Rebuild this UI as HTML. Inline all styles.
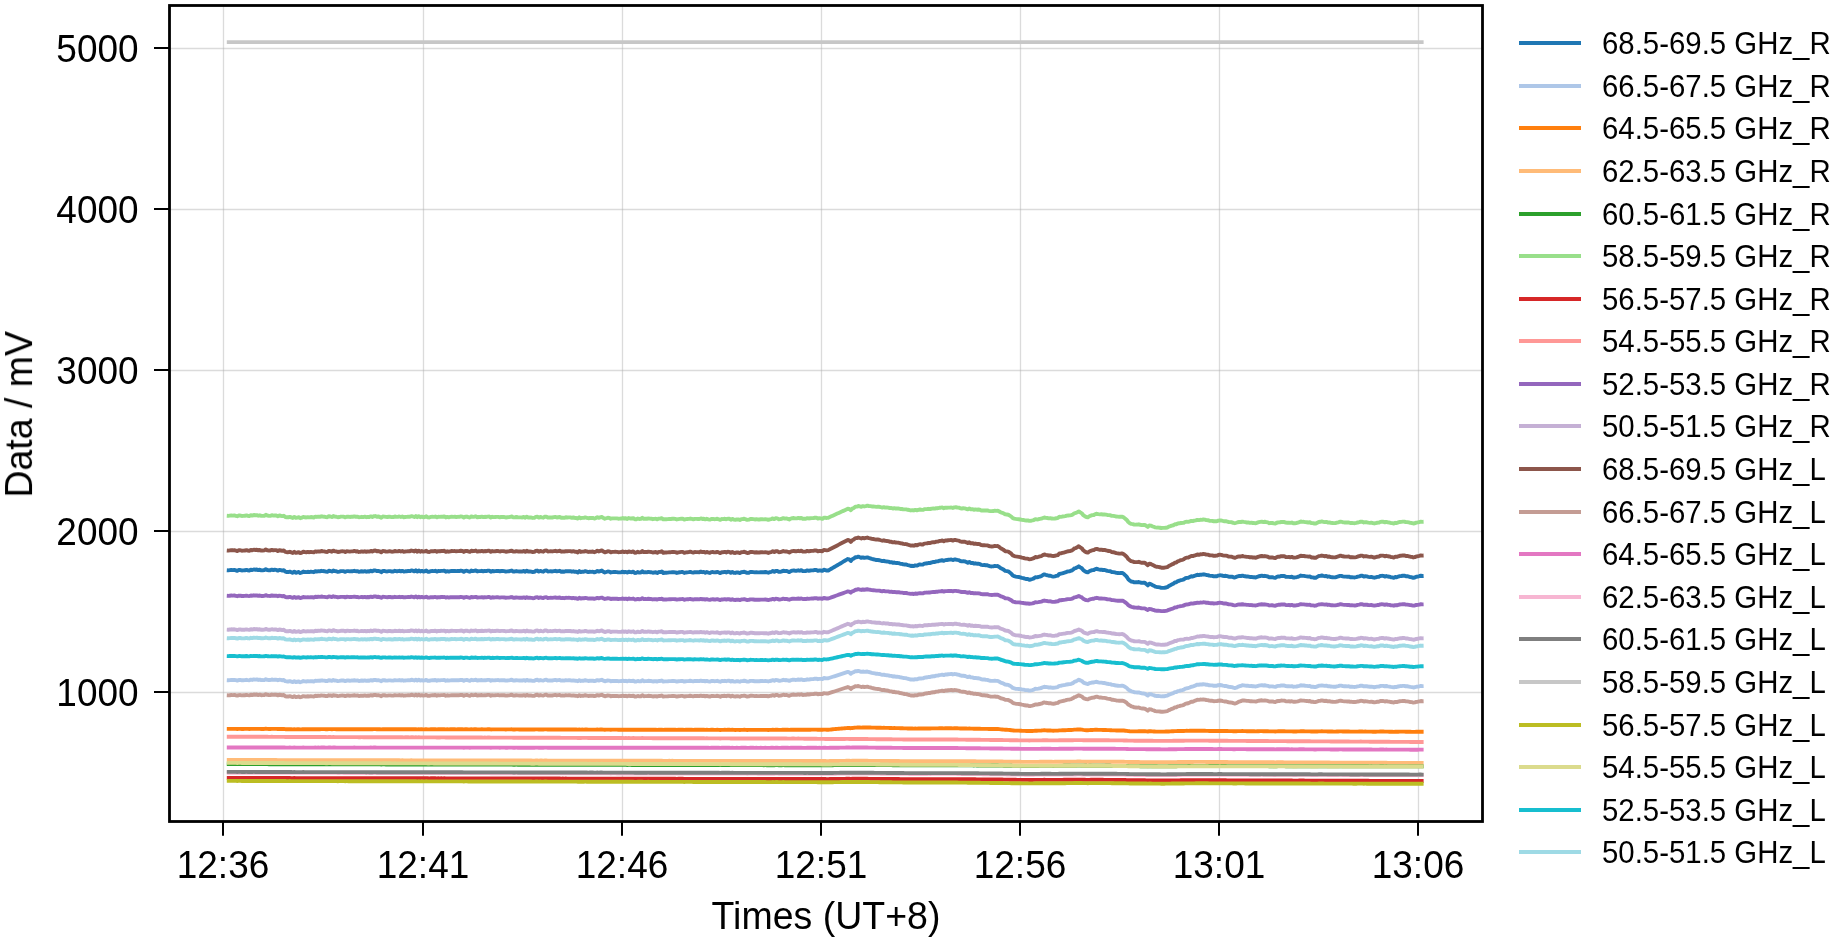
<!DOCTYPE html>
<html><head><meta charset="utf-8"><title>Data / mV</title>
<style>
html,body{margin:0;padding:0;background:#fff;width:1847px;height:941px;overflow:hidden}
svg{display:block}
text{font-family:"Liberation Sans", Arial, Helvetica, sans-serif;fill:#000;will-change:transform}
</style></head><body>
<svg width="1847" height="941" viewBox="0 0 1847 941">
<rect x="0" y="0" width="1847" height="941" fill="#fff"/>
<g stroke="#b0b0b0" stroke-opacity="0.46" stroke-width="1.3"><line x1="223.5" y1="5.5" x2="223.5" y2="821.5"/><line x1="423.5" y1="5.5" x2="423.5" y2="821.5"/><line x1="622.5" y1="5.5" x2="622.5" y2="821.5"/><line x1="821.5" y1="5.5" x2="821.5" y2="821.5"/><line x1="1020.5" y1="5.5" x2="1020.5" y2="821.5"/><line x1="1219.5" y1="5.5" x2="1219.5" y2="821.5"/><line x1="1418.5" y1="5.5" x2="1418.5" y2="821.5"/><line x1="169.5" y1="692.5" x2="1482.5" y2="692.5"/><line x1="169.5" y1="531.5" x2="1482.5" y2="531.5"/><line x1="169.5" y1="370.5" x2="1482.5" y2="370.5"/><line x1="169.5" y1="209.5" x2="1482.5" y2="209.5"/><line x1="169.5" y1="48.5" x2="1482.5" y2="48.5"/></g>
<g fill="none" stroke-width="3.9" stroke-linejoin="round" stroke-linecap="butt">
<path stroke="#1f77b4" d="M226.8 570.30L228.3 570.42L229.8 570.18L231.3 569.92L232.8 570.10L234.3 569.87L235.8 570.31L237.3 570.84L238.8 570.07L240.3 570.02L241.8 570.48L243.3 570.42L244.8 570.31L246.3 569.87L247.8 570.25L249.3 570.55L250.8 569.69L252.3 570.06L253.8 569.45L255.3 569.71L256.8 569.47L258.3 570.15L259.8 569.71L261.3 570.35L262.8 570.30L264.3 570.16L265.8 569.17L267.3 570.00L268.8 570.21L270.3 570.27L271.8 569.58L273.3 570.02L274.8 569.80L276.3 569.87L277.8 570.66L279.3 569.87L280.8 570.19L282.3 570.57L283.8 570.21L285.3 571.68L286.8 572.01L288.3 572.06L289.8 571.59L291.3 572.21L292.8 572.82L294.3 571.67L295.8 572.75L297.3 572.39L298.8 572.00L300.3 573.04L301.8 572.45L303.3 571.56L304.8 572.03L306.3 572.17L307.8 571.78L309.3 572.08L310.8 571.69L312.3 571.93L313.8 572.19L315.3 571.23L316.8 571.53L318.3 571.18L319.8 571.36L321.3 570.80L322.8 571.05L324.3 571.21L325.8 571.67L327.3 571.77L328.8 570.74L330.3 570.96L331.8 571.56L333.3 570.45L334.8 571.09L336.3 571.24L337.8 571.81L339.3 571.57L340.8 571.14L342.3 571.12L343.8 571.17L345.3 571.91L346.8 571.09L348.3 571.14L349.8 571.42L351.3 571.22L352.8 571.18L354.3 570.80L355.8 571.26L357.3 571.08L358.8 571.75L360.3 571.53L361.8 571.25L363.3 571.54L364.8 571.11L366.3 571.70L367.8 571.25L369.3 571.50L370.8 570.71L372.3 571.39L373.8 570.54L375.3 570.39L376.8 571.12L378.3 570.86L379.8 571.31L381.3 572.18L382.8 570.89L384.3 570.97L385.8 571.32L387.3 571.44L388.8 571.16L390.3 571.14L391.8 571.52L393.3 571.45L394.8 570.79L396.3 571.19L397.8 571.24L399.3 570.78L400.8 571.33L402.3 570.86L403.8 571.62L405.3 571.30L406.8 571.25L408.3 570.96L409.8 571.16L411.3 570.37L412.8 570.73L414.3 571.36L415.8 570.31L417.3 571.56L418.8 570.47L420.3 571.52L421.8 570.84L423.3 571.52L424.8 571.25L426.3 570.55L427.8 571.72L429.3 571.80L430.8 571.16L432.3 571.07L433.8 571.12L435.3 570.78L436.8 571.64L438.3 570.95L439.8 571.16L441.3 570.85L442.8 570.91L444.3 570.64L445.8 571.70L447.3 571.11L448.8 571.58L450.3 571.18L451.8 570.88L453.3 571.03L454.8 570.93L456.3 571.17L457.8 571.00L459.3 571.03L460.8 570.58L462.3 570.82L463.8 571.85L465.3 570.87L466.8 570.71L468.3 571.29L469.8 571.74L471.3 570.54L472.8 571.06L474.3 570.88L475.8 570.40L477.3 571.45L478.8 571.13L480.3 571.17L481.8 570.82L483.3 571.33L484.8 570.91L486.3 571.07L487.8 570.67L489.3 570.62L490.8 571.69L492.3 570.91L493.8 571.25L495.3 571.11L496.8 570.94L498.3 570.91L499.8 571.38L501.3 570.99L502.8 571.05L504.3 571.13L505.8 571.61L507.3 571.40L508.8 571.27L510.3 570.87L511.8 570.53L513.3 571.51L514.8 571.51L516.3 571.04L517.8 571.33L519.3 571.43L520.8 571.46L522.3 571.51L523.8 570.95L525.3 571.79L526.8 570.64L528.3 571.54L529.8 571.41L531.3 571.58L532.8 572.02L534.3 571.87L535.8 570.78L537.3 570.56L538.8 571.63L540.3 570.88L541.8 571.31L543.3 571.69L544.8 570.66L546.3 570.48L547.8 571.49L549.3 571.41L550.8 571.30L552.3 571.44L553.8 571.08L555.3 570.82L556.8 571.40L558.3 571.07L559.8 570.81L561.3 571.73L562.8 571.50L564.3 571.71L565.8 571.14L567.3 571.30L568.8 571.17L570.3 571.23L571.8 571.70L573.3 571.30L574.8 571.80L576.3 571.81L577.8 572.53L579.3 571.11L580.8 572.08L582.3 571.69L583.8 571.73L585.3 571.14L586.8 571.57L588.3 572.10L589.8 571.76L591.3 571.85L592.8 571.71L594.3 572.33L595.8 571.85L597.3 570.95L598.8 571.60L600.3 571.08L601.8 570.55L603.3 571.71L604.8 572.51L606.3 571.98L607.8 571.49L609.3 571.60L610.8 572.48L612.3 572.09L613.8 572.06L615.3 572.03L616.8 572.08L618.3 572.42L619.8 572.33L621.3 572.20L622.8 571.69L624.3 572.36L625.8 571.87L627.3 572.63L628.8 571.65L630.3 572.15L631.8 572.21L633.3 571.68L634.8 572.97L636.3 572.88L637.8 572.08L639.3 572.62L640.8 572.46L642.3 571.20L643.8 572.41L645.3 572.27L646.8 572.33L648.3 571.85L649.8 572.19L651.3 572.23L652.8 572.80L654.3 572.44L655.8 572.30L657.3 572.94L658.8 572.07L660.3 572.14L661.8 571.54L663.3 572.96L664.8 572.71L666.3 572.69L667.8 572.58L669.3 572.35L670.8 572.39L672.3 572.19L673.8 572.21L675.3 572.32L676.8 572.93L678.3 572.53L679.8 572.28L681.3 572.06L682.8 572.03L684.3 572.97L685.8 572.51L687.3 572.33L688.8 572.15L690.3 571.83L691.8 572.27L693.3 572.67L694.8 572.14L696.3 572.20L697.8 572.21L699.3 572.35L700.8 571.63L702.3 572.20L703.8 571.94L705.3 572.67L706.8 571.98L708.3 572.54L709.8 572.94L711.3 572.17L712.8 572.05L714.3 572.38L715.8 572.30L717.3 571.88L718.8 572.49L720.3 573.15L721.8 572.19L723.3 572.21L724.8 571.86L726.3 572.43L727.8 571.78L729.3 571.84L730.8 572.84L732.3 571.92L733.8 572.75L735.3 572.94L736.8 572.41L738.3 572.53L739.8 573.12L741.3 572.22L742.8 572.05L744.3 571.73L745.8 572.32L747.3 572.92L748.8 572.70L750.3 571.90L751.8 571.94L753.3 572.09L754.8 572.42L756.3 572.21L757.8 572.39L759.3 572.42L760.8 572.14L762.3 572.19L763.8 572.23L765.3 572.05L766.8 572.24L768.3 572.75L769.8 572.16L771.3 571.87L772.8 571.08L774.3 571.89L775.8 570.85L777.3 571.02L778.8 571.91L780.3 571.78L781.8 571.37L783.3 570.65L784.8 571.15L786.3 570.96L787.8 571.46L789.3 572.08L790.8 571.16L792.3 570.68L793.8 570.46L795.3 570.86L796.8 570.75L798.3 570.28L799.8 570.76L801.3 570.20L802.8 571.13L804.3 571.09L805.8 571.08L807.3 570.40L808.8 570.79L810.3 570.50L811.8 570.37L813.3 570.37L814.8 569.95L816.3 569.87L817.8 570.79L819.3 570.35L820.8 570.50L822.3 570.83L823.8 569.70L825.3 570.13L826.8 570.55L828.3 570.50L829.8 569.62L831.3 568.74L832.8 567.86L834.3 566.97L835.8 566.09L837.3 565.21L838.8 564.33L840.3 563.45L841.8 562.57L843.3 561.69L844.8 560.80L846.3 559.92L847.8 559.07L849.3 559.47L850.8 561.00L852.3 559.29L853.8 558.59L855.3 557.25L856.8 557.23L858.3 556.62L859.8 557.24L861.3 557.89L862.8 557.34L864.3 557.87L865.8 557.63L867.3 557.36L868.8 557.94L870.3 558.39L871.8 558.94L873.3 559.26L874.8 559.63L876.3 560.01L877.8 560.04L879.3 560.19L880.8 560.72L882.3 561.17L883.8 560.78L885.3 561.38L886.8 561.44L888.3 561.57L889.8 562.25L891.3 562.12L892.8 562.84L894.3 562.48L895.8 562.99L897.3 563.05L898.8 563.14L900.3 563.71L901.8 563.83L903.3 564.33L904.8 564.48L906.3 564.52L907.8 565.08L909.3 565.43L910.8 565.97L912.3 565.81L913.8 566.06L915.3 565.34L916.8 565.65L918.3 564.93L919.8 564.46L921.3 564.61L922.8 564.62L924.3 563.67L925.8 563.48L927.3 563.26L928.8 562.86L930.3 562.93L931.8 562.32L933.3 562.03L934.8 562.05L936.3 561.40L937.8 561.39L939.3 560.77L940.8 560.51L942.3 560.15L943.8 560.88L945.3 560.12L946.8 560.06L948.3 559.79L949.8 559.63L951.3 559.42L952.8 560.06L954.3 559.48L955.8 559.52L957.3 559.90L958.8 560.14L960.3 560.98L961.8 561.32L963.3 561.20L964.8 561.41L966.3 562.00L967.8 562.73L969.3 561.91L970.8 562.99L972.3 562.83L973.8 563.60L975.3 563.31L976.8 563.75L978.3 563.68L979.8 564.06L981.3 564.93L982.8 565.08L984.3 565.06L985.8 565.24L987.3 565.28L988.8 565.95L990.3 566.34L991.8 566.43L993.3 566.32L994.8 565.96L996.3 566.12L997.8 566.02L999.3 567.04L1000.8 568.25L1002.3 568.81L1003.8 569.71L1005.3 570.91L1006.8 571.09L1008.3 571.38L1009.8 572.53L1011.3 573.68L1012.8 575.50L1014.3 576.16L1015.8 576.59L1017.3 576.83L1018.8 577.03L1020.3 577.33L1021.8 577.86L1023.3 578.14L1024.8 578.70L1026.3 579.00L1027.8 579.01L1029.3 579.73L1030.8 579.52L1032.3 579.02L1033.8 578.41L1035.3 577.27L1036.8 577.38L1038.3 577.00L1039.8 576.53L1041.3 576.03L1042.8 575.06L1044.3 574.38L1045.8 574.92L1047.3 575.22L1048.8 575.74L1050.3 575.68L1051.8 576.32L1053.3 576.56L1054.8 576.32L1056.3 575.91L1057.8 575.57L1059.3 573.92L1060.8 573.76L1062.3 573.27L1063.8 572.85L1065.3 572.44L1066.8 571.75L1068.3 571.41L1069.8 571.21L1071.3 570.72L1072.8 569.86L1074.3 568.49L1075.8 568.07L1077.3 567.29L1078.8 566.32L1080.3 567.31L1081.8 568.20L1083.3 570.17L1084.8 571.24L1086.3 571.98L1087.8 572.33L1089.3 571.20L1090.8 570.59L1092.3 570.10L1093.8 570.02L1095.3 569.11L1096.8 568.77L1098.3 569.36L1099.8 569.71L1101.3 569.68L1102.8 570.00L1104.3 569.98L1105.8 570.36L1107.3 570.87L1108.8 571.10L1110.3 571.27L1111.8 572.07L1113.3 572.09L1114.8 572.46L1116.3 572.84L1117.8 572.96L1119.3 573.14L1120.8 573.03L1122.3 572.92L1123.8 573.86L1125.3 575.29L1126.8 576.90L1128.3 579.23L1129.8 580.64L1131.3 581.48L1132.8 581.72L1134.3 582.33L1135.8 582.32L1137.3 582.29L1138.8 581.98L1140.3 582.50L1141.8 582.85L1143.3 582.76L1144.8 582.71L1146.3 584.07L1147.8 585.34L1149.3 583.70L1150.8 584.10L1152.3 584.95L1153.8 585.67L1155.3 586.61L1156.8 586.96L1158.3 587.09L1159.8 587.43L1161.3 587.88L1162.8 587.89L1164.3 587.90L1165.8 587.50L1167.3 587.14L1168.8 585.97L1170.3 585.18L1171.8 584.33L1173.3 583.71L1174.8 582.45L1176.3 582.25L1177.8 581.09L1179.3 580.73L1180.8 580.18L1182.3 579.87L1183.8 579.38L1185.3 578.23L1186.8 577.90L1188.3 577.73L1189.8 577.00L1191.3 576.30L1192.8 576.45L1194.3 575.83L1195.8 575.38L1197.3 574.75L1198.8 575.05L1200.3 574.59L1201.8 574.68L1203.3 574.32L1204.8 574.51L1206.3 575.02L1207.8 575.09L1209.3 575.68L1210.8 575.86L1212.3 575.87L1213.8 576.37L1215.3 576.27L1216.8 576.25L1218.3 575.58L1219.8 575.30L1221.3 575.37L1222.8 575.76L1224.3 575.98L1225.8 575.81L1227.3 576.13L1228.8 576.71L1230.3 576.60L1231.8 576.68L1233.3 577.21L1234.8 577.48L1236.3 576.87L1237.8 576.30L1239.3 575.96L1240.8 576.06L1242.3 575.62L1243.8 575.98L1245.3 576.27L1246.8 576.57L1248.3 576.56L1249.8 576.96L1251.3 576.85L1252.8 577.18L1254.3 577.23L1255.8 577.46L1257.3 576.81L1258.8 576.26L1260.3 575.97L1261.8 575.69L1263.3 576.11L1264.8 575.79L1266.3 576.13L1267.8 576.49L1269.3 577.37L1270.8 577.21L1272.3 577.18L1273.8 577.57L1275.3 577.82L1276.8 576.90L1278.3 576.49L1279.8 576.47L1281.3 575.92L1282.8 576.05L1284.3 575.98L1285.8 576.75L1287.3 576.91L1288.8 576.86L1290.3 577.09L1291.8 576.67L1293.3 577.50L1294.8 577.43L1296.3 577.20L1297.8 576.87L1299.3 576.25L1300.8 575.55L1302.3 575.92L1303.8 575.87L1305.3 576.17L1306.8 576.32L1308.3 576.59L1309.8 576.34L1311.3 577.36L1312.8 577.35L1314.3 577.76L1315.8 577.69L1317.3 576.85L1318.8 576.05L1320.3 575.87L1321.8 575.49L1323.3 575.87L1324.8 576.21L1326.3 575.94L1327.8 576.69L1329.3 576.47L1330.8 577.09L1332.3 577.21L1333.8 577.37L1335.3 577.36L1336.8 576.86L1338.3 576.46L1339.8 575.83L1341.3 575.83L1342.8 576.35L1344.3 576.59L1345.8 576.65L1347.3 576.71L1348.8 576.60L1350.3 577.30L1351.8 577.16L1353.3 577.37L1354.8 577.44L1356.3 577.15L1357.8 576.64L1359.3 576.34L1360.8 575.72L1362.3 575.78L1363.8 576.60L1365.3 576.27L1366.8 576.43L1368.3 576.82L1369.8 577.07L1371.3 576.86L1372.8 577.28L1374.3 577.74L1375.8 577.33L1377.3 576.91L1378.8 576.86L1380.3 575.95L1381.8 575.82L1383.3 575.89L1384.8 576.57L1386.3 575.98L1387.8 576.48L1389.3 576.73L1390.8 577.21L1392.3 577.40L1393.8 577.80L1395.3 577.04L1396.8 577.19L1398.3 576.57L1399.8 576.10L1401.3 575.99L1402.8 575.74L1404.3 575.68L1405.8 576.29L1407.3 576.23L1408.8 576.64L1410.3 577.08L1411.8 577.28L1413.3 577.78L1414.8 577.50L1416.3 576.80L1417.8 576.60L1419.3 576.18L1420.8 575.72L1422.3 576.00L1423.6 575.93"/>
<path stroke="#aec7e8" d="M226.8 680.20L228.3 680.29L229.8 680.10L231.3 679.90L232.8 680.03L234.3 679.85L235.8 680.18L237.3 680.57L238.8 679.99L240.3 679.94L241.8 680.28L243.3 680.23L244.8 680.15L246.3 679.81L247.8 680.09L249.3 680.31L250.8 679.66L252.3 679.93L253.8 679.47L255.3 679.66L256.8 679.47L258.3 679.97L259.8 679.64L261.3 680.12L262.8 680.07L264.3 679.96L265.8 679.22L267.3 679.83L268.8 679.98L270.3 680.02L271.8 679.50L273.3 679.82L274.8 679.66L276.3 679.70L277.8 680.29L279.3 679.69L280.8 679.93L282.3 680.21L283.8 679.96L285.3 681.18L286.8 681.45L288.3 681.49L289.8 681.14L291.3 681.60L292.8 682.06L294.3 681.20L295.8 682.02L297.3 681.74L298.8 681.43L300.3 682.20L301.8 681.75L303.3 681.07L304.8 681.40L306.3 681.50L307.8 681.19L309.3 681.40L310.8 681.11L312.3 681.27L313.8 681.45L315.3 680.72L316.8 680.94L318.3 680.66L319.8 680.79L321.3 680.36L322.8 680.54L324.3 680.66L325.8 681.00L327.3 681.07L328.8 680.28L330.3 680.44L331.8 680.89L333.3 680.05L334.8 680.53L336.3 680.64L337.8 681.06L339.3 680.87L340.8 680.55L342.3 680.53L343.8 680.56L345.3 681.11L346.8 680.49L348.3 680.52L349.8 680.72L351.3 680.57L352.8 680.54L354.3 680.24L355.8 680.58L357.3 680.44L358.8 680.94L360.3 680.77L361.8 680.55L363.3 680.77L364.8 680.44L366.3 680.87L367.8 680.53L369.3 680.71L370.8 680.12L372.3 680.63L373.8 679.98L375.3 679.86L376.8 680.40L378.3 680.21L379.8 680.54L381.3 681.19L382.8 680.21L384.3 680.27L385.8 680.52L387.3 680.61L388.8 680.39L390.3 680.38L391.8 680.66L393.3 680.59L394.8 680.10L396.3 680.39L397.8 680.42L399.3 680.07L400.8 680.48L402.3 680.13L403.8 680.70L405.3 680.45L406.8 680.42L408.3 680.20L409.8 680.35L411.3 679.75L412.8 680.02L414.3 680.49L415.8 679.70L417.3 680.64L418.8 679.82L420.3 680.60L421.8 680.10L423.3 680.61L424.8 680.40L426.3 679.87L427.8 680.75L429.3 680.80L430.8 680.33L432.3 680.26L433.8 680.29L435.3 680.03L436.8 680.68L438.3 680.16L439.8 680.32L441.3 680.08L442.8 680.13L444.3 679.92L445.8 680.72L447.3 680.27L448.8 680.62L450.3 680.32L451.8 680.09L453.3 680.21L454.8 680.13L456.3 680.31L457.8 680.18L459.3 680.21L460.8 679.86L462.3 680.04L463.8 680.81L465.3 680.08L466.8 679.96L468.3 680.39L469.8 680.73L471.3 679.82L472.8 680.21L474.3 680.08L475.8 679.72L477.3 680.50L478.8 680.26L480.3 680.29L481.8 680.02L483.3 680.40L484.8 680.09L486.3 680.21L487.8 679.90L489.3 679.87L490.8 680.67L492.3 680.08L493.8 680.33L495.3 680.23L496.8 680.10L498.3 680.07L499.8 680.43L501.3 680.13L502.8 680.18L504.3 680.23L505.8 680.59L507.3 680.43L508.8 680.34L510.3 680.04L511.8 679.78L513.3 680.51L514.8 680.51L516.3 680.16L517.8 680.37L519.3 680.44L520.8 680.47L522.3 680.51L523.8 680.08L525.3 680.72L526.8 679.86L528.3 680.53L529.8 680.43L531.3 680.56L532.8 680.89L534.3 680.77L535.8 679.96L537.3 679.80L538.8 680.60L540.3 680.03L541.8 680.36L543.3 680.64L544.8 679.87L546.3 679.73L547.8 680.49L549.3 680.44L550.8 680.36L552.3 680.46L553.8 680.19L555.3 679.99L556.8 680.43L558.3 680.18L559.8 679.98L561.3 680.67L562.8 680.51L564.3 680.66L565.8 680.24L567.3 680.35L568.8 680.26L570.3 680.30L571.8 680.66L573.3 680.36L574.8 680.73L576.3 680.74L577.8 681.28L579.3 680.21L580.8 680.94L582.3 680.65L583.8 680.68L585.3 680.24L586.8 680.56L588.3 680.95L589.8 680.71L591.3 680.77L592.8 680.66L594.3 681.13L595.8 680.77L597.3 680.10L598.8 680.58L600.3 680.19L601.8 679.80L603.3 680.67L604.8 681.27L606.3 680.87L607.8 680.50L609.3 680.59L610.8 681.25L612.3 680.95L613.8 680.93L615.3 680.91L616.8 680.95L618.3 681.20L619.8 681.14L621.3 681.04L622.8 680.66L624.3 681.16L625.8 680.79L627.3 681.36L628.8 680.63L630.3 681.00L631.8 681.05L633.3 680.65L634.8 681.62L636.3 681.55L637.8 680.95L639.3 681.35L640.8 681.24L642.3 680.29L643.8 681.19L645.3 681.09L646.8 681.14L648.3 680.77L649.8 681.02L651.3 681.05L652.8 681.48L654.3 681.21L655.8 681.10L657.3 681.58L658.8 680.93L660.3 680.98L661.8 680.53L663.3 681.60L664.8 681.41L666.3 681.39L667.8 681.31L669.3 681.14L670.8 681.17L672.3 681.03L673.8 681.04L675.3 681.12L676.8 681.58L678.3 681.28L679.8 681.09L681.3 680.93L682.8 680.91L684.3 681.62L685.8 681.27L687.3 681.13L688.8 681.00L690.3 680.76L691.8 681.09L693.3 681.39L694.8 680.99L696.3 681.04L697.8 681.05L699.3 681.15L700.8 680.62L702.3 681.04L703.8 680.85L705.3 681.40L706.8 680.88L708.3 681.30L709.8 681.60L711.3 681.02L712.8 680.93L714.3 681.18L715.8 681.12L717.3 680.81L718.8 681.27L720.3 681.76L721.8 681.05L723.3 681.06L724.8 680.80L726.3 681.23L727.8 680.74L729.3 680.78L730.8 681.53L732.3 680.85L733.8 681.47L735.3 681.61L736.8 681.21L738.3 681.31L739.8 681.75L741.3 681.07L742.8 680.95L744.3 680.71L745.8 681.15L747.3 681.60L748.8 681.44L750.3 680.84L751.8 680.87L753.3 680.98L754.8 681.23L756.3 681.08L757.8 681.21L759.3 681.24L760.8 681.02L762.3 681.05L763.8 681.08L765.3 680.94L766.8 681.07L768.3 681.45L769.8 681.00L771.3 680.78L772.8 680.18L774.3 680.78L775.8 680.00L777.3 680.12L778.8 680.78L780.3 680.68L781.8 680.36L783.3 679.82L784.8 680.19L786.3 680.05L787.8 680.41L789.3 680.87L790.8 680.18L792.3 679.81L793.8 679.64L795.3 679.94L796.8 679.85L798.3 679.49L799.8 679.84L801.3 679.38L802.8 680.02L804.3 679.94L805.8 679.87L807.3 679.31L808.8 679.56L810.3 679.28L811.8 679.13L813.3 679.08L814.8 678.71L816.3 678.59L817.8 679.23L819.3 678.85L820.8 678.91L822.3 679.06L823.8 678.05L825.3 678.21L826.8 678.37L828.3 678.25L829.8 677.76L831.3 677.27L832.8 676.77L834.3 676.28L835.8 675.79L837.3 675.29L838.8 674.80L840.3 674.30L841.8 673.81L843.3 673.32L844.8 672.82L846.3 672.33L847.8 671.85L849.3 672.37L850.8 673.75L852.3 672.52L853.8 672.04L855.3 671.12L856.8 671.25L858.3 670.91L859.8 671.40L861.3 671.92L862.8 671.51L864.3 671.90L865.8 671.71L867.3 671.52L868.8 672.00L870.3 672.38L871.8 672.84L873.3 673.13L874.8 673.45L876.3 673.76L877.8 673.82L879.3 673.99L880.8 674.44L882.3 674.83L883.8 674.60L885.3 675.10L886.8 675.20L888.3 675.35L889.8 675.92L891.3 675.87L892.8 676.47L894.3 676.26L895.8 676.70L897.3 676.80L898.8 676.91L900.3 677.40L901.8 677.56L903.3 678.00L904.8 678.17L906.3 678.27L907.8 678.75L909.3 679.08L910.8 679.55L912.3 679.49L913.8 679.69L915.3 679.12L916.8 679.32L918.3 678.74L919.8 678.35L921.3 678.43L922.8 678.40L924.3 677.65L925.8 677.48L927.3 677.28L928.8 676.94L930.3 676.95L931.8 676.46L933.3 676.21L934.8 676.18L936.3 675.66L937.8 675.62L939.3 675.12L940.8 674.89L942.3 674.60L943.8 675.11L945.3 674.52L946.8 674.45L948.3 674.22L949.8 674.07L951.3 673.90L952.8 674.43L954.3 674.06L955.8 674.14L957.3 674.48L958.8 674.73L960.3 675.44L961.8 675.76L963.3 675.74L964.8 675.97L966.3 676.48L967.8 677.09L969.3 676.54L970.8 677.42L972.3 677.35L973.8 678.00L975.3 677.84L976.8 678.23L978.3 678.24L979.8 678.58L981.3 679.30L982.8 679.48L984.3 679.54L985.8 679.74L987.3 679.83L988.8 680.40L990.3 680.76L991.8 680.90L993.3 680.90L994.8 680.70L996.3 680.89L997.8 680.89L999.3 681.67L1000.8 682.59L1002.3 683.03L1003.8 683.73L1005.3 684.64L1006.8 684.70L1008.3 684.84L1009.8 685.68L1011.3 686.57L1012.8 687.96L1014.3 688.44L1015.8 688.71L1017.3 688.83L1018.8 688.94L1020.3 689.10L1021.8 689.46L1023.3 689.61L1024.8 689.98L1026.3 690.15L1027.8 690.11L1029.3 690.60L1030.8 690.45L1032.3 690.08L1033.8 689.63L1035.3 688.78L1036.8 688.90L1038.3 688.66L1039.8 688.34L1041.3 688.00L1042.8 687.25L1044.3 686.74L1045.8 687.05L1047.3 687.17L1048.8 687.47L1050.3 687.32L1051.8 687.68L1053.3 687.76L1054.8 687.56L1056.3 687.32L1057.8 687.10L1059.3 685.84L1060.8 685.75L1062.3 685.43L1063.8 685.17L1065.3 684.92L1066.8 684.45L1068.3 684.25L1069.8 684.15L1071.3 683.83L1072.8 683.14L1074.3 681.91L1075.8 681.40L1077.3 680.62L1078.8 679.69L1080.3 680.37L1081.8 680.98L1083.3 682.41L1084.8 683.16L1086.3 683.66L1087.8 683.99L1089.3 683.21L1090.8 682.83L1092.3 682.53L1093.8 682.55L1095.3 681.95L1096.8 681.78L1098.3 682.29L1099.8 682.63L1101.3 682.67L1102.8 682.96L1104.3 682.99L1105.8 683.32L1107.3 683.76L1108.8 683.98L1110.3 684.15L1111.8 684.83L1113.3 684.92L1114.8 685.23L1116.3 685.56L1117.8 685.69L1119.3 685.86L1120.8 685.81L1122.3 685.70L1123.8 686.12L1125.3 686.99L1126.8 688.01L1128.3 689.57L1129.8 690.44L1131.3 691.28L1132.8 691.68L1134.3 692.30L1135.8 692.43L1137.3 692.55L1138.8 692.46L1140.3 692.99L1141.8 693.40L1143.3 693.47L1144.8 693.59L1146.3 694.59L1147.8 695.51L1149.3 694.07L1150.8 694.20L1152.3 694.76L1153.8 695.23L1155.3 695.87L1156.8 696.04L1158.3 696.03L1159.8 696.18L1161.3 696.42L1162.8 696.31L1164.3 696.24L1165.8 695.95L1167.3 695.68L1168.8 694.81L1170.3 694.21L1171.8 693.55L1173.3 693.06L1174.8 692.10L1176.3 691.96L1177.8 691.10L1179.3 690.85L1180.8 690.39L1182.3 690.06L1183.8 689.60L1185.3 688.64L1186.8 688.29L1188.3 688.08L1189.8 687.44L1191.3 686.70L1192.8 686.59L1194.3 685.90L1195.8 685.33L1197.3 684.63L1198.8 684.75L1200.3 684.41L1201.8 684.48L1203.3 684.22L1204.8 684.36L1206.3 684.75L1207.8 684.81L1209.3 685.26L1210.8 685.40L1212.3 685.41L1213.8 685.79L1215.3 685.72L1216.8 685.71L1218.3 685.21L1219.8 685.05L1221.3 685.23L1222.8 685.66L1224.3 685.96L1225.8 685.97L1227.3 686.34L1228.8 686.91L1230.3 686.96L1231.8 687.16L1233.3 687.69L1234.8 688.03L1236.3 687.70L1237.8 686.89L1239.3 686.26L1240.8 685.95L1242.3 685.24L1243.8 685.33L1245.3 685.56L1246.8 685.79L1248.3 685.79L1249.8 686.10L1251.3 686.02L1252.8 686.27L1254.3 686.32L1255.8 686.50L1257.3 686.02L1258.8 685.62L1260.3 685.40L1261.8 685.20L1263.3 685.52L1264.8 685.29L1266.3 685.55L1267.8 685.83L1269.3 686.49L1270.8 686.38L1272.3 686.36L1273.8 686.67L1275.3 686.86L1276.8 686.18L1278.3 685.87L1279.8 685.87L1281.3 685.46L1282.8 685.56L1284.3 685.52L1285.8 686.11L1287.3 686.23L1288.8 686.20L1290.3 686.38L1291.8 686.08L1293.3 686.70L1294.8 686.66L1296.3 686.49L1297.8 686.25L1299.3 685.79L1300.8 685.27L1302.3 685.56L1303.8 685.53L1305.3 685.76L1306.8 685.88L1308.3 686.09L1309.8 685.91L1311.3 686.68L1312.8 686.68L1314.3 686.99L1315.8 686.95L1317.3 686.33L1318.8 685.73L1320.3 685.61L1321.8 685.33L1323.3 685.61L1324.8 685.88L1326.3 685.68L1327.8 686.25L1329.3 686.09L1330.8 686.57L1332.3 686.66L1333.8 686.79L1335.3 686.79L1336.8 686.42L1338.3 686.13L1339.8 685.66L1341.3 685.67L1342.8 686.07L1344.3 686.25L1345.8 686.30L1347.3 686.36L1348.8 686.28L1350.3 686.81L1351.8 686.72L1353.3 686.88L1354.8 686.94L1356.3 686.73L1357.8 686.35L1359.3 686.13L1360.8 685.68L1362.3 685.73L1363.8 686.35L1365.3 686.11L1366.8 686.24L1368.3 686.54L1369.8 686.73L1371.3 686.58L1372.8 686.90L1374.3 687.26L1375.8 686.95L1377.3 686.64L1378.8 686.61L1380.3 685.94L1381.8 685.85L1383.3 685.91L1384.8 686.42L1386.3 685.99L1387.8 686.37L1389.3 686.56L1390.8 686.93L1392.3 687.09L1393.8 687.39L1395.3 686.83L1396.8 686.95L1398.3 686.48L1399.8 686.14L1401.3 686.07L1402.8 685.89L1404.3 685.85L1405.8 686.31L1407.3 686.28L1408.8 686.59L1410.3 686.93L1411.8 687.08L1413.3 687.46L1414.8 687.26L1416.3 686.75L1417.8 686.60L1419.3 686.29L1420.8 685.95L1422.3 686.17L1423.6 686.12"/>
<path stroke="#ff7f0e" d="M226.8 728.90L228.3 728.92L229.8 728.89L231.3 728.86L232.8 728.88L234.3 728.86L235.8 728.91L237.3 728.98L238.8 728.89L240.3 728.88L241.8 728.94L243.3 728.93L244.8 728.92L246.3 728.87L247.8 728.92L249.3 728.96L250.8 728.86L252.3 728.90L253.8 728.83L255.3 728.86L256.8 728.84L258.3 728.92L259.8 728.87L261.3 728.95L262.8 728.94L264.3 728.93L265.8 728.81L267.3 728.91L268.8 728.94L270.3 728.95L271.8 728.87L273.3 728.92L274.8 728.90L276.3 728.91L277.8 729.01L279.3 728.91L280.8 728.95L282.3 729.00L283.8 728.97L285.3 729.18L286.8 729.23L288.3 729.24L289.8 729.19L291.3 729.27L292.8 729.35L294.3 729.21L295.8 729.35L297.3 729.30L298.8 729.26L300.3 729.38L301.8 729.31L303.3 729.20L304.8 729.26L306.3 729.28L307.8 729.23L309.3 729.26L310.8 729.22L312.3 729.25L313.8 729.28L315.3 729.16L316.8 729.20L318.3 729.16L319.8 729.18L321.3 729.11L322.8 729.14L324.3 729.17L325.8 729.22L327.3 729.24L328.8 729.11L330.3 729.14L331.8 729.22L333.3 729.09L334.8 729.16L336.3 729.18L337.8 729.25L339.3 729.23L340.8 729.18L342.3 729.18L343.8 729.18L345.3 729.28L346.8 729.18L348.3 729.19L349.8 729.22L351.3 729.20L352.8 729.20L354.3 729.15L355.8 729.21L357.3 729.19L358.8 729.27L360.3 729.25L361.8 729.22L363.3 729.25L364.8 729.20L366.3 729.28L367.8 729.22L369.3 729.26L370.8 729.16L372.3 729.25L373.8 729.15L375.3 729.13L376.8 729.22L378.3 729.19L379.8 729.25L381.3 729.35L382.8 729.20L384.3 729.21L385.8 729.26L387.3 729.27L388.8 729.24L390.3 729.24L391.8 729.29L393.3 729.28L394.8 729.20L396.3 729.25L397.8 729.26L399.3 729.21L400.8 729.28L402.3 729.22L403.8 729.31L405.3 729.28L406.8 729.27L408.3 729.24L409.8 729.27L411.3 729.17L412.8 729.22L414.3 729.30L415.8 729.17L417.3 729.32L418.8 729.20L420.3 729.32L421.8 729.24L423.3 729.33L424.8 729.30L426.3 729.21L427.8 729.36L429.3 729.37L430.8 729.29L432.3 729.28L433.8 729.29L435.3 729.25L436.8 729.36L438.3 729.28L439.8 729.30L441.3 729.27L442.8 729.28L444.3 729.25L445.8 729.38L447.3 729.31L448.8 729.37L450.3 729.32L451.8 729.29L453.3 729.31L454.8 729.30L456.3 729.33L457.8 729.31L459.3 729.31L460.8 729.26L462.3 729.29L463.8 729.42L465.3 729.30L466.8 729.28L468.3 729.36L469.8 729.41L471.3 729.27L472.8 729.33L474.3 729.31L475.8 729.26L477.3 729.39L478.8 729.35L480.3 729.36L481.8 729.32L483.3 729.38L484.8 729.33L486.3 729.35L487.8 729.31L489.3 729.30L490.8 729.43L492.3 729.34L493.8 729.38L495.3 729.37L496.8 729.35L498.3 729.35L499.8 729.41L501.3 729.36L502.8 729.37L504.3 729.38L505.8 729.44L507.3 729.42L508.8 729.41L510.3 729.36L511.8 729.32L513.3 729.44L514.8 729.44L516.3 729.39L517.8 729.42L519.3 729.44L520.8 729.44L522.3 729.45L523.8 729.39L525.3 729.49L526.8 729.35L528.3 729.47L529.8 729.45L531.3 729.47L532.8 729.53L534.3 729.51L535.8 729.38L537.3 729.36L538.8 729.49L540.3 729.40L541.8 729.46L543.3 729.51L544.8 729.38L546.3 729.37L547.8 729.49L549.3 729.48L550.8 729.47L552.3 729.49L553.8 729.45L555.3 729.42L556.8 729.49L558.3 729.46L559.8 729.43L561.3 729.54L562.8 729.51L564.3 729.54L565.8 729.48L567.3 729.50L568.8 729.48L570.3 729.49L571.8 729.55L573.3 729.51L574.8 729.57L576.3 729.57L577.8 729.66L579.3 729.49L580.8 729.61L582.3 729.57L583.8 729.58L585.3 729.51L586.8 729.56L588.3 729.63L589.8 729.59L591.3 729.60L592.8 729.59L594.3 729.66L595.8 729.61L597.3 729.50L598.8 729.58L600.3 729.52L601.8 729.46L603.3 729.60L604.8 729.70L606.3 729.64L607.8 729.58L609.3 729.60L610.8 729.71L612.3 729.66L613.8 729.66L615.3 729.66L616.8 729.67L618.3 729.71L619.8 729.70L621.3 729.69L622.8 729.63L624.3 729.72L625.8 729.66L627.3 729.75L628.8 729.64L630.3 729.70L631.8 729.71L633.3 729.65L634.8 729.81L636.3 729.80L637.8 729.70L639.3 729.77L640.8 729.75L642.3 729.60L643.8 729.75L645.3 729.74L646.8 729.75L648.3 729.69L649.8 729.73L651.3 729.74L652.8 729.81L654.3 729.77L655.8 729.75L657.3 729.83L658.8 729.73L660.3 729.74L661.8 729.67L663.3 729.84L664.8 729.81L666.3 729.81L667.8 729.80L669.3 729.78L670.8 729.78L672.3 729.76L673.8 729.77L675.3 729.78L676.8 729.86L678.3 729.81L679.8 729.78L681.3 729.76L682.8 729.76L684.3 729.87L685.8 729.82L687.3 729.80L688.8 729.78L690.3 729.74L691.8 729.80L693.3 729.85L694.8 729.78L696.3 729.79L697.8 729.80L699.3 729.82L700.8 729.73L702.3 729.80L703.8 729.77L705.3 729.86L706.8 729.78L708.3 729.85L709.8 729.90L711.3 729.81L712.8 729.80L714.3 729.84L715.8 729.83L717.3 729.78L718.8 729.86L720.3 729.94L721.8 729.83L723.3 729.83L724.8 729.79L726.3 729.86L727.8 729.78L729.3 729.79L730.8 729.92L732.3 729.81L733.8 729.91L735.3 729.93L736.8 729.87L738.3 729.89L739.8 729.96L741.3 729.85L742.8 729.84L744.3 729.80L745.8 729.87L747.3 729.95L748.8 729.92L750.3 729.83L751.8 729.83L753.3 729.85L754.8 729.90L756.3 729.87L757.8 729.90L759.3 729.90L760.8 729.87L762.3 729.88L763.8 729.88L765.3 729.86L766.8 729.88L768.3 729.94L769.8 729.87L771.3 729.84L772.8 729.74L774.3 729.84L775.8 729.72L777.3 729.74L778.8 729.84L780.3 729.83L781.8 729.78L783.3 729.69L784.8 729.75L786.3 729.73L787.8 729.79L789.3 729.86L790.8 729.75L792.3 729.70L793.8 729.67L795.3 729.72L796.8 729.71L798.3 729.65L799.8 729.71L801.3 729.64L802.8 729.75L804.3 729.75L805.8 729.75L807.3 729.67L808.8 729.72L810.3 729.68L811.8 729.67L813.3 729.67L814.8 729.62L816.3 729.61L817.8 729.72L819.3 729.67L820.8 729.69L822.3 729.73L823.8 729.60L825.3 729.65L826.8 729.70L828.3 729.70L829.8 729.57L831.3 729.44L832.8 729.30L834.3 729.17L835.8 729.04L837.3 728.91L838.8 728.78L840.3 728.64L841.8 728.51L843.3 728.38L844.8 728.25L846.3 728.11L847.8 727.98L849.3 728.03L850.8 728.20L852.3 727.94L853.8 727.80L855.3 727.59L856.8 727.55L858.3 727.45L859.8 727.51L861.3 727.58L862.8 727.49L864.3 727.53L865.8 727.48L867.3 727.42L868.8 727.49L870.3 727.53L871.8 727.59L873.3 727.62L874.8 727.65L876.3 727.69L877.8 727.69L879.3 727.71L880.8 727.78L882.3 727.84L883.8 727.80L885.3 727.88L886.8 727.89L888.3 727.91L889.8 728.00L891.3 727.99L892.8 728.09L894.3 728.05L895.8 728.12L897.3 728.13L898.8 728.15L900.3 728.22L901.8 728.25L903.3 728.32L904.8 728.34L906.3 728.36L907.8 728.44L909.3 728.49L910.8 728.56L912.3 728.55L913.8 728.60L915.3 728.53L916.8 728.59L918.3 728.52L919.8 728.48L921.3 728.52L922.8 728.54L924.3 728.45L925.8 728.44L927.3 728.44L928.8 728.41L930.3 728.43L931.8 728.38L933.3 728.36L934.8 728.39L936.3 728.33L937.8 728.34L939.3 728.29L940.8 728.28L942.3 728.26L943.8 728.37L945.3 728.30L946.8 728.31L948.3 728.30L949.8 728.31L951.3 728.30L952.8 728.36L954.3 728.29L955.8 728.28L957.3 728.32L958.8 728.35L960.3 728.44L961.8 728.48L963.3 728.46L964.8 728.48L966.3 728.55L967.8 728.63L969.3 728.53L970.8 728.65L972.3 728.63L973.8 728.71L975.3 728.67L976.8 728.72L978.3 728.71L979.8 728.74L981.3 728.84L982.8 728.86L984.3 728.85L985.8 728.87L987.3 728.87L988.8 728.94L990.3 728.98L991.8 729.00L993.3 729.00L994.8 728.96L996.3 728.99L997.8 728.99L999.3 729.14L1000.8 729.33L1002.3 729.44L1003.8 729.60L1005.3 729.78L1006.8 729.81L1008.3 729.85L1009.8 730.01L1011.3 730.19L1012.8 730.44L1014.3 730.54L1015.8 730.60L1017.3 730.64L1018.8 730.67L1020.3 730.72L1021.8 730.80L1023.3 730.84L1024.8 730.92L1026.3 730.96L1027.8 730.98L1029.3 731.07L1030.8 731.05L1032.3 730.97L1033.8 730.88L1035.3 730.72L1036.8 730.72L1038.3 730.67L1039.8 730.60L1041.3 730.52L1042.8 730.38L1044.3 730.28L1045.8 730.37L1047.3 730.44L1048.8 730.52L1050.3 730.54L1051.8 730.64L1053.3 730.69L1054.8 730.67L1056.3 730.62L1057.8 730.58L1059.3 730.36L1060.8 730.33L1062.3 730.28L1063.8 730.23L1065.3 730.18L1066.8 730.10L1068.3 730.06L1069.8 730.03L1071.3 729.98L1072.8 729.86L1074.3 729.67L1075.8 729.59L1077.3 729.47L1078.8 729.33L1080.3 729.49L1081.8 729.63L1083.3 729.91L1084.8 730.08L1086.3 730.21L1087.8 730.25L1089.3 730.10L1090.8 730.01L1092.3 729.94L1093.8 729.92L1095.3 729.80L1096.8 729.75L1098.3 729.84L1099.8 729.90L1101.3 729.91L1102.8 729.97L1104.3 729.98L1105.8 730.04L1107.3 730.11L1108.8 730.16L1110.3 730.19L1111.8 730.31L1113.3 730.33L1114.8 730.39L1116.3 730.45L1117.8 730.47L1119.3 730.50L1120.8 730.50L1122.3 730.48L1123.8 730.54L1125.3 730.69L1126.8 730.87L1128.3 731.13L1129.8 731.27L1131.3 731.33L1132.8 731.34L1134.3 731.39L1135.8 731.36L1137.3 731.33L1138.8 731.26L1140.3 731.29L1141.8 731.30L1143.3 731.26L1144.8 731.22L1146.3 731.39L1147.8 731.54L1149.3 731.29L1150.8 731.30L1152.3 731.39L1153.8 731.46L1155.3 731.56L1156.8 731.59L1158.3 731.58L1159.8 731.60L1161.3 731.63L1162.8 731.61L1164.3 731.59L1165.8 731.57L1167.3 731.56L1168.8 731.45L1170.3 731.38L1171.8 731.30L1173.3 731.24L1174.8 731.11L1176.3 731.12L1177.8 731.01L1179.3 731.00L1180.8 730.97L1182.3 730.96L1183.8 730.94L1185.3 730.83L1186.8 730.82L1188.3 730.84L1189.8 730.78L1191.3 730.73L1192.8 730.79L1194.3 730.75L1195.8 730.73L1197.3 730.69L1198.8 730.77L1200.3 730.76L1201.8 730.78L1203.3 730.74L1204.8 730.77L1206.3 730.84L1207.8 730.85L1209.3 730.93L1210.8 730.96L1212.3 730.97L1213.8 731.04L1215.3 731.03L1216.8 731.04L1218.3 730.96L1219.8 730.94L1221.3 730.95L1222.8 731.01L1224.3 731.04L1225.8 731.03L1227.3 731.07L1228.8 731.15L1230.3 731.14L1231.8 731.16L1233.3 731.23L1234.8 731.27L1236.3 731.20L1237.8 731.14L1239.3 731.10L1240.8 731.12L1242.3 731.07L1243.8 731.12L1245.3 731.16L1246.8 731.20L1248.3 731.20L1249.8 731.26L1251.3 731.25L1252.8 731.29L1254.3 731.30L1255.8 731.34L1257.3 731.26L1258.8 731.20L1260.3 731.17L1261.8 731.14L1263.3 731.20L1264.8 731.17L1266.3 731.21L1267.8 731.26L1269.3 731.37L1270.8 731.36L1272.3 731.36L1273.8 731.41L1275.3 731.44L1276.8 731.34L1278.3 731.29L1279.8 731.30L1281.3 731.24L1282.8 731.26L1284.3 731.25L1285.8 731.35L1287.3 731.38L1288.8 731.37L1290.3 731.41L1291.8 731.36L1293.3 731.47L1294.8 731.46L1296.3 731.44L1297.8 731.40L1299.3 731.33L1300.8 731.26L1302.3 731.31L1303.8 731.30L1305.3 731.35L1306.8 731.37L1308.3 731.41L1309.8 731.38L1311.3 731.51L1312.8 731.51L1314.3 731.57L1315.8 731.56L1317.3 731.47L1318.8 731.38L1320.3 731.36L1321.8 731.32L1323.3 731.37L1324.8 731.41L1326.3 731.39L1327.8 731.48L1329.3 731.46L1330.8 731.54L1332.3 731.56L1333.8 731.58L1335.3 731.59L1336.8 731.53L1338.3 731.49L1339.8 731.42L1341.3 731.42L1342.8 731.49L1344.3 731.52L1345.8 731.54L1347.3 731.55L1348.8 731.54L1350.3 731.63L1351.8 731.62L1353.3 731.65L1354.8 731.66L1356.3 731.63L1357.8 731.58L1359.3 731.54L1360.8 731.48L1362.3 731.49L1363.8 731.59L1365.3 731.56L1366.8 731.58L1368.3 731.63L1369.8 731.67L1371.3 731.65L1372.8 731.70L1374.3 731.76L1375.8 731.72L1377.3 731.67L1378.8 731.67L1380.3 731.57L1381.8 731.56L1383.3 731.57L1384.8 731.66L1386.3 731.59L1387.8 731.66L1389.3 731.69L1390.8 731.75L1392.3 731.78L1393.8 731.83L1395.3 731.75L1396.8 731.77L1398.3 731.70L1399.8 731.65L1401.3 731.64L1402.8 731.62L1404.3 731.61L1405.8 731.69L1407.3 731.69L1408.8 731.74L1410.3 731.80L1411.8 731.83L1413.3 731.90L1414.8 731.87L1416.3 731.79L1417.8 731.77L1419.3 731.72L1420.8 731.67L1422.3 731.71L1423.6 731.71"/>
<path stroke="#ffbb78" d="M226.8 760.00L228.3 760.01L229.8 760.00L231.3 760.00L232.8 760.00L234.3 760.00L235.8 760.02L237.3 760.03L238.8 760.01L240.3 760.01L241.8 760.03L243.3 760.03L244.8 760.03L246.3 760.02L247.8 760.03L249.3 760.05L250.8 760.02L252.3 760.04L253.8 760.02L255.3 760.03L256.8 760.03L258.3 760.05L259.8 760.04L261.3 760.06L262.8 760.06L264.3 760.06L265.8 760.03L267.3 760.06L268.8 760.07L270.3 760.07L271.8 760.06L273.3 760.07L274.8 760.07L276.3 760.07L277.8 760.10L279.3 760.08L280.8 760.09L282.3 760.10L283.8 760.10L285.3 760.14L286.8 760.15L288.3 760.16L289.8 760.15L291.3 760.17L292.8 760.19L294.3 760.16L295.8 760.19L297.3 760.18L298.8 760.18L300.3 760.21L301.8 760.19L303.3 760.17L304.8 760.19L306.3 760.19L307.8 760.18L309.3 760.20L310.8 760.19L312.3 760.20L313.8 760.21L315.3 760.18L316.8 760.19L318.3 760.18L319.8 760.19L321.3 760.18L322.8 760.19L324.3 760.20L325.8 760.21L327.3 760.22L328.8 760.19L330.3 760.20L331.8 760.22L333.3 760.19L334.8 760.21L336.3 760.22L337.8 760.24L339.3 760.23L340.8 760.22L342.3 760.22L343.8 760.23L345.3 760.25L346.8 760.23L348.3 760.23L349.8 760.25L351.3 760.24L352.8 760.24L354.3 760.23L355.8 760.25L357.3 760.25L358.8 760.27L360.3 760.27L361.8 760.26L363.3 760.27L364.8 760.26L366.3 760.28L367.8 760.27L369.3 760.28L370.8 760.26L372.3 760.28L373.8 760.26L375.3 760.26L376.8 760.28L378.3 760.28L379.8 760.29L381.3 760.32L382.8 760.29L384.3 760.29L385.8 760.30L387.3 760.31L388.8 760.30L390.3 760.31L391.8 760.32L393.3 760.32L394.8 760.30L396.3 760.32L397.8 760.32L399.3 760.31L400.8 760.33L402.3 760.32L403.8 760.34L405.3 760.34L406.8 760.34L408.3 760.33L409.8 760.34L411.3 760.32L412.8 760.33L414.3 760.35L415.8 760.33L417.3 760.37L418.8 760.34L420.3 760.37L421.8 760.35L423.3 760.38L424.8 760.37L426.3 760.35L427.8 760.39L429.3 760.39L430.8 760.38L432.3 760.38L433.8 760.38L435.3 760.37L436.8 760.40L438.3 760.38L439.8 760.39L441.3 760.39L442.8 760.39L444.3 760.39L445.8 760.42L447.3 760.40L448.8 760.42L450.3 760.41L451.8 760.41L453.3 760.41L454.8 760.41L456.3 760.42L457.8 760.42L459.3 760.42L460.8 760.41L462.3 760.42L463.8 760.46L465.3 760.43L466.8 760.43L468.3 760.45L469.8 760.46L471.3 760.43L472.8 760.45L474.3 760.44L475.8 760.43L477.3 760.47L478.8 760.46L480.3 760.46L481.8 760.46L483.3 760.47L484.8 760.46L486.3 760.47L487.8 760.46L489.3 760.46L490.8 760.50L492.3 760.48L493.8 760.49L495.3 760.49L496.8 760.48L498.3 760.49L499.8 760.50L501.3 760.49L502.8 760.50L504.3 760.50L505.8 760.52L507.3 760.52L508.8 760.52L510.3 760.51L511.8 760.50L513.3 760.53L514.8 760.53L516.3 760.52L517.8 760.53L519.3 760.54L520.8 760.54L522.3 760.55L523.8 760.53L525.3 760.56L526.8 760.53L528.3 760.56L529.8 760.56L531.3 760.56L532.8 760.58L534.3 760.58L535.8 760.55L537.3 760.54L538.8 760.58L540.3 760.56L541.8 760.57L543.3 760.59L544.8 760.56L546.3 760.56L547.8 760.59L549.3 760.59L550.8 760.59L552.3 760.60L553.8 760.59L555.3 760.58L556.8 760.60L558.3 760.59L559.8 760.59L561.3 760.62L562.8 760.62L564.3 760.62L565.8 760.61L567.3 760.62L568.8 760.62L570.3 760.62L571.8 760.64L573.3 760.63L574.8 760.64L576.3 760.65L577.8 760.67L579.3 760.63L580.8 760.66L582.3 760.65L583.8 760.66L585.3 760.64L586.8 760.66L588.3 760.68L589.8 760.67L591.3 760.67L592.8 760.67L594.3 760.69L595.8 760.68L597.3 760.66L598.8 760.68L600.3 760.67L601.8 760.65L603.3 760.69L604.8 760.72L606.3 760.70L607.8 760.69L609.3 760.70L610.8 760.73L612.3 760.72L613.8 760.72L615.3 760.72L616.8 760.73L618.3 760.74L619.8 760.74L621.3 760.74L622.8 760.72L624.3 760.75L625.8 760.73L627.3 760.76L628.8 760.73L630.3 760.75L631.8 760.76L633.3 760.74L634.8 760.78L636.3 760.78L637.8 760.76L639.3 760.78L640.8 760.78L642.3 760.74L643.8 760.78L645.3 760.78L646.8 760.78L648.3 760.77L649.8 760.79L651.3 760.79L652.8 760.81L654.3 760.80L655.8 760.80L657.3 760.82L658.8 760.80L660.3 760.80L661.8 760.79L663.3 760.83L664.8 760.83L666.3 760.83L667.8 760.83L669.3 760.82L670.8 760.83L672.3 760.82L673.8 760.83L675.3 760.83L676.8 760.85L678.3 760.85L679.8 760.84L681.3 760.84L682.8 760.84L684.3 760.87L685.8 760.86L687.3 760.85L688.8 760.85L690.3 760.84L691.8 760.86L693.3 760.88L694.8 760.86L696.3 760.87L697.8 760.87L699.3 760.88L700.8 760.86L702.3 760.88L703.8 760.87L705.3 760.90L706.8 760.88L708.3 760.90L709.8 760.91L711.3 760.89L712.8 760.89L714.3 760.90L715.8 760.90L717.3 760.89L718.8 760.91L720.3 760.94L721.8 760.91L723.3 760.91L724.8 760.91L726.3 760.92L727.8 760.91L729.3 760.91L730.8 760.94L732.3 760.92L733.8 760.95L735.3 760.96L736.8 760.94L738.3 760.95L739.8 760.97L741.3 760.94L742.8 760.94L744.3 760.93L745.8 760.96L747.3 760.98L748.8 760.97L750.3 760.95L751.8 760.95L753.3 760.96L754.8 760.97L756.3 760.97L757.8 760.98L759.3 760.98L760.8 760.98L762.3 760.98L763.8 760.98L765.3 760.98L766.8 760.99L768.3 761.01L769.8 760.99L771.3 760.99L772.8 760.96L774.3 760.99L775.8 760.96L777.3 760.97L778.8 761.00L780.3 761.00L781.8 760.99L783.3 760.97L784.8 760.99L786.3 760.98L787.8 761.00L789.3 761.02L790.8 761.00L792.3 760.99L793.8 760.98L795.3 761.00L796.8 761.00L798.3 760.98L799.8 761.00L801.3 760.99L802.8 761.02L804.3 761.02L805.8 761.03L807.3 761.01L808.8 761.03L810.3 761.03L811.8 761.03L813.3 761.03L814.8 761.02L816.3 761.02L817.8 761.06L819.3 761.05L820.8 761.06L822.3 761.07L823.8 761.04L825.3 761.06L826.8 761.08L828.3 761.08L829.8 761.06L831.3 761.04L832.8 761.01L834.3 760.99L835.8 760.97L837.3 760.95L838.8 760.93L840.3 760.90L841.8 760.88L843.3 760.86L844.8 760.84L846.3 760.82L847.8 760.80L849.3 760.81L850.8 760.86L852.3 760.82L853.8 760.80L855.3 760.76L856.8 760.77L858.3 760.75L859.8 760.78L861.3 760.80L862.8 760.79L864.3 760.81L865.8 760.81L867.3 760.80L868.8 760.83L870.3 760.84L871.8 760.86L873.3 760.88L874.8 760.89L876.3 760.91L877.8 760.92L879.3 760.92L880.8 760.95L882.3 760.96L883.8 760.96L885.3 760.98L886.8 760.98L888.3 760.99L889.8 761.02L891.3 761.02L892.8 761.04L894.3 761.04L895.8 761.06L897.3 761.06L898.8 761.07L900.3 761.09L901.8 761.10L903.3 761.12L904.8 761.13L906.3 761.14L907.8 761.16L909.3 761.17L910.8 761.19L912.3 761.19L913.8 761.20L915.3 761.19L916.8 761.20L918.3 761.18L919.8 761.18L921.3 761.18L922.8 761.19L924.3 761.16L925.8 761.16L927.3 761.16L928.8 761.15L930.3 761.16L931.8 761.15L933.3 761.14L934.8 761.15L936.3 761.13L937.8 761.14L939.3 761.12L940.8 761.12L942.3 761.11L943.8 761.14L945.3 761.12L946.8 761.12L948.3 761.12L949.8 761.12L951.3 761.12L952.8 761.14L954.3 761.13L955.8 761.14L957.3 761.15L958.8 761.16L960.3 761.19L961.8 761.21L963.3 761.21L964.8 761.22L966.3 761.24L967.8 761.27L969.3 761.25L970.8 761.29L972.3 761.28L973.8 761.31L975.3 761.31L976.8 761.33L978.3 761.33L979.8 761.34L981.3 761.38L982.8 761.38L984.3 761.39L985.8 761.40L987.3 761.40L988.8 761.43L990.3 761.44L991.8 761.45L993.3 761.45L994.8 761.45L996.3 761.46L997.8 761.46L999.3 761.49L1000.8 761.53L1002.3 761.55L1003.8 761.58L1005.3 761.62L1006.8 761.62L1008.3 761.63L1009.8 761.67L1011.3 761.70L1012.8 761.76L1014.3 761.78L1015.8 761.79L1017.3 761.80L1018.8 761.81L1020.3 761.82L1021.8 761.84L1023.3 761.85L1024.8 761.87L1026.3 761.88L1027.8 761.88L1029.3 761.90L1030.8 761.90L1032.3 761.88L1033.8 761.86L1035.3 761.83L1036.8 761.84L1038.3 761.83L1039.8 761.81L1041.3 761.80L1042.8 761.77L1044.3 761.75L1045.8 761.77L1047.3 761.78L1048.8 761.80L1050.3 761.80L1051.8 761.82L1053.3 761.83L1054.8 761.82L1056.3 761.81L1057.8 761.80L1059.3 761.75L1060.8 761.75L1062.3 761.73L1063.8 761.72L1065.3 761.71L1066.8 761.69L1068.3 761.68L1069.8 761.68L1071.3 761.67L1072.8 761.64L1074.3 761.60L1075.8 761.59L1077.3 761.57L1078.8 761.54L1080.3 761.57L1081.8 761.60L1083.3 761.66L1084.8 761.69L1086.3 761.72L1087.8 761.73L1089.3 761.69L1090.8 761.68L1092.3 761.66L1093.8 761.66L1095.3 761.64L1096.8 761.63L1098.3 761.65L1099.8 761.66L1101.3 761.66L1102.8 761.67L1104.3 761.67L1105.8 761.68L1107.3 761.70L1108.8 761.71L1110.3 761.71L1111.8 761.74L1113.3 761.74L1114.8 761.75L1116.3 761.77L1117.8 761.77L1119.3 761.78L1120.8 761.78L1122.3 761.77L1123.8 761.80L1125.3 761.85L1126.8 761.90L1128.3 761.97L1129.8 762.01L1131.3 762.04L1132.8 762.05L1134.3 762.07L1135.8 762.07L1137.3 762.07L1138.8 762.06L1140.3 762.08L1141.8 762.09L1143.3 762.09L1144.8 762.09L1146.3 762.13L1147.8 762.17L1149.3 762.12L1150.8 762.13L1152.3 762.16L1153.8 762.18L1155.3 762.21L1156.8 762.22L1158.3 762.23L1159.8 762.24L1161.3 762.26L1162.8 762.26L1164.3 762.26L1165.8 762.25L1167.3 762.24L1168.8 762.20L1170.3 762.18L1171.8 762.16L1173.3 762.14L1174.8 762.10L1176.3 762.10L1177.8 762.07L1179.3 762.06L1180.8 762.04L1182.3 762.03L1183.8 762.02L1185.3 761.99L1186.8 761.98L1188.3 761.97L1189.8 761.95L1191.3 761.93L1192.8 761.94L1194.3 761.92L1195.8 761.91L1197.3 761.89L1198.8 761.90L1200.3 761.89L1201.8 761.90L1203.3 761.90L1204.8 761.91L1206.3 761.93L1207.8 761.94L1209.3 761.97L1210.8 761.98L1212.3 761.99L1213.8 762.01L1215.3 762.01L1216.8 762.02L1218.3 762.00L1219.8 762.00L1221.3 762.01L1222.8 762.03L1224.3 762.05L1225.8 762.05L1227.3 762.06L1228.8 762.09L1230.3 762.09L1231.8 762.10L1233.3 762.12L1234.8 762.14L1236.3 762.13L1237.8 762.12L1239.3 762.11L1240.8 762.12L1242.3 762.12L1243.8 762.14L1245.3 762.15L1246.8 762.17L1248.3 762.17L1249.8 762.19L1251.3 762.20L1252.8 762.21L1254.3 762.22L1255.8 762.24L1257.3 762.22L1258.8 762.22L1260.3 762.21L1261.8 762.21L1263.3 762.23L1264.8 762.23L1266.3 762.25L1267.8 762.26L1269.3 762.30L1270.8 762.30L1272.3 762.31L1273.8 762.32L1275.3 762.34L1276.8 762.32L1278.3 762.31L1279.8 762.32L1281.3 762.31L1282.8 762.32L1284.3 762.33L1285.8 762.36L1287.3 762.37L1288.8 762.37L1290.3 762.39L1291.8 762.38L1293.3 762.41L1294.8 762.42L1296.3 762.42L1297.8 762.42L1299.3 762.40L1300.8 762.39L1302.3 762.41L1303.8 762.41L1305.3 762.43L1306.8 762.44L1308.3 762.46L1309.8 762.46L1311.3 762.49L1312.8 762.50L1314.3 762.52L1315.8 762.52L1317.3 762.51L1318.8 762.49L1320.3 762.49L1321.8 762.49L1323.3 762.51L1324.8 762.52L1326.3 762.52L1327.8 762.55L1329.3 762.55L1330.8 762.58L1332.3 762.59L1333.8 762.60L1335.3 762.61L1336.8 762.60L1338.3 762.59L1339.8 762.58L1341.3 762.59L1342.8 762.61L1344.3 762.63L1345.8 762.63L1347.3 762.64L1348.8 762.65L1350.3 762.67L1351.8 762.68L1353.3 762.69L1354.8 762.70L1356.3 762.70L1357.8 762.69L1359.3 762.69L1360.8 762.68L1362.3 762.69L1363.8 762.72L1365.3 762.71L1366.8 762.73L1368.3 762.74L1369.8 762.76L1371.3 762.76L1372.8 762.78L1374.3 762.80L1375.8 762.80L1377.3 762.79L1378.8 762.79L1380.3 762.77L1381.8 762.78L1383.3 762.79L1384.8 762.81L1386.3 762.80L1387.8 762.83L1389.3 762.84L1390.8 762.86L1392.3 762.87L1393.8 762.89L1395.3 762.88L1396.8 762.89L1398.3 762.88L1399.8 762.87L1401.3 762.87L1402.8 762.87L1404.3 762.88L1405.8 762.90L1407.3 762.91L1408.8 762.93L1410.3 762.95L1411.8 762.96L1413.3 762.98L1414.8 762.98L1416.3 762.97L1417.8 762.97L1419.3 762.96L1420.8 762.96L1422.3 762.97L1423.6 762.98"/>
<path stroke="#2ca02c" d="M226.8 764.10L228.3 764.11L229.8 764.10L231.3 764.10L232.8 764.11L234.3 764.10L235.8 764.12L237.3 764.14L238.8 764.12L240.3 764.12L241.8 764.13L243.3 764.13L244.8 764.13L246.3 764.12L247.8 764.14L249.3 764.15L250.8 764.13L252.3 764.14L253.8 764.13L255.3 764.14L256.8 764.13L258.3 764.16L259.8 764.14L261.3 764.17L262.8 764.17L264.3 764.17L265.8 764.14L267.3 764.17L268.8 764.18L270.3 764.18L271.8 764.16L273.3 764.18L274.8 764.18L276.3 764.18L277.8 764.21L279.3 764.19L280.8 764.20L282.3 764.21L283.8 764.21L285.3 764.25L286.8 764.27L288.3 764.27L289.8 764.26L291.3 764.28L292.8 764.30L294.3 764.27L295.8 764.30L297.3 764.30L298.8 764.29L300.3 764.32L301.8 764.31L303.3 764.28L304.8 764.30L306.3 764.31L307.8 764.30L309.3 764.31L310.8 764.30L312.3 764.31L313.8 764.32L315.3 764.30L316.8 764.31L318.3 764.30L319.8 764.31L321.3 764.29L322.8 764.30L324.3 764.31L325.8 764.33L327.3 764.33L328.8 764.31L330.3 764.32L331.8 764.34L333.3 764.31L334.8 764.33L336.3 764.34L337.8 764.36L339.3 764.35L340.8 764.34L342.3 764.34L343.8 764.35L345.3 764.37L346.8 764.35L348.3 764.36L349.8 764.37L351.3 764.36L352.8 764.37L354.3 764.36L355.8 764.37L357.3 764.37L358.8 764.39L360.3 764.39L361.8 764.38L363.3 764.40L364.8 764.39L366.3 764.41L367.8 764.40L369.3 764.41L370.8 764.39L372.3 764.41L373.8 764.39L375.3 764.38L376.8 764.41L378.3 764.40L379.8 764.42L381.3 764.45L382.8 764.41L384.3 764.42L385.8 764.43L387.3 764.44L388.8 764.43L390.3 764.44L391.8 764.45L393.3 764.45L394.8 764.43L396.3 764.45L397.8 764.45L399.3 764.44L400.8 764.46L402.3 764.45L403.8 764.48L405.3 764.47L406.8 764.47L408.3 764.46L409.8 764.47L411.3 764.45L412.8 764.47L414.3 764.49L415.8 764.46L417.3 764.50L418.8 764.47L420.3 764.50L421.8 764.49L423.3 764.51L424.8 764.50L426.3 764.49L427.8 764.52L429.3 764.53L430.8 764.51L432.3 764.51L433.8 764.52L435.3 764.51L436.8 764.54L438.3 764.52L439.8 764.53L441.3 764.52L442.8 764.53L444.3 764.52L445.8 764.56L447.3 764.54L448.8 764.56L450.3 764.55L451.8 764.54L453.3 764.55L454.8 764.55L456.3 764.56L457.8 764.56L459.3 764.56L460.8 764.55L462.3 764.56L463.8 764.60L465.3 764.57L466.8 764.57L468.3 764.59L469.8 764.60L471.3 764.57L472.8 764.59L474.3 764.59L475.8 764.58L477.3 764.61L478.8 764.60L480.3 764.61L481.8 764.60L483.3 764.62L484.8 764.61L486.3 764.62L487.8 764.61L489.3 764.61L490.8 764.64L492.3 764.62L493.8 764.64L495.3 764.63L496.8 764.63L498.3 764.63L499.8 764.65L501.3 764.64L502.8 764.65L504.3 764.65L505.8 764.67L507.3 764.67L508.8 764.66L510.3 764.66L511.8 764.65L513.3 764.68L514.8 764.68L516.3 764.67L517.8 764.68L519.3 764.69L520.8 764.69L522.3 764.70L523.8 764.68L525.3 764.71L526.8 764.68L528.3 764.71L529.8 764.71L531.3 764.72L532.8 764.73L534.3 764.73L535.8 764.70L537.3 764.70L538.8 764.73L540.3 764.71L541.8 764.73L543.3 764.74L544.8 764.71L546.3 764.71L547.8 764.74L549.3 764.75L550.8 764.75L552.3 764.75L553.8 764.74L555.3 764.74L556.8 764.76L558.3 764.75L559.8 764.75L561.3 764.78L562.8 764.77L564.3 764.78L565.8 764.77L567.3 764.78L568.8 764.78L570.3 764.78L571.8 764.80L573.3 764.79L574.8 764.81L576.3 764.81L577.8 764.83L579.3 764.79L580.8 764.83L582.3 764.82L583.8 764.82L585.3 764.81L586.8 764.82L588.3 764.84L589.8 764.83L591.3 764.84L592.8 764.84L594.3 764.86L595.8 764.85L597.3 764.82L598.8 764.85L600.3 764.83L601.8 764.82L603.3 764.86L604.8 764.88L606.3 764.87L607.8 764.86L609.3 764.86L610.8 764.89L612.3 764.89L613.8 764.89L615.3 764.89L616.8 764.89L618.3 764.91L619.8 764.91L621.3 764.91L622.8 764.89L624.3 764.92L625.8 764.90L627.3 764.93L628.8 764.90L630.3 764.92L631.8 764.93L633.3 764.91L634.8 764.95L636.3 764.95L637.8 764.93L639.3 764.95L640.8 764.95L642.3 764.92L643.8 764.95L645.3 764.95L646.8 764.96L648.3 764.95L649.8 764.96L651.3 764.96L652.8 764.98L654.3 764.98L655.8 764.97L657.3 765.00L658.8 764.97L660.3 764.98L661.8 764.96L663.3 765.01L664.8 765.00L666.3 765.01L667.8 765.01L669.3 765.00L670.8 765.01L672.3 765.00L673.8 765.01L675.3 765.01L676.8 765.03L678.3 765.02L679.8 765.02L681.3 765.02L682.8 765.02L684.3 765.05L685.8 765.04L687.3 765.03L688.8 765.03L690.3 765.03L691.8 765.04L693.3 765.06L694.8 765.04L696.3 765.05L697.8 765.05L699.3 765.06L700.8 765.04L702.3 765.06L703.8 765.05L705.3 765.08L706.8 765.06L708.3 765.08L709.8 765.10L711.3 765.08L712.8 765.07L714.3 765.09L715.8 765.09L717.3 765.08L718.8 765.10L720.3 765.12L721.8 765.10L723.3 765.10L724.8 765.09L726.3 765.11L727.8 765.10L729.3 765.10L730.8 765.13L732.3 765.11L733.8 765.14L735.3 765.14L736.8 765.13L738.3 765.14L739.8 765.16L741.3 765.13L742.8 765.13L744.3 765.13L745.8 765.15L747.3 765.17L748.8 765.16L750.3 765.14L751.8 765.15L753.3 765.15L754.8 765.17L756.3 765.16L757.8 765.17L759.3 765.17L760.8 765.17L762.3 765.17L763.8 765.18L765.3 765.17L766.8 765.18L768.3 765.20L769.8 765.19L771.3 765.18L772.8 765.16L774.3 765.19L775.8 765.16L777.3 765.17L778.8 765.20L780.3 765.20L781.8 765.19L783.3 765.17L784.8 765.18L786.3 765.18L787.8 765.20L789.3 765.22L790.8 765.20L792.3 765.18L793.8 765.18L795.3 765.20L796.8 765.20L798.3 765.18L799.8 765.20L801.3 765.19L802.8 765.22L804.3 765.22L805.8 765.23L807.3 765.21L808.8 765.23L810.3 765.22L811.8 765.22L813.3 765.22L814.8 765.21L816.3 765.22L817.8 765.25L819.3 765.24L820.8 765.25L822.3 765.26L823.8 765.23L825.3 765.25L826.8 765.26L828.3 765.27L829.8 765.24L831.3 765.22L832.8 765.20L834.3 765.17L835.8 765.15L837.3 765.13L838.8 765.11L840.3 765.08L841.8 765.06L843.3 765.04L844.8 765.02L846.3 764.99L847.8 764.97L849.3 764.99L850.8 765.04L852.3 764.99L853.8 764.97L855.3 764.94L856.8 764.94L858.3 764.92L859.8 764.95L861.3 764.97L862.8 764.96L864.3 764.98L865.8 764.97L867.3 764.97L868.8 764.99L870.3 765.01L871.8 765.03L873.3 765.04L874.8 765.06L876.3 765.07L877.8 765.08L879.3 765.08L880.8 765.10L882.3 765.12L883.8 765.11L885.3 765.14L886.8 765.14L888.3 765.15L889.8 765.17L891.3 765.17L892.8 765.20L894.3 765.19L895.8 765.21L897.3 765.22L898.8 765.22L900.3 765.24L901.8 765.25L903.3 765.27L904.8 765.28L906.3 765.28L907.8 765.30L909.3 765.32L910.8 765.34L912.3 765.34L913.8 765.35L915.3 765.33L916.8 765.34L918.3 765.33L919.8 765.32L921.3 765.32L922.8 765.33L924.3 765.30L925.8 765.30L927.3 765.30L928.8 765.29L930.3 765.30L931.8 765.28L933.3 765.28L934.8 765.28L936.3 765.27L937.8 765.27L939.3 765.25L940.8 765.25L942.3 765.24L943.8 765.27L945.3 765.25L946.8 765.25L948.3 765.25L949.8 765.25L951.3 765.24L952.8 765.27L954.3 765.25L955.8 765.26L957.3 765.27L958.8 765.28L960.3 765.31L961.8 765.33L963.3 765.33L964.8 765.34L966.3 765.36L967.8 765.38L969.3 765.36L970.8 765.40L972.3 765.40L973.8 765.43L975.3 765.42L976.8 765.44L978.3 765.44L979.8 765.45L981.3 765.48L982.8 765.49L984.3 765.50L985.8 765.51L987.3 765.51L988.8 765.53L990.3 765.55L991.8 765.56L993.3 765.56L994.8 765.55L996.3 765.56L997.8 765.56L999.3 765.59L1000.8 765.63L1002.3 765.65L1003.8 765.68L1005.3 765.72L1006.8 765.72L1008.3 765.73L1009.8 765.77L1011.3 765.80L1012.8 765.86L1014.3 765.88L1015.8 765.89L1017.3 765.90L1018.8 765.91L1020.3 765.92L1021.8 765.94L1023.3 765.95L1024.8 765.97L1026.3 765.98L1027.8 765.98L1029.3 766.00L1030.8 766.00L1032.3 765.98L1033.8 765.96L1035.3 765.93L1036.8 765.94L1038.3 765.93L1039.8 765.91L1041.3 765.90L1042.8 765.87L1044.3 765.85L1045.8 765.87L1047.3 765.88L1048.8 765.90L1050.3 765.90L1051.8 765.92L1053.3 765.93L1054.8 765.92L1056.3 765.91L1057.8 765.90L1059.3 765.85L1060.8 765.85L1062.3 765.83L1063.8 765.82L1065.3 765.81L1066.8 765.79L1068.3 765.78L1069.8 765.78L1071.3 765.77L1072.8 765.74L1074.3 765.70L1075.8 765.69L1077.3 765.67L1078.8 765.64L1080.3 765.67L1081.8 765.70L1083.3 765.76L1084.8 765.79L1086.3 765.82L1087.8 765.83L1089.3 765.79L1090.8 765.78L1092.3 765.76L1093.8 765.76L1095.3 765.74L1096.8 765.73L1098.3 765.75L1099.8 765.76L1101.3 765.76L1102.8 765.77L1104.3 765.77L1105.8 765.78L1107.3 765.80L1108.8 765.81L1110.3 765.81L1111.8 765.84L1113.3 765.84L1114.8 765.85L1116.3 765.87L1117.8 765.87L1119.3 765.88L1120.8 765.88L1122.3 765.87L1123.8 765.90L1125.3 765.95L1126.8 766.00L1128.3 766.07L1129.8 766.11L1131.3 766.14L1132.8 766.15L1134.3 766.17L1135.8 766.17L1137.3 766.17L1138.8 766.16L1140.3 766.18L1141.8 766.19L1143.3 766.19L1144.8 766.19L1146.3 766.23L1147.8 766.27L1149.3 766.22L1150.8 766.23L1152.3 766.26L1153.8 766.28L1155.3 766.31L1156.8 766.32L1158.3 766.33L1159.8 766.34L1161.3 766.36L1162.8 766.36L1164.3 766.36L1165.8 766.35L1167.3 766.34L1168.8 766.30L1170.3 766.28L1171.8 766.26L1173.3 766.24L1174.8 766.20L1176.3 766.20L1177.8 766.17L1179.3 766.16L1180.8 766.14L1182.3 766.13L1183.8 766.12L1185.3 766.09L1186.8 766.08L1188.3 766.07L1189.8 766.05L1191.3 766.03L1192.8 766.04L1194.3 766.02L1195.8 766.01L1197.3 765.99L1198.8 766.00L1200.3 765.99L1201.8 766.00L1203.3 765.99L1204.8 765.99L1206.3 766.01L1207.8 766.02L1209.3 766.04L1210.8 766.04L1212.3 766.05L1213.8 766.06L1215.3 766.06L1216.8 766.07L1218.3 766.05L1219.8 766.04L1221.3 766.05L1222.8 766.06L1224.3 766.07L1225.8 766.07L1227.3 766.08L1228.8 766.10L1230.3 766.10L1231.8 766.10L1233.3 766.12L1234.8 766.13L1236.3 766.11L1237.8 766.10L1239.3 766.09L1240.8 766.10L1242.3 766.09L1243.8 766.10L1245.3 766.11L1246.8 766.12L1248.3 766.12L1249.8 766.14L1251.3 766.14L1252.8 766.15L1254.3 766.15L1255.8 766.16L1257.3 766.15L1258.8 766.13L1260.3 766.12L1261.8 766.12L1263.3 766.13L1264.8 766.13L1266.3 766.14L1267.8 766.15L1269.3 766.18L1270.8 766.18L1272.3 766.18L1273.8 766.19L1275.3 766.20L1276.8 766.18L1278.3 766.17L1279.8 766.17L1281.3 766.16L1282.8 766.16L1284.3 766.16L1285.8 766.19L1287.3 766.19L1288.8 766.20L1290.3 766.20L1291.8 766.19L1293.3 766.22L1294.8 766.22L1296.3 766.22L1297.8 766.21L1299.3 766.19L1300.8 766.17L1302.3 766.19L1303.8 766.19L1305.3 766.20L1306.8 766.21L1308.3 766.22L1309.8 766.21L1311.3 766.25L1312.8 766.25L1314.3 766.26L1315.8 766.26L1317.3 766.24L1318.8 766.22L1320.3 766.21L1321.8 766.21L1323.3 766.22L1324.8 766.23L1326.3 766.23L1327.8 766.25L1329.3 766.25L1330.8 766.27L1332.3 766.27L1333.8 766.28L1335.3 766.28L1336.8 766.27L1338.3 766.26L1339.8 766.24L1341.3 766.25L1342.8 766.26L1344.3 766.27L1345.8 766.28L1347.3 766.28L1348.8 766.28L1350.3 766.30L1351.8 766.30L1353.3 766.31L1354.8 766.32L1356.3 766.31L1357.8 766.30L1359.3 766.29L1360.8 766.27L1362.3 766.28L1363.8 766.30L1365.3 766.30L1366.8 766.30L1368.3 766.32L1369.8 766.33L1371.3 766.32L1372.8 766.34L1374.3 766.35L1375.8 766.34L1377.3 766.33L1378.8 766.34L1380.3 766.31L1381.8 766.31L1383.3 766.31L1384.8 766.34L1386.3 766.32L1387.8 766.34L1389.3 766.35L1390.8 766.36L1392.3 766.37L1393.8 766.39L1395.3 766.37L1396.8 766.37L1398.3 766.36L1399.8 766.34L1401.3 766.34L1402.8 766.34L1404.3 766.34L1405.8 766.36L1407.3 766.36L1408.8 766.38L1410.3 766.39L1411.8 766.40L1413.3 766.42L1414.8 766.41L1416.3 766.39L1417.8 766.39L1419.3 766.38L1420.8 766.37L1422.3 766.38L1423.6 766.38"/>
<path stroke="#98df8a" d="M226.8 515.75L228.3 515.86L229.8 515.65L231.3 515.42L232.8 515.58L234.3 515.38L235.8 515.78L237.3 516.27L238.8 515.57L240.3 515.53L241.8 515.95L243.3 515.90L244.8 515.80L246.3 515.41L247.8 515.76L249.3 516.03L250.8 515.26L252.3 515.60L253.8 515.05L255.3 515.29L256.8 515.08L258.3 515.69L259.8 515.30L261.3 515.88L262.8 515.84L264.3 515.71L265.8 514.83L267.3 515.58L268.8 515.77L270.3 515.83L271.8 515.21L273.3 515.61L274.8 515.42L276.3 515.49L277.8 516.19L279.3 515.49L280.8 515.78L282.3 516.13L283.8 515.78L285.3 516.98L286.8 517.26L288.3 517.30L289.8 516.87L291.3 517.42L292.8 517.97L294.3 516.93L295.8 517.90L297.3 517.59L298.8 517.25L300.3 518.19L301.8 517.67L303.3 516.88L304.8 517.31L306.3 517.45L307.8 517.11L309.3 517.39L310.8 517.05L312.3 517.28L313.8 517.52L315.3 516.67L316.8 516.95L318.3 516.64L319.8 516.81L321.3 516.31L322.8 516.54L324.3 516.69L325.8 517.11L327.3 517.20L328.8 516.27L330.3 516.47L331.8 517.02L333.3 516.03L334.8 516.61L336.3 516.75L337.8 517.26L339.3 517.05L340.8 516.67L342.3 516.65L343.8 516.70L345.3 517.37L346.8 516.64L348.3 516.69L349.8 516.94L351.3 516.76L352.8 516.73L354.3 516.39L355.8 516.81L357.3 516.65L358.8 517.26L360.3 517.07L361.8 516.81L363.3 517.08L364.8 516.70L366.3 517.22L367.8 516.83L369.3 517.05L370.8 516.35L372.3 516.97L373.8 516.20L375.3 516.07L376.8 516.73L378.3 516.50L379.8 516.91L381.3 517.70L382.8 516.54L384.3 516.62L385.8 516.93L387.3 517.04L388.8 516.79L390.3 516.78L391.8 517.13L393.3 517.06L394.8 516.48L396.3 516.84L397.8 516.89L399.3 516.48L400.8 516.98L402.3 516.55L403.8 517.25L405.3 516.96L406.8 516.92L408.3 516.66L409.8 516.85L411.3 516.14L412.8 516.47L414.3 517.03L415.8 516.09L417.3 517.22L418.8 516.24L420.3 517.19L421.8 516.59L423.3 517.20L424.8 516.96L426.3 516.33L427.8 517.39L429.3 517.46L430.8 516.90L432.3 516.82L433.8 516.86L435.3 516.56L436.8 517.34L438.3 516.73L439.8 516.91L441.3 516.64L442.8 516.70L444.3 516.46L445.8 517.42L447.3 516.89L448.8 517.31L450.3 516.95L451.8 516.69L453.3 516.83L454.8 516.74L456.3 516.96L457.8 516.82L459.3 516.85L460.8 516.44L462.3 516.66L463.8 517.59L465.3 516.72L466.8 516.57L468.3 517.10L469.8 517.51L471.3 516.43L472.8 516.90L474.3 516.74L475.8 516.32L477.3 517.27L478.8 516.98L480.3 517.02L481.8 516.71L483.3 517.17L484.8 516.80L486.3 516.95L487.8 516.58L489.3 516.55L490.8 517.51L492.3 516.82L493.8 517.12L495.3 517.00L496.8 516.85L498.3 516.83L499.8 517.26L501.3 516.91L502.8 516.97L504.3 517.04L505.8 517.47L507.3 517.29L508.8 517.18L510.3 516.82L511.8 516.52L513.3 517.40L514.8 517.41L516.3 516.99L517.8 517.25L519.3 517.34L520.8 517.38L522.3 517.43L523.8 516.93L525.3 517.69L526.8 516.67L528.3 517.49L529.8 517.37L531.3 517.53L532.8 517.93L534.3 517.81L535.8 516.83L537.3 516.65L538.8 517.62L540.3 516.94L541.8 517.34L543.3 517.69L544.8 516.77L546.3 516.61L547.8 517.53L549.3 517.47L550.8 517.38L552.3 517.51L553.8 517.19L555.3 516.96L556.8 517.49L558.3 517.21L559.8 516.97L561.3 517.80L562.8 517.61L564.3 517.81L565.8 517.30L567.3 517.45L568.8 517.34L570.3 517.40L571.8 517.83L573.3 517.48L574.8 517.93L576.3 517.95L577.8 518.60L579.3 517.33L580.8 518.21L582.3 517.87L583.8 517.91L585.3 517.39L586.8 517.79L588.3 518.26L589.8 517.97L591.3 518.05L592.8 517.93L594.3 518.50L595.8 518.08L597.3 517.27L598.8 517.86L600.3 517.40L601.8 516.94L603.3 517.99L604.8 518.71L606.3 518.24L607.8 517.80L609.3 517.91L610.8 518.72L612.3 518.37L613.8 518.35L615.3 518.33L616.8 518.38L618.3 518.69L619.8 518.62L621.3 518.51L622.8 518.06L624.3 518.67L625.8 518.23L627.3 518.93L628.8 518.05L630.3 518.50L631.8 518.57L633.3 518.09L634.8 519.27L636.3 519.19L637.8 518.48L639.3 518.97L640.8 518.83L642.3 517.71L643.8 518.80L645.3 518.69L646.8 518.76L648.3 518.33L649.8 518.64L651.3 518.68L652.8 519.21L654.3 518.89L655.8 518.77L657.3 519.36L658.8 518.58L660.3 518.65L661.8 518.12L663.3 519.41L664.8 519.19L666.3 519.18L667.8 519.10L669.3 518.89L670.8 518.94L672.3 518.77L673.8 518.80L675.3 518.91L676.8 519.47L678.3 519.11L679.8 518.89L681.3 518.70L682.8 518.69L684.3 519.54L685.8 519.14L687.3 518.98L688.8 518.83L690.3 518.55L691.8 518.95L693.3 519.32L694.8 518.85L696.3 518.92L697.8 518.93L699.3 519.06L700.8 518.43L702.3 518.95L703.8 518.72L705.3 519.39L706.8 518.77L708.3 519.29L709.8 519.66L711.3 518.97L712.8 518.87L714.3 519.18L715.8 519.11L717.3 518.75L718.8 519.30L720.3 519.90L721.8 519.05L723.3 519.08L724.8 518.77L726.3 519.29L727.8 518.71L729.3 518.77L730.8 519.68L732.3 518.86L733.8 519.62L735.3 519.80L736.8 519.33L738.3 519.45L739.8 519.99L741.3 519.18L742.8 519.04L744.3 518.76L745.8 519.30L747.3 519.85L748.8 519.66L750.3 518.95L751.8 518.99L753.3 519.13L754.8 519.44L756.3 519.26L757.8 519.43L759.3 519.47L760.8 519.23L762.3 519.29L763.8 519.34L765.3 519.19L766.8 519.37L768.3 519.85L769.8 519.33L771.3 519.09L772.8 518.39L774.3 519.13L775.8 518.21L777.3 518.37L778.8 519.19L780.3 519.09L781.8 518.73L783.3 518.10L784.8 518.57L786.3 518.41L787.8 518.87L789.3 519.44L790.8 518.63L792.3 518.22L793.8 518.03L795.3 518.41L796.8 518.33L798.3 517.92L799.8 518.36L801.3 517.87L802.8 518.71L804.3 518.69L805.8 518.69L807.3 518.09L808.8 518.46L810.3 518.20L811.8 518.10L813.3 518.11L814.8 517.74L816.3 517.67L817.8 518.51L819.3 518.13L820.8 518.47L822.3 518.89L823.8 517.64L825.3 517.79L826.8 517.94L828.3 517.71L829.8 517.02L831.3 516.34L832.8 515.65L834.3 514.97L835.8 514.29L837.3 513.60L838.8 512.92L840.3 512.23L841.8 511.55L843.3 510.86L844.8 510.18L846.3 509.49L847.8 508.80L849.3 508.99L850.8 510.19L852.3 508.64L853.8 508.01L855.3 506.77L856.8 506.67L858.3 506.01L859.8 506.38L861.3 506.77L862.8 506.11L864.3 506.43L865.8 506.06L867.3 505.65L868.8 505.97L870.3 506.17L871.8 506.46L873.3 506.54L874.8 506.67L876.3 506.83L877.8 506.73L879.3 506.80L880.8 507.20L882.3 507.54L883.8 507.11L885.3 507.58L886.8 507.56L888.3 507.61L889.8 508.14L891.3 507.96L892.8 508.54L894.3 508.14L895.8 508.53L897.3 508.51L898.8 508.52L900.3 508.96L901.8 508.99L903.3 509.36L904.8 509.41L906.3 509.37L907.8 509.79L909.3 510.02L910.8 510.43L912.3 510.20L913.8 510.45L915.3 509.93L916.8 510.34L918.3 509.81L919.8 509.51L921.3 509.77L922.8 509.90L924.3 509.16L925.8 509.13L927.3 509.05L928.8 508.81L930.3 509.00L931.8 508.58L933.3 508.45L934.8 508.59L936.3 508.13L937.8 508.25L939.3 507.81L940.8 507.69L942.3 507.48L943.8 508.25L945.3 507.69L946.8 507.75L948.3 507.62L949.8 507.59L951.3 507.48L952.8 507.97L954.3 507.36L955.8 507.30L957.3 507.54L958.8 507.66L960.3 508.31L961.8 508.51L963.3 508.30L964.8 508.38L966.3 508.80L967.8 509.36L969.3 508.53L970.8 509.40L972.3 509.16L973.8 509.76L975.3 509.40L976.8 509.70L978.3 509.54L979.8 509.78L981.3 510.46L982.8 510.50L984.3 510.38L985.8 510.44L987.3 510.37L988.8 510.87L990.3 511.12L991.8 511.14L993.3 511.03L994.8 510.69L996.3 510.82L997.8 510.71L999.3 511.52L1000.8 512.46L1002.3 512.82L1003.8 513.49L1005.3 514.43L1006.8 514.55L1008.3 514.77L1009.8 515.69L1011.3 516.58L1012.8 518.07L1014.3 518.57L1015.8 518.93L1017.3 519.10L1018.8 519.26L1020.3 519.49L1021.8 519.85L1023.3 519.97L1024.8 520.35L1026.3 520.49L1027.8 520.39L1029.3 520.91L1030.8 520.71L1032.3 520.43L1033.8 520.05L1035.3 519.20L1036.8 519.45L1038.3 519.25L1039.8 518.96L1041.3 518.66L1042.8 517.99L1044.3 517.50L1045.8 517.85L1047.3 517.98L1048.8 518.31L1050.3 518.12L1051.8 518.56L1053.3 518.65L1054.8 518.47L1056.3 518.24L1057.8 518.09L1059.3 516.81L1060.8 516.84L1062.3 516.55L1063.8 516.31L1065.3 516.09L1066.8 515.61L1068.3 515.45L1069.8 515.41L1071.3 515.12L1072.8 514.48L1074.3 513.28L1075.8 512.94L1077.3 512.27L1078.8 511.43L1080.3 512.44L1081.8 513.34L1083.3 515.21L1084.8 516.27L1086.3 517.04L1087.8 517.29L1089.3 516.23L1090.8 515.63L1092.3 515.14L1093.8 515.01L1095.3 514.12L1096.8 513.75L1098.3 514.18L1099.8 514.39L1101.3 514.26L1102.8 514.44L1104.3 514.33L1105.8 514.58L1107.3 514.95L1108.8 515.07L1110.3 515.19L1111.8 515.87L1113.3 515.86L1114.8 516.19L1116.3 516.53L1117.8 516.64L1119.3 516.82L1120.8 516.73L1122.3 516.65L1123.8 517.50L1125.3 518.69L1126.8 520.04L1128.3 522.04L1129.8 523.23L1131.3 523.92L1132.8 524.07L1134.3 524.61L1135.8 524.59L1137.3 524.57L1138.8 524.30L1140.3 524.78L1141.8 525.10L1143.3 525.02L1144.8 524.96L1146.3 525.96L1147.8 526.90L1149.3 525.40L1150.8 525.67L1152.3 526.27L1153.8 526.75L1155.3 527.42L1156.8 527.59L1158.3 527.57L1159.8 527.73L1161.3 528.01L1162.8 527.87L1164.3 527.86L1165.8 527.69L1167.3 527.53L1168.8 526.67L1170.3 526.15L1171.8 525.59L1173.3 525.24L1174.8 524.32L1176.3 524.31L1177.8 523.44L1179.3 523.31L1180.8 523.00L1182.3 522.94L1183.8 522.71L1185.3 521.88L1186.8 521.78L1188.3 521.84L1189.8 521.38L1191.3 520.86L1192.8 521.11L1194.3 520.65L1195.8 520.35L1197.3 519.87L1198.8 520.17L1200.3 519.76L1201.8 519.83L1203.3 519.50L1204.8 519.67L1206.3 520.12L1207.8 520.18L1209.3 520.71L1210.8 520.86L1212.3 520.86L1213.8 521.31L1215.3 521.22L1216.8 521.19L1218.3 520.58L1219.8 520.36L1221.3 520.50L1222.8 520.95L1224.3 521.23L1225.8 521.17L1227.3 521.54L1228.8 522.15L1230.3 522.14L1231.8 522.31L1233.3 522.87L1234.8 523.21L1236.3 522.74L1237.8 522.23L1239.3 521.92L1240.8 522.01L1242.3 521.62L1243.8 521.93L1245.3 522.20L1246.8 522.47L1248.3 522.46L1249.8 522.82L1251.3 522.71L1252.8 523.01L1254.3 523.06L1255.8 523.27L1257.3 522.68L1258.8 522.18L1260.3 521.92L1261.8 521.67L1263.3 522.05L1264.8 521.76L1266.3 522.06L1267.8 522.38L1269.3 523.18L1270.8 523.04L1272.3 523.00L1273.8 523.36L1275.3 523.58L1276.8 522.75L1278.3 522.38L1279.8 522.36L1281.3 521.86L1282.8 521.98L1284.3 521.92L1285.8 522.61L1287.3 522.76L1288.8 522.70L1290.3 522.92L1291.8 522.54L1293.3 523.28L1294.8 523.22L1296.3 523.01L1297.8 522.71L1299.3 522.15L1300.8 521.52L1302.3 521.85L1303.8 521.81L1305.3 522.08L1306.8 522.21L1308.3 522.45L1309.8 522.23L1311.3 523.15L1312.8 523.14L1314.3 523.50L1315.8 523.44L1317.3 522.69L1318.8 521.96L1320.3 521.81L1321.8 521.46L1323.3 521.80L1324.8 522.11L1326.3 521.86L1327.8 522.53L1329.3 522.34L1330.8 522.90L1332.3 523.00L1333.8 523.15L1335.3 523.13L1336.8 522.69L1338.3 522.33L1339.8 521.76L1341.3 521.75L1342.8 522.22L1344.3 522.44L1345.8 522.49L1347.3 522.55L1348.8 522.45L1350.3 523.07L1351.8 522.95L1353.3 523.13L1354.8 523.20L1356.3 522.94L1357.8 522.48L1359.3 522.20L1360.8 521.65L1362.3 521.70L1363.8 522.44L1365.3 522.14L1366.8 522.29L1368.3 522.64L1369.8 522.86L1371.3 522.67L1372.8 523.04L1374.3 523.46L1375.8 523.09L1377.3 522.71L1378.8 522.66L1380.3 521.85L1381.8 521.73L1383.3 521.79L1384.8 522.40L1386.3 521.87L1387.8 522.32L1389.3 522.54L1390.8 522.97L1392.3 523.15L1393.8 523.50L1395.3 522.82L1396.8 522.96L1398.3 522.39L1399.8 521.97L1401.3 521.87L1402.8 521.65L1404.3 521.59L1405.8 522.14L1407.3 522.09L1408.8 522.45L1410.3 522.85L1411.8 523.03L1413.3 523.48L1414.8 523.22L1416.3 522.60L1417.8 522.41L1419.3 522.03L1420.8 521.62L1422.3 521.87L1423.6 521.81"/>
<path stroke="#d62728" d="M226.8 777.90L228.3 777.91L229.8 777.90L231.3 777.90L232.8 777.91L234.3 777.90L235.8 777.92L237.3 777.94L238.8 777.92L240.3 777.92L241.8 777.93L243.3 777.93L244.8 777.93L246.3 777.92L247.8 777.94L249.3 777.95L250.8 777.93L252.3 777.94L253.8 777.93L255.3 777.94L256.8 777.93L258.3 777.96L259.8 777.94L261.3 777.97L262.8 777.97L264.3 777.97L265.8 777.94L267.3 777.97L268.8 777.98L270.3 777.98L271.8 777.96L273.3 777.98L274.8 777.98L276.3 777.98L277.8 778.01L279.3 777.99L280.8 778.00L282.3 778.01L283.8 778.01L285.3 778.05L286.8 778.07L288.3 778.07L289.8 778.06L291.3 778.08L292.8 778.10L294.3 778.07L295.8 778.10L297.3 778.10L298.8 778.09L300.3 778.12L301.8 778.11L303.3 778.08L304.8 778.10L306.3 778.11L307.8 778.10L309.3 778.11L310.8 778.10L312.3 778.11L313.8 778.12L315.3 778.10L316.8 778.11L318.3 778.10L319.8 778.11L321.3 778.09L322.8 778.10L324.3 778.11L325.8 778.13L327.3 778.13L328.8 778.11L330.3 778.12L331.8 778.14L333.3 778.11L334.8 778.13L336.3 778.14L337.8 778.16L339.3 778.15L340.8 778.14L342.3 778.14L343.8 778.15L345.3 778.17L346.8 778.15L348.3 778.16L349.8 778.17L351.3 778.16L352.8 778.17L354.3 778.16L355.8 778.17L357.3 778.17L358.8 778.19L360.3 778.19L361.8 778.18L363.3 778.20L364.8 778.19L366.3 778.21L367.8 778.20L369.3 778.21L370.8 778.19L372.3 778.21L373.8 778.19L375.3 778.18L376.8 778.21L378.3 778.20L379.8 778.22L381.3 778.25L382.8 778.21L384.3 778.22L385.8 778.23L387.3 778.24L388.8 778.23L390.3 778.24L391.8 778.25L393.3 778.25L394.8 778.23L396.3 778.25L397.8 778.25L399.3 778.24L400.8 778.26L402.3 778.25L403.8 778.28L405.3 778.27L406.8 778.27L408.3 778.26L409.8 778.27L411.3 778.25L412.8 778.27L414.3 778.29L415.8 778.26L417.3 778.30L418.8 778.27L420.3 778.30L421.8 778.29L423.3 778.31L424.8 778.30L426.3 778.29L427.8 778.32L429.3 778.33L430.8 778.31L432.3 778.31L433.8 778.32L435.3 778.31L436.8 778.34L438.3 778.32L439.8 778.33L441.3 778.32L442.8 778.33L444.3 778.32L445.8 778.36L447.3 778.34L448.8 778.36L450.3 778.35L451.8 778.34L453.3 778.35L454.8 778.35L456.3 778.36L457.8 778.36L459.3 778.36L460.8 778.35L462.3 778.36L463.8 778.40L465.3 778.37L466.8 778.37L468.3 778.39L469.8 778.40L471.3 778.37L472.8 778.39L474.3 778.39L475.8 778.38L477.3 778.41L478.8 778.40L480.3 778.41L481.8 778.40L483.3 778.42L484.8 778.41L486.3 778.42L487.8 778.41L489.3 778.41L490.8 778.44L492.3 778.42L493.8 778.44L495.3 778.43L496.8 778.43L498.3 778.43L499.8 778.45L501.3 778.44L502.8 778.45L504.3 778.45L505.8 778.47L507.3 778.47L508.8 778.46L510.3 778.46L511.8 778.45L513.3 778.48L514.8 778.48L516.3 778.47L517.8 778.48L519.3 778.49L520.8 778.49L522.3 778.50L523.8 778.48L525.3 778.51L526.8 778.48L528.3 778.51L529.8 778.51L531.3 778.52L532.8 778.53L534.3 778.53L535.8 778.50L537.3 778.50L538.8 778.53L540.3 778.51L541.8 778.53L543.3 778.54L544.8 778.51L546.3 778.51L547.8 778.54L549.3 778.55L550.8 778.55L552.3 778.55L553.8 778.54L555.3 778.54L556.8 778.56L558.3 778.55L559.8 778.55L561.3 778.58L562.8 778.57L564.3 778.58L565.8 778.57L567.3 778.58L568.8 778.58L570.3 778.58L571.8 778.60L573.3 778.59L574.8 778.61L576.3 778.61L577.8 778.63L579.3 778.59L580.8 778.63L582.3 778.62L583.8 778.62L585.3 778.61L586.8 778.62L588.3 778.64L589.8 778.63L591.3 778.64L592.8 778.64L594.3 778.66L595.8 778.65L597.3 778.62L598.8 778.65L600.3 778.63L601.8 778.62L603.3 778.66L604.8 778.68L606.3 778.67L607.8 778.66L609.3 778.66L610.8 778.69L612.3 778.69L613.8 778.69L615.3 778.69L616.8 778.69L618.3 778.71L619.8 778.71L621.3 778.71L622.8 778.69L624.3 778.72L625.8 778.70L627.3 778.73L628.8 778.70L630.3 778.72L631.8 778.73L633.3 778.71L634.8 778.75L636.3 778.75L637.8 778.73L639.3 778.75L640.8 778.75L642.3 778.72L643.8 778.75L645.3 778.75L646.8 778.76L648.3 778.75L649.8 778.76L651.3 778.76L652.8 778.78L654.3 778.78L655.8 778.77L657.3 778.80L658.8 778.77L660.3 778.78L661.8 778.76L663.3 778.81L664.8 778.80L666.3 778.81L667.8 778.81L669.3 778.80L670.8 778.81L672.3 778.80L673.8 778.81L675.3 778.81L676.8 778.83L678.3 778.82L679.8 778.82L681.3 778.82L682.8 778.82L684.3 778.85L685.8 778.84L687.3 778.83L688.8 778.83L690.3 778.83L691.8 778.84L693.3 778.86L694.8 778.84L696.3 778.85L697.8 778.85L699.3 778.86L700.8 778.84L702.3 778.86L703.8 778.85L705.3 778.88L706.8 778.86L708.3 778.88L709.8 778.90L711.3 778.88L712.8 778.87L714.3 778.89L715.8 778.89L717.3 778.88L718.8 778.90L720.3 778.92L721.8 778.90L723.3 778.90L724.8 778.89L726.3 778.91L727.8 778.90L729.3 778.90L730.8 778.93L732.3 778.91L733.8 778.94L735.3 778.94L736.8 778.93L738.3 778.94L739.8 778.96L741.3 778.93L742.8 778.93L744.3 778.93L745.8 778.95L747.3 778.97L748.8 778.96L750.3 778.94L751.8 778.95L753.3 778.95L754.8 778.97L756.3 778.96L757.8 778.97L759.3 778.97L760.8 778.97L762.3 778.97L763.8 778.98L765.3 778.97L766.8 778.98L768.3 779.00L769.8 778.99L771.3 778.98L772.8 778.96L774.3 778.99L775.8 778.96L777.3 778.97L778.8 779.00L780.3 779.00L781.8 778.99L783.3 778.97L784.8 778.98L786.3 778.98L787.8 779.00L789.3 779.02L790.8 779.00L792.3 778.98L793.8 778.98L795.3 779.00L796.8 779.00L798.3 778.98L799.8 779.00L801.3 778.99L802.8 779.02L804.3 779.02L805.8 779.03L807.3 779.01L808.8 779.03L810.3 779.03L811.8 779.03L813.3 779.03L814.8 779.02L816.3 779.02L817.8 779.06L819.3 779.05L820.8 779.06L822.3 779.07L823.8 779.04L825.3 779.06L826.8 779.08L828.3 779.08L829.8 779.06L831.3 779.04L832.8 779.01L834.3 778.99L835.8 778.97L837.3 778.95L838.8 778.93L840.3 778.90L841.8 778.88L843.3 778.86L844.8 778.84L846.3 778.82L847.8 778.80L849.3 778.81L850.8 778.86L852.3 778.82L853.8 778.80L855.3 778.76L856.8 778.77L858.3 778.75L859.8 778.78L861.3 778.80L862.8 778.79L864.3 778.81L865.8 778.81L867.3 778.80L868.8 778.83L870.3 778.84L871.8 778.86L873.3 778.88L874.8 778.89L876.3 778.91L877.8 778.92L879.3 778.92L880.8 778.95L882.3 778.96L883.8 778.96L885.3 778.98L886.8 778.98L888.3 778.99L889.8 779.02L891.3 779.02L892.8 779.04L894.3 779.04L895.8 779.06L897.3 779.06L898.8 779.07L900.3 779.09L901.8 779.10L903.3 779.12L904.8 779.13L906.3 779.14L907.8 779.16L909.3 779.17L910.8 779.19L912.3 779.19L913.8 779.20L915.3 779.19L916.8 779.20L918.3 779.18L919.8 779.18L921.3 779.18L922.8 779.19L924.3 779.16L925.8 779.16L927.3 779.16L928.8 779.15L930.3 779.16L931.8 779.15L933.3 779.14L934.8 779.15L936.3 779.13L937.8 779.14L939.3 779.12L940.8 779.12L942.3 779.11L943.8 779.14L945.3 779.12L946.8 779.12L948.3 779.12L949.8 779.12L951.3 779.12L952.8 779.14L954.3 779.13L955.8 779.14L957.3 779.15L958.8 779.16L960.3 779.19L961.8 779.21L963.3 779.21L964.8 779.22L966.3 779.24L967.8 779.27L969.3 779.25L970.8 779.29L972.3 779.28L973.8 779.31L975.3 779.31L976.8 779.33L978.3 779.33L979.8 779.34L981.3 779.38L982.8 779.38L984.3 779.39L985.8 779.40L987.3 779.40L988.8 779.43L990.3 779.44L991.8 779.45L993.3 779.45L994.8 779.45L996.3 779.46L997.8 779.46L999.3 779.49L1000.8 779.53L1002.3 779.55L1003.8 779.58L1005.3 779.62L1006.8 779.63L1008.3 779.64L1009.8 779.68L1011.3 779.72L1012.8 779.78L1014.3 779.80L1015.8 779.82L1017.3 779.83L1018.8 779.84L1020.3 779.85L1021.8 779.87L1023.3 779.88L1024.8 779.90L1026.3 779.92L1027.8 779.92L1029.3 779.94L1030.8 779.94L1032.3 779.93L1033.8 779.92L1035.3 779.88L1036.8 779.89L1038.3 779.88L1039.8 779.87L1041.3 779.86L1042.8 779.84L1044.3 779.82L1045.8 779.84L1047.3 779.85L1048.8 779.87L1050.3 779.87L1051.8 779.89L1053.3 779.91L1054.8 779.90L1056.3 779.89L1057.8 779.89L1059.3 779.84L1060.8 779.84L1062.3 779.83L1063.8 779.82L1065.3 779.81L1066.8 779.79L1068.3 779.79L1069.8 779.78L1071.3 779.77L1072.8 779.75L1074.3 779.71L1075.8 779.70L1077.3 779.68L1078.8 779.66L1080.3 779.69L1081.8 779.72L1083.3 779.78L1084.8 779.82L1086.3 779.85L1087.8 779.86L1089.3 779.83L1090.8 779.81L1092.3 779.80L1093.8 779.80L1095.3 779.78L1096.8 779.77L1098.3 779.79L1099.8 779.81L1101.3 779.81L1102.8 779.82L1104.3 779.83L1105.8 779.84L1107.3 779.86L1108.8 779.87L1110.3 779.88L1111.8 779.91L1113.3 779.91L1114.8 779.93L1116.3 779.94L1117.8 779.95L1119.3 779.96L1120.8 779.96L1122.3 779.96L1123.8 779.99L1125.3 780.04L1126.8 780.09L1128.3 780.16L1129.8 780.21L1131.3 780.24L1132.8 780.25L1134.3 780.27L1135.8 780.27L1137.3 780.27L1138.8 780.27L1140.3 780.29L1141.8 780.30L1143.3 780.30L1144.8 780.30L1146.3 780.35L1147.8 780.39L1149.3 780.34L1150.8 780.36L1152.3 780.39L1153.8 780.41L1155.3 780.45L1156.8 780.46L1158.3 780.47L1159.8 780.48L1161.3 780.50L1162.8 780.50L1164.3 780.51L1165.8 780.50L1167.3 780.49L1168.8 780.46L1170.3 780.44L1171.8 780.42L1173.3 780.40L1174.8 780.37L1176.3 780.36L1177.8 780.33L1179.3 780.33L1180.8 780.31L1182.3 780.31L1183.8 780.30L1185.3 780.26L1186.8 780.26L1188.3 780.26L1189.8 780.24L1191.3 780.22L1192.8 780.23L1194.3 780.21L1195.8 780.20L1197.3 780.19L1198.8 780.20L1200.3 780.19L1201.8 780.20L1203.3 780.19L1204.8 780.20L1206.3 780.22L1207.8 780.23L1209.3 780.25L1210.8 780.26L1212.3 780.27L1213.8 780.29L1215.3 780.29L1216.8 780.30L1218.3 780.28L1219.8 780.28L1221.3 780.28L1222.8 780.30L1224.3 780.31L1225.8 780.31L1227.3 780.33L1228.8 780.35L1230.3 780.35L1231.8 780.36L1233.3 780.38L1234.8 780.39L1236.3 780.38L1237.8 780.37L1239.3 780.36L1240.8 780.37L1242.3 780.36L1243.8 780.38L1245.3 780.39L1246.8 780.41L1248.3 780.41L1249.8 780.43L1251.3 780.43L1252.8 780.44L1254.3 780.45L1255.8 780.46L1257.3 780.45L1258.8 780.44L1260.3 780.43L1261.8 780.43L1263.3 780.45L1264.8 780.44L1266.3 780.46L1267.8 780.47L1269.3 780.50L1270.8 780.50L1272.3 780.51L1273.8 780.53L1275.3 780.54L1276.8 780.52L1278.3 780.51L1279.8 780.51L1281.3 780.50L1282.8 780.51L1284.3 780.51L1285.8 780.54L1287.3 780.55L1288.8 780.55L1290.3 780.57L1291.8 780.56L1293.3 780.59L1294.8 780.59L1296.3 780.59L1297.8 780.58L1299.3 780.57L1300.8 780.56L1302.3 780.57L1303.8 780.57L1305.3 780.59L1306.8 780.60L1308.3 780.61L1309.8 780.61L1311.3 780.64L1312.8 780.65L1314.3 780.67L1315.8 780.67L1317.3 780.65L1318.8 780.63L1320.3 780.63L1321.8 780.62L1323.3 780.64L1324.8 780.66L1326.3 780.65L1327.8 780.68L1329.3 780.68L1330.8 780.70L1332.3 780.71L1333.8 780.72L1335.3 780.72L1336.8 780.71L1338.3 780.71L1339.8 780.69L1341.3 780.70L1342.8 780.72L1344.3 780.73L1345.8 780.74L1347.3 780.75L1348.8 780.75L1350.3 780.77L1351.8 780.77L1353.3 780.79L1354.8 780.79L1356.3 780.79L1357.8 780.78L1359.3 780.77L1360.8 780.76L1362.3 780.77L1363.8 780.80L1365.3 780.79L1366.8 780.80L1368.3 780.82L1369.8 780.83L1371.3 780.83L1372.8 780.85L1374.3 780.87L1375.8 780.86L1377.3 780.85L1378.8 780.85L1380.3 780.83L1381.8 780.83L1383.3 780.84L1384.8 780.87L1386.3 780.85L1387.8 780.87L1389.3 780.89L1390.8 780.91L1392.3 780.92L1393.8 780.93L1395.3 780.92L1396.8 780.93L1398.3 780.91L1399.8 780.90L1401.3 780.90L1402.8 780.90L1404.3 780.91L1405.8 780.93L1407.3 780.93L1408.8 780.95L1410.3 780.97L1411.8 780.98L1413.3 781.00L1414.8 780.99L1416.3 780.98L1417.8 780.98L1419.3 780.97L1420.8 780.96L1422.3 780.97L1423.6 780.98"/>
<path stroke="#ff9896" d="M226.8 736.70L228.3 736.71L229.8 736.70L231.3 736.70L232.8 736.71L234.3 736.70L235.8 736.73L237.3 736.76L238.8 736.73L240.3 736.73L241.8 736.76L243.3 736.76L244.8 736.76L246.3 736.74L247.8 736.77L249.3 736.79L250.8 736.75L252.3 736.77L253.8 736.75L255.3 736.77L256.8 736.76L258.3 736.80L259.8 736.78L261.3 736.82L262.8 736.82L264.3 736.82L265.8 736.77L267.3 736.82L268.8 736.84L270.3 736.84L271.8 736.81L273.3 736.84L274.8 736.84L276.3 736.84L277.8 736.89L279.3 736.85L280.8 736.87L282.3 736.90L283.8 736.88L285.3 736.93L286.8 736.95L288.3 736.96L289.8 736.94L291.3 736.97L292.8 737.00L294.3 736.95L295.8 737.01L297.3 737.00L298.8 736.98L300.3 737.04L301.8 737.02L303.3 736.98L304.8 737.01L306.3 737.02L307.8 737.01L309.3 737.03L310.8 737.02L312.3 737.04L313.8 737.06L315.3 737.01L316.8 737.04L318.3 737.02L319.8 737.04L321.3 737.02L322.8 737.03L324.3 737.05L325.8 737.07L327.3 737.08L328.8 737.04L330.3 737.05L331.8 737.09L333.3 737.04L334.8 737.08L336.3 737.09L337.8 737.12L339.3 737.11L340.8 737.10L342.3 737.10L343.8 737.11L345.3 737.15L346.8 737.12L348.3 737.12L349.8 737.14L351.3 737.14L352.8 737.14L354.3 737.13L355.8 737.15L357.3 737.15L358.8 737.19L360.3 737.18L361.8 737.17L363.3 737.19L364.8 737.18L366.3 737.21L367.8 737.19L369.3 737.21L370.8 737.18L372.3 737.21L373.8 737.18L375.3 737.17L376.8 737.22L378.3 737.21L379.8 737.24L381.3 737.28L382.8 737.22L384.3 737.23L385.8 737.26L387.3 737.27L388.8 737.26L390.3 737.26L391.8 737.29L393.3 737.29L394.8 737.26L396.3 737.28L397.8 737.29L399.3 737.27L400.8 737.31L402.3 737.29L403.8 737.33L405.3 737.32L406.8 737.32L408.3 737.31L409.8 737.33L411.3 737.29L412.8 737.32L414.3 737.35L415.8 737.30L417.3 737.37L418.8 737.32L420.3 737.38L421.8 737.35L423.3 737.39L424.8 737.38L426.3 737.35L427.8 737.42L429.3 737.42L430.8 737.40L432.3 737.40L433.8 737.41L435.3 737.39L436.8 737.44L438.3 737.41L439.8 737.43L441.3 737.42L442.8 737.42L444.3 737.42L445.8 737.47L447.3 737.45L448.8 737.48L450.3 737.46L451.8 737.45L453.3 737.47L454.8 737.47L456.3 737.48L457.8 737.48L459.3 737.49L460.8 737.47L462.3 737.48L463.8 737.54L465.3 737.50L466.8 737.49L468.3 737.53L469.8 737.56L471.3 737.50L472.8 737.53L474.3 737.53L475.8 737.51L477.3 737.57L478.8 737.55L480.3 737.56L481.8 737.55L483.3 737.58L484.8 737.56L486.3 737.58L487.8 737.56L489.3 737.56L490.8 737.62L492.3 737.59L493.8 737.61L495.3 737.61L496.8 737.60L498.3 737.61L499.8 737.64L501.3 737.62L502.8 737.63L504.3 737.64L505.8 737.67L507.3 737.66L508.8 737.66L510.3 737.65L511.8 737.63L513.3 737.69L514.8 737.69L516.3 737.67L517.8 737.69L519.3 737.70L520.8 737.71L522.3 737.72L523.8 737.69L525.3 737.74L526.8 737.69L528.3 737.74L529.8 737.74L531.3 737.75L532.8 737.78L534.3 737.77L535.8 737.72L537.3 737.72L538.8 737.77L540.3 737.74L541.8 737.77L543.3 737.79L544.8 737.74L546.3 737.74L547.8 737.80L549.3 737.80L550.8 737.80L552.3 737.81L553.8 737.79L555.3 737.78L556.8 737.82L558.3 737.81L559.8 737.80L561.3 737.85L562.8 737.84L564.3 737.86L565.8 737.83L567.3 737.85L568.8 737.84L570.3 737.85L571.8 737.88L573.3 737.86L574.8 737.89L576.3 737.90L577.8 737.94L579.3 737.87L580.8 737.93L582.3 737.91L583.8 737.92L585.3 737.89L586.8 737.92L588.3 737.95L589.8 737.94L591.3 737.95L592.8 737.95L594.3 737.98L595.8 737.96L597.3 737.92L598.8 737.96L600.3 737.94L601.8 737.92L603.3 737.98L604.8 738.02L606.3 738.00L607.8 737.98L609.3 737.99L610.8 738.04L612.3 738.02L613.8 738.03L615.3 738.03L616.8 738.04L618.3 738.06L619.8 738.06L621.3 738.06L622.8 738.04L624.3 738.08L625.8 738.06L627.3 738.10L628.8 738.05L630.3 738.08L631.8 738.09L633.3 738.07L634.8 738.14L636.3 738.14L637.8 738.10L639.3 738.13L640.8 738.13L642.3 738.07L643.8 738.14L645.3 738.14L646.8 738.15L648.3 738.13L649.8 738.15L651.3 738.15L652.8 738.19L654.3 738.18L655.8 738.17L657.3 738.21L658.8 738.17L660.3 738.18L661.8 738.15L663.3 738.23L664.8 738.22L666.3 738.23L667.8 738.23L669.3 738.22L670.8 738.23L672.3 738.22L673.8 738.23L675.3 738.24L676.8 738.27L678.3 738.26L679.8 738.25L681.3 738.24L682.8 738.25L684.3 738.30L685.8 738.28L687.3 738.28L688.8 738.27L690.3 738.26L691.8 738.29L693.3 738.31L694.8 738.29L696.3 738.30L697.8 738.31L699.3 738.32L700.8 738.29L702.3 738.32L703.8 738.31L705.3 738.35L706.8 738.32L708.3 738.36L709.8 738.38L711.3 738.35L712.8 738.35L714.3 738.37L715.8 738.37L717.3 738.35L718.8 738.39L720.3 738.43L721.8 738.39L723.3 738.39L724.8 738.38L726.3 738.41L727.8 738.38L729.3 738.39L730.8 738.45L732.3 738.41L733.8 738.45L735.3 738.47L736.8 738.45L738.3 738.46L739.8 738.49L741.3 738.45L742.8 738.45L744.3 738.44L745.8 738.47L747.3 738.51L748.8 738.50L750.3 738.46L751.8 738.47L753.3 738.48L754.8 738.51L756.3 738.50L757.8 738.51L759.3 738.52L760.8 738.51L762.3 738.52L763.8 738.53L765.3 738.53L766.8 738.54L768.3 738.57L769.8 738.55L771.3 738.54L772.8 738.51L774.3 738.55L775.8 738.51L777.3 738.52L778.8 738.57L780.3 738.57L781.8 738.56L783.3 738.53L784.8 738.56L786.3 738.56L787.8 738.59L789.3 738.63L790.8 738.59L792.3 738.57L793.8 738.56L795.3 738.59L796.8 738.59L798.3 738.57L799.8 738.60L801.3 738.59L802.8 738.66L804.3 738.68L805.8 738.70L807.3 738.69L808.8 738.73L810.3 738.74L811.8 738.75L813.3 738.77L814.8 738.77L816.3 738.79L817.8 738.86L819.3 738.86L820.8 738.89L822.3 738.92L823.8 738.89L825.3 738.93L826.8 738.97L828.3 738.99L829.8 738.98L831.3 738.98L832.8 738.97L834.3 738.97L835.8 738.96L837.3 738.96L838.8 738.95L840.3 738.95L841.8 738.94L843.3 738.93L844.8 738.93L846.3 738.92L847.8 738.92L849.3 738.95L850.8 739.03L852.3 738.99L853.8 739.00L855.3 738.97L856.8 738.99L858.3 738.98L859.8 739.01L861.3 739.05L862.8 739.03L864.3 739.06L865.8 739.06L867.3 739.05L868.8 739.08L870.3 739.10L871.8 739.12L873.3 739.14L874.8 739.16L876.3 739.18L877.8 739.18L879.3 739.19L880.8 739.22L882.3 739.25L883.8 739.23L885.3 739.26L886.8 739.27L888.3 739.28L889.8 739.32L891.3 739.31L892.8 739.35L894.3 739.34L895.8 739.37L897.3 739.37L898.8 739.38L900.3 739.41L901.8 739.42L903.3 739.44L904.8 739.45L906.3 739.46L907.8 739.48L909.3 739.50L910.8 739.53L912.3 739.52L913.8 739.54L915.3 739.52L916.8 739.55L918.3 739.53L919.8 739.52L921.3 739.54L922.8 739.55L924.3 739.52L925.8 739.52L927.3 739.52L928.8 739.52L930.3 739.53L931.8 739.52L933.3 739.51L934.8 739.53L936.3 739.51L937.8 739.52L939.3 739.51L940.8 739.50L942.3 739.50L943.8 739.54L945.3 739.52L946.8 739.53L948.3 739.52L949.8 739.53L951.3 739.53L952.8 739.56L954.3 739.54L955.8 739.55L957.3 739.57L958.8 739.58L960.3 739.62L961.8 739.64L963.3 739.64L964.8 739.65L966.3 739.68L967.8 739.72L969.3 739.68L970.8 739.73L972.3 739.73L973.8 739.77L975.3 739.76L976.8 739.78L978.3 739.78L979.8 739.80L981.3 739.85L982.8 739.86L984.3 739.86L985.8 739.87L987.3 739.87L988.8 739.91L990.3 739.93L991.8 739.94L993.3 739.94L994.8 739.93L996.3 739.95L997.8 739.95L999.3 740.00L1000.8 740.04L1002.3 740.05L1003.8 740.08L1005.3 740.12L1006.8 740.13L1008.3 740.14L1009.8 740.18L1011.3 740.21L1012.8 740.28L1014.3 740.29L1015.8 740.31L1017.3 740.32L1018.8 740.33L1020.3 740.34L1021.8 740.36L1023.3 740.37L1024.8 740.39L1026.3 740.40L1027.8 740.40L1029.3 740.43L1030.8 740.42L1032.3 740.41L1033.8 740.40L1035.3 740.36L1036.8 740.37L1038.3 740.37L1039.8 740.35L1041.3 740.34L1042.8 740.31L1044.3 740.29L1045.8 740.31L1047.3 740.32L1048.8 740.35L1050.3 740.34L1051.8 740.37L1053.3 740.38L1054.8 740.37L1056.3 740.36L1057.8 740.36L1059.3 740.30L1060.8 740.31L1062.3 740.30L1063.8 740.29L1065.3 740.28L1066.8 740.26L1068.3 740.25L1069.8 740.25L1071.3 740.24L1072.8 740.21L1074.3 740.17L1075.8 740.17L1077.3 740.15L1078.8 740.12L1080.3 740.15L1081.8 740.17L1083.3 740.25L1084.8 740.28L1086.3 740.29L1087.8 740.32L1089.3 740.28L1090.8 740.26L1092.3 740.25L1093.8 740.26L1095.3 740.23L1096.8 740.23L1098.3 740.25L1099.8 740.27L1101.3 740.26L1102.8 740.27L1104.3 740.27L1105.8 740.29L1107.3 740.31L1108.8 740.32L1110.3 740.33L1111.8 740.36L1113.3 740.35L1114.8 740.37L1116.3 740.39L1117.8 740.39L1119.3 740.40L1120.8 740.40L1122.3 740.39L1123.8 740.43L1125.3 740.47L1126.8 740.52L1128.3 740.60L1129.8 740.64L1131.3 740.67L1132.8 740.67L1134.3 740.70L1135.8 740.70L1137.3 740.70L1138.8 740.69L1140.3 740.72L1141.8 740.73L1143.3 740.73L1144.8 740.73L1146.3 740.78L1147.8 740.82L1149.3 740.76L1150.8 740.78L1152.3 740.82L1153.8 740.84L1155.3 740.88L1156.8 740.89L1158.3 740.89L1159.8 740.90L1161.3 740.92L1162.8 740.92L1164.3 740.92L1165.8 740.92L1167.3 740.92L1168.8 740.87L1170.3 740.85L1171.8 740.83L1173.3 740.82L1174.8 740.78L1176.3 740.78L1177.8 740.74L1179.3 740.73L1180.8 740.72L1182.3 740.72L1183.8 740.71L1185.3 740.66L1186.8 740.66L1188.3 740.66L1189.8 740.64L1191.3 740.62L1192.8 740.64L1194.3 740.62L1195.8 740.61L1197.3 740.59L1198.8 740.60L1200.3 740.58L1201.8 740.60L1203.3 740.59L1204.8 740.60L1206.3 740.64L1207.8 740.65L1209.3 740.68L1210.8 740.70L1212.3 740.71L1213.8 740.74L1215.3 740.75L1216.8 740.75L1218.3 740.73L1219.8 740.72L1221.3 740.73L1222.8 740.76L1224.3 740.78L1225.8 740.78L1227.3 740.80L1228.8 740.84L1230.3 740.84L1231.8 740.85L1233.3 740.88L1234.8 740.91L1236.3 740.88L1237.8 740.86L1239.3 740.85L1240.8 740.87L1242.3 740.86L1243.8 740.88L1245.3 740.91L1246.8 740.93L1248.3 740.94L1249.8 740.97L1251.3 740.97L1252.8 741.00L1254.3 741.01L1255.8 741.03L1257.3 741.01L1258.8 740.99L1260.3 740.98L1261.8 740.98L1263.3 741.01L1264.8 741.00L1266.3 741.03L1267.8 741.05L1269.3 741.11L1270.8 741.11L1272.3 741.11L1273.8 741.14L1275.3 741.16L1276.8 741.13L1278.3 741.12L1279.8 741.12L1281.3 741.11L1282.8 741.12L1284.3 741.13L1285.8 741.17L1287.3 741.19L1288.8 741.20L1290.3 741.22L1291.8 741.21L1293.3 741.26L1294.8 741.26L1296.3 741.26L1297.8 741.25L1299.3 741.23L1300.8 741.20L1302.3 741.23L1303.8 741.24L1305.3 741.26L1306.8 741.28L1308.3 741.30L1309.8 741.30L1311.3 741.36L1312.8 741.37L1314.3 741.40L1315.8 741.40L1317.3 741.37L1318.8 741.34L1320.3 741.34L1321.8 741.33L1323.3 741.36L1324.8 741.38L1326.3 741.38L1327.8 741.42L1329.3 741.42L1330.8 741.46L1332.3 741.48L1333.8 741.49L1335.3 741.50L1336.8 741.49L1338.3 741.48L1339.8 741.45L1341.3 741.46L1342.8 741.50L1344.3 741.52L1345.8 741.53L1347.3 741.54L1348.8 741.55L1350.3 741.59L1351.8 741.59L1353.3 741.61L1354.8 741.62L1356.3 741.62L1357.8 741.60L1359.3 741.60L1360.8 741.57L1362.3 741.59L1363.8 741.64L1365.3 741.63L1366.8 741.65L1368.3 741.67L1369.8 741.69L1371.3 741.69L1372.8 741.72L1374.3 741.76L1375.8 741.74L1377.3 741.73L1378.8 741.74L1380.3 741.70L1381.8 741.70L1383.3 741.72L1384.8 741.76L1386.3 741.74L1387.8 741.77L1389.3 741.80L1390.8 741.83L1392.3 741.85L1393.8 741.88L1395.3 741.85L1396.8 741.86L1398.3 741.84L1399.8 741.83L1401.3 741.83L1402.8 741.83L1404.3 741.83L1405.8 741.87L1407.3 741.88L1408.8 741.91L1410.3 741.94L1411.8 741.96L1413.3 741.99L1414.8 741.99L1416.3 741.96L1417.8 741.96L1419.3 741.95L1420.8 741.93L1422.3 741.96L1423.6 741.96"/>
<path stroke="#9467bd" d="M226.8 595.80L228.3 595.89L229.8 595.73L231.3 595.55L232.8 595.68L234.3 595.53L235.8 595.84L237.3 596.22L238.8 595.69L240.3 595.65L241.8 595.98L243.3 595.95L244.8 595.88L246.3 595.58L247.8 595.85L249.3 596.06L250.8 595.47L252.3 595.73L253.8 595.31L255.3 595.50L256.8 595.34L258.3 595.81L259.8 595.51L261.3 595.97L262.8 595.94L264.3 595.84L265.8 595.16L267.3 595.75L268.8 595.90L270.3 595.95L271.8 595.47L273.3 595.78L274.8 595.64L276.3 595.69L277.8 596.25L279.3 595.70L280.8 595.93L282.3 596.21L283.8 595.96L285.3 597.00L286.8 597.23L288.3 597.27L289.8 596.95L291.3 597.39L292.8 597.82L294.3 597.02L295.8 597.78L297.3 597.54L298.8 597.27L300.3 598.01L301.8 597.60L303.3 596.98L304.8 597.31L306.3 597.42L307.8 597.15L309.3 597.36L310.8 597.10L312.3 597.28L313.8 597.46L315.3 596.80L316.8 597.01L318.3 596.77L319.8 596.91L321.3 596.52L322.8 596.70L324.3 596.82L325.8 597.15L327.3 597.22L328.8 596.50L330.3 596.66L331.8 597.09L333.3 596.32L334.8 596.77L336.3 596.89L337.8 597.29L339.3 597.13L340.8 596.83L342.3 596.83L343.8 596.86L345.3 597.39L346.8 596.82L348.3 596.86L349.8 597.06L351.3 596.93L352.8 596.91L354.3 596.64L355.8 596.97L357.3 596.85L358.8 597.33L360.3 597.18L361.8 596.99L363.3 597.20L364.8 596.91L366.3 597.32L367.8 597.01L369.3 597.19L370.8 596.64L372.3 597.13L373.8 596.54L375.3 596.44L376.8 596.95L378.3 596.78L379.8 597.10L381.3 597.72L382.8 596.82L384.3 596.88L385.8 597.13L387.3 597.22L388.8 597.03L390.3 597.03L391.8 597.30L393.3 597.25L394.8 596.80L396.3 597.08L397.8 597.12L399.3 596.81L400.8 597.20L402.3 596.87L403.8 597.42L405.3 597.19L406.8 597.17L408.3 596.97L409.8 597.11L411.3 596.57L412.8 596.83L414.3 597.27L415.8 596.54L417.3 597.42L418.8 596.66L420.3 597.40L421.8 596.94L423.3 597.42L424.8 597.23L426.3 596.75L427.8 597.57L429.3 597.63L430.8 597.20L432.3 597.14L433.8 597.18L435.3 596.94L436.8 597.56L438.3 597.08L439.8 597.23L441.3 597.02L442.8 597.07L444.3 596.88L445.8 597.63L447.3 597.22L448.8 597.56L450.3 597.28L451.8 597.08L453.3 597.19L454.8 597.13L456.3 597.30L457.8 597.19L459.3 597.22L460.8 596.91L462.3 597.08L463.8 597.81L465.3 597.13L466.8 597.02L468.3 597.43L469.8 597.75L471.3 596.92L472.8 597.29L474.3 597.17L475.8 596.84L477.3 597.58L478.8 597.36L480.3 597.39L481.8 597.16L483.3 597.52L484.8 597.23L486.3 597.35L487.8 597.07L489.3 597.04L490.8 597.80L492.3 597.26L493.8 597.50L495.3 597.41L496.8 597.30L498.3 597.28L499.8 597.62L501.3 597.35L502.8 597.40L504.3 597.46L505.8 597.80L507.3 597.66L508.8 597.58L510.3 597.30L511.8 597.07L513.3 597.76L514.8 597.77L516.3 597.45L517.8 597.65L519.3 597.73L520.8 597.75L522.3 597.80L523.8 597.41L525.3 598.01L526.8 597.22L528.3 597.86L529.8 597.77L531.3 597.90L532.8 598.21L534.3 598.12L535.8 597.36L537.3 597.22L538.8 597.98L540.3 597.46L541.8 597.77L543.3 598.04L544.8 597.33L546.3 597.21L547.8 597.93L549.3 597.88L550.8 597.82L552.3 597.92L553.8 597.67L555.3 597.50L556.8 597.92L558.3 597.70L559.8 597.52L561.3 598.17L562.8 598.02L564.3 598.18L565.8 597.79L567.3 597.90L568.8 597.82L570.3 597.88L571.8 598.21L573.3 597.94L574.8 598.30L576.3 598.31L577.8 598.83L579.3 597.84L580.8 598.53L582.3 598.26L583.8 598.30L585.3 597.90L586.8 598.21L588.3 598.58L589.8 598.36L591.3 598.43L592.8 598.33L594.3 598.78L595.8 598.45L597.3 597.83L598.8 598.29L600.3 597.94L601.8 597.58L603.3 598.40L604.8 598.96L606.3 598.60L607.8 598.27L609.3 598.35L610.8 598.98L612.3 598.71L613.8 598.70L615.3 598.69L616.8 598.74L618.3 598.98L619.8 598.92L621.3 598.84L622.8 598.49L624.3 598.97L625.8 598.64L627.3 599.18L628.8 598.50L630.3 598.85L631.8 598.91L633.3 598.54L634.8 599.46L636.3 599.40L637.8 598.85L639.3 599.24L640.8 599.13L642.3 598.26L643.8 599.11L645.3 599.03L646.8 599.08L648.3 598.75L649.8 598.99L651.3 599.03L652.8 599.44L654.3 599.20L655.8 599.10L657.3 599.56L658.8 598.96L660.3 599.02L661.8 598.61L663.3 599.61L664.8 599.44L666.3 599.44L667.8 599.37L669.3 599.21L670.8 599.25L672.3 599.13L673.8 599.15L675.3 599.23L676.8 599.67L678.3 599.40L679.8 599.22L681.3 599.08L682.8 599.07L684.3 599.74L685.8 599.42L687.3 599.30L688.8 599.19L690.3 598.97L691.8 599.29L693.3 599.57L694.8 599.21L696.3 599.27L697.8 599.28L699.3 599.38L700.8 598.89L702.3 599.30L703.8 599.13L705.3 599.65L706.8 599.17L708.3 599.57L709.8 599.86L711.3 599.33L712.8 599.25L714.3 599.49L715.8 599.44L717.3 599.16L718.8 599.60L720.3 600.06L721.8 599.40L723.3 599.43L724.8 599.19L726.3 599.60L727.8 599.15L729.3 599.20L730.8 599.91L732.3 599.27L733.8 599.86L735.3 600.00L736.8 599.64L738.3 599.73L739.8 600.15L741.3 599.53L742.8 599.42L744.3 599.21L745.8 599.63L747.3 600.06L748.8 599.91L750.3 599.36L751.8 599.40L753.3 599.51L754.8 599.75L756.3 599.61L757.8 599.74L759.3 599.78L760.8 599.59L762.3 599.63L763.8 599.67L765.3 599.55L766.8 599.69L768.3 600.06L769.8 599.65L771.3 599.46L772.8 598.91L774.3 599.49L775.8 598.77L777.3 598.89L778.8 599.53L780.3 599.45L781.8 599.16L783.3 598.67L784.8 599.03L786.3 598.91L787.8 599.26L789.3 599.70L790.8 599.07L792.3 598.74L793.8 598.59L795.3 598.89L796.8 598.82L798.3 598.50L799.8 598.84L801.3 598.44L802.8 599.08L804.3 599.05L805.8 599.03L807.3 598.55L808.8 598.82L810.3 598.60L811.8 598.51L813.3 598.50L814.8 598.19L816.3 598.13L817.8 598.76L819.3 598.45L820.8 598.55L822.3 598.77L823.8 597.97L825.3 598.26L826.8 598.55L828.3 598.52L829.8 597.97L831.3 597.43L832.8 596.88L834.3 596.34L835.8 595.79L837.3 595.25L838.8 594.70L840.3 594.15L841.8 593.61L843.3 593.06L844.8 592.52L846.3 591.97L847.8 591.43L849.3 591.63L850.8 592.63L852.3 591.36L853.8 590.80L855.3 589.79L856.8 589.71L858.3 589.21L859.8 589.56L861.3 589.93L862.8 589.47L864.3 589.76L865.8 589.51L867.3 589.24L868.8 589.56L870.3 589.80L871.8 590.11L873.3 590.25L874.8 590.43L876.3 590.61L877.8 590.58L879.3 590.65L880.8 590.98L882.3 591.26L883.8 590.95L885.3 591.33L886.8 591.33L888.3 591.39L889.8 591.82L891.3 591.69L892.8 592.16L894.3 591.88L895.8 592.20L897.3 592.20L898.8 592.22L900.3 592.59L901.8 592.63L903.3 592.95L904.8 593.01L906.3 593.01L907.8 593.36L909.3 593.57L910.8 593.91L912.3 593.76L913.8 593.95L915.3 593.51L916.8 593.79L918.3 593.35L919.8 593.09L921.3 593.26L922.8 593.33L924.3 592.72L925.8 592.66L927.3 592.57L928.8 592.35L930.3 592.46L931.8 592.10L933.3 591.97L934.8 592.04L936.3 591.65L937.8 591.71L939.3 591.34L940.8 591.22L942.3 591.03L943.8 591.61L945.3 591.14L946.8 591.16L948.3 591.04L949.8 590.99L951.3 590.89L952.8 591.30L954.3 590.87L955.8 590.86L957.3 591.10L958.8 591.23L960.3 591.79L961.8 592.00L963.3 591.88L964.8 592.00L966.3 592.38L967.8 592.86L969.3 592.25L970.8 592.98L972.3 592.84L973.8 593.35L975.3 593.11L976.8 593.39L978.3 593.31L979.8 593.54L981.3 594.11L982.8 594.19L984.3 594.15L985.8 594.24L987.3 594.24L988.8 594.67L990.3 594.91L991.8 594.97L993.3 594.90L994.8 594.65L996.3 594.77L997.8 594.71L999.3 595.43L1000.8 596.30L1002.3 596.71L1003.8 597.37L1005.3 598.22L1006.8 598.38L1008.3 598.61L1009.8 599.44L1011.3 600.27L1012.8 601.57L1014.3 602.00L1015.8 602.23L1017.3 602.33L1018.8 602.40L1020.3 602.54L1021.8 602.85L1023.3 602.98L1024.8 603.30L1026.3 603.44L1027.8 603.38L1029.3 603.81L1030.8 603.66L1032.3 603.36L1033.8 602.99L1035.3 602.25L1036.8 602.39L1038.3 602.18L1039.8 601.91L1041.3 601.61L1042.8 600.99L1044.3 600.56L1045.8 600.89L1047.3 601.06L1048.8 601.38L1050.3 601.30L1051.8 601.69L1053.3 601.82L1054.8 601.69L1056.3 601.51L1057.8 601.37L1059.3 600.31L1060.8 600.29L1062.3 600.05L1063.8 599.85L1065.3 599.66L1066.8 599.28L1068.3 599.14L1069.8 599.09L1071.3 598.85L1072.8 598.33L1074.3 597.40L1075.8 597.14L1077.3 596.63L1078.8 595.98L1080.3 596.72L1081.8 597.40L1083.3 598.82L1084.8 599.62L1086.3 600.19L1087.8 600.41L1089.3 599.60L1090.8 599.16L1092.3 598.80L1093.8 598.72L1095.3 598.06L1096.8 597.80L1098.3 598.21L1099.8 598.46L1101.3 598.43L1102.8 598.65L1104.3 598.63L1105.8 598.89L1107.3 599.25L1108.8 599.41L1110.3 599.52L1111.8 600.08L1113.3 600.09L1114.8 600.34L1116.3 600.61L1117.8 600.69L1119.3 600.81L1120.8 600.74L1122.3 600.65L1123.8 601.33L1125.3 602.34L1126.8 603.48L1128.3 605.13L1129.8 606.13L1131.3 606.80L1132.8 607.05L1134.3 607.56L1135.8 607.63L1137.3 607.69L1138.8 607.56L1140.3 608.00L1141.8 608.33L1143.3 608.35L1144.8 608.39L1146.3 609.27L1147.8 610.08L1149.3 608.86L1150.8 609.06L1152.3 609.58L1153.8 610.00L1155.3 610.58L1156.8 610.75L1158.3 610.77L1159.8 610.92L1161.3 611.17L1162.8 611.09L1164.3 611.06L1165.8 610.82L1167.3 610.60L1168.8 609.83L1170.3 609.31L1171.8 608.76L1173.3 608.36L1174.8 607.52L1176.3 607.42L1177.8 606.64L1179.3 606.43L1180.8 606.06L1182.3 605.84L1183.8 605.50L1185.3 604.69L1186.8 604.46L1188.3 604.34L1189.8 603.83L1191.3 603.41L1192.8 603.61L1194.3 603.26L1195.8 603.03L1197.3 602.67L1198.8 602.92L1200.3 602.57L1201.8 602.60L1203.3 602.31L1204.8 602.41L1206.3 602.73L1207.8 602.75L1209.3 603.13L1210.8 603.22L1212.3 603.19L1213.8 603.51L1215.3 603.41L1216.8 603.36L1218.3 602.85L1219.8 602.67L1221.3 602.83L1222.8 603.23L1224.3 603.51L1225.8 603.51L1227.3 603.85L1228.8 604.37L1230.3 604.42L1231.8 604.59L1233.3 605.09L1234.8 605.40L1236.3 605.09L1237.8 604.69L1239.3 604.45L1240.8 604.52L1242.3 604.22L1243.8 604.46L1245.3 604.66L1246.8 604.87L1248.3 604.87L1249.8 605.15L1251.3 605.07L1252.8 605.30L1254.3 605.34L1255.8 605.50L1257.3 605.04L1258.8 604.65L1260.3 604.45L1261.8 604.25L1263.3 604.55L1264.8 604.32L1266.3 604.56L1267.8 604.81L1269.3 605.43L1270.8 605.32L1272.3 605.29L1273.8 605.57L1275.3 605.74L1276.8 605.10L1278.3 604.80L1279.8 604.79L1281.3 604.40L1282.8 604.49L1284.3 604.45L1285.8 604.99L1287.3 605.10L1288.8 605.06L1290.3 605.22L1291.8 604.93L1293.3 605.51L1294.8 605.46L1296.3 605.29L1297.8 605.06L1299.3 604.63L1300.8 604.14L1302.3 604.40L1303.8 604.36L1305.3 604.58L1306.8 604.68L1308.3 604.86L1309.8 604.69L1311.3 605.41L1312.8 605.40L1314.3 605.68L1315.8 605.63L1317.3 605.05L1318.8 604.48L1320.3 604.36L1321.8 604.09L1323.3 604.35L1324.8 604.59L1326.3 604.40L1327.8 604.93L1329.3 604.77L1330.8 605.21L1332.3 605.29L1333.8 605.40L1335.3 605.39L1336.8 605.05L1338.3 604.76L1339.8 604.32L1341.3 604.32L1342.8 604.68L1344.3 604.85L1345.8 604.89L1347.3 604.94L1348.8 604.86L1350.3 605.35L1351.8 605.25L1353.3 605.39L1354.8 605.45L1356.3 605.24L1357.8 604.88L1359.3 604.67L1360.8 604.24L1362.3 604.28L1363.8 604.85L1365.3 604.62L1366.8 604.74L1368.3 605.01L1369.8 605.18L1371.3 605.03L1372.8 605.32L1374.3 605.65L1375.8 605.36L1377.3 605.06L1378.8 605.03L1380.3 604.39L1381.8 604.30L1383.3 604.35L1384.8 604.82L1386.3 604.41L1387.8 604.76L1389.3 604.93L1390.8 605.27L1392.3 605.41L1393.8 605.68L1395.3 605.15L1396.8 605.26L1398.3 604.82L1399.8 604.49L1401.3 604.41L1402.8 604.24L1404.3 604.20L1405.8 604.62L1407.3 604.58L1408.8 604.86L1410.3 605.17L1411.8 605.31L1413.3 605.66L1414.8 605.46L1416.3 604.98L1417.8 604.83L1419.3 604.54L1420.8 604.22L1422.3 604.41L1423.6 604.36"/>
<path stroke="#c5b0d5" d="M226.8 629.60L228.3 629.70L229.8 629.52L231.3 629.31L232.8 629.47L234.3 629.29L235.8 629.65L237.3 630.08L238.8 629.47L240.3 629.43L241.8 629.81L243.3 629.77L244.8 629.69L246.3 629.35L247.8 629.65L249.3 629.90L250.8 629.22L252.3 629.52L253.8 629.04L255.3 629.25L256.8 629.07L258.3 629.62L259.8 629.27L261.3 629.79L262.8 629.76L264.3 629.65L265.8 628.87L267.3 629.54L268.8 629.71L270.3 629.77L271.8 629.22L273.3 629.58L274.8 629.42L276.3 629.48L277.8 630.11L279.3 629.49L280.8 629.75L282.3 630.06L283.8 629.78L285.3 630.96L286.8 631.23L288.3 631.28L289.8 630.91L291.3 631.41L292.8 631.91L294.3 630.99L295.8 631.87L297.3 631.58L298.8 631.28L300.3 632.12L301.8 631.65L303.3 630.95L304.8 631.33L306.3 631.45L307.8 631.14L309.3 631.39L310.8 631.09L312.3 631.28L313.8 631.49L315.3 630.74L316.8 630.98L318.3 630.71L319.8 630.86L321.3 630.42L322.8 630.63L324.3 630.76L325.8 631.13L327.3 631.22L328.8 630.40L330.3 630.58L331.8 631.07L333.3 630.19L334.8 630.71L336.3 630.84L337.8 631.30L339.3 631.11L340.8 630.78L342.3 630.77L343.8 630.81L345.3 631.41L346.8 630.76L348.3 630.81L349.8 631.04L351.3 630.88L352.8 630.86L354.3 630.56L355.8 630.94L357.3 630.80L358.8 631.34L360.3 631.18L361.8 630.95L363.3 631.19L364.8 630.86L366.3 631.33L367.8 630.98L369.3 631.19L370.8 630.56L372.3 631.12L373.8 630.44L375.3 630.33L376.8 630.91L378.3 630.72L379.8 631.08L381.3 631.79L382.8 630.76L384.3 630.83L385.8 631.12L387.3 631.22L388.8 631.00L390.3 631.00L391.8 631.31L393.3 631.25L394.8 630.73L396.3 631.06L397.8 631.10L399.3 630.74L400.8 631.19L402.3 630.81L403.8 631.42L405.3 631.16L406.8 631.12L408.3 630.89L409.8 631.05L411.3 630.41L412.8 630.70L414.3 631.20L415.8 630.36L417.3 631.36L418.8 630.49L420.3 631.33L421.8 630.78L423.3 631.33L424.8 631.11L426.3 630.55L427.8 631.48L429.3 631.54L430.8 631.03L432.3 630.96L433.8 631.00L435.3 630.72L436.8 631.42L438.3 630.86L439.8 631.03L441.3 630.77L442.8 630.83L444.3 630.61L445.8 631.46L447.3 630.98L448.8 631.35L450.3 631.03L451.8 630.79L453.3 630.91L454.8 630.83L456.3 631.02L457.8 630.89L459.3 630.91L460.8 630.55L462.3 630.74L463.8 631.56L465.3 630.78L466.8 630.65L468.3 631.12L469.8 631.47L471.3 630.51L472.8 630.93L474.3 630.78L475.8 630.40L477.3 631.24L478.8 630.98L480.3 631.01L481.8 630.73L483.3 631.13L484.8 630.80L486.3 630.93L487.8 630.60L489.3 630.56L490.8 631.42L492.3 630.80L493.8 631.06L495.3 630.95L496.8 630.81L498.3 630.79L499.8 631.17L501.3 630.85L502.8 630.90L504.3 630.96L505.8 631.34L507.3 631.18L508.8 631.07L510.3 630.75L511.8 630.48L513.3 631.26L514.8 631.26L516.3 630.89L517.8 631.11L519.3 631.19L520.8 631.21L522.3 631.25L523.8 630.80L525.3 631.48L526.8 630.56L528.3 631.28L529.8 631.17L531.3 631.31L532.8 631.65L534.3 631.53L535.8 630.66L537.3 630.49L538.8 631.34L540.3 630.74L541.8 631.08L543.3 631.38L544.8 630.56L546.3 630.41L547.8 631.22L549.3 631.16L550.8 631.07L552.3 631.18L553.8 630.89L555.3 630.68L556.8 631.14L558.3 630.88L559.8 630.67L561.3 631.40L562.8 631.22L564.3 631.39L565.8 630.93L567.3 631.06L568.8 630.95L570.3 631.00L571.8 631.38L573.3 631.06L574.8 631.45L576.3 631.46L577.8 632.03L579.3 630.90L580.8 631.67L582.3 631.36L583.8 631.39L585.3 630.92L586.8 631.27L588.3 631.68L589.8 631.41L591.3 631.48L592.8 631.37L594.3 631.86L595.8 631.48L597.3 630.76L598.8 631.28L600.3 630.86L601.8 630.44L603.3 631.36L604.8 632.00L606.3 631.58L607.8 631.18L609.3 631.27L610.8 631.98L612.3 631.66L613.8 631.64L615.3 631.61L616.8 631.65L618.3 631.92L619.8 631.85L621.3 631.75L622.8 631.34L624.3 631.87L625.8 631.48L627.3 632.09L628.8 631.30L630.3 631.69L631.8 631.75L633.3 631.32L634.8 632.35L636.3 632.28L637.8 631.64L639.3 632.07L640.8 631.94L642.3 630.93L643.8 631.89L645.3 631.79L646.8 631.84L648.3 631.45L649.8 631.72L651.3 631.75L652.8 632.20L654.3 631.92L655.8 631.80L657.3 632.32L658.8 631.61L660.3 631.67L661.8 631.22L663.3 632.37L664.8 632.19L666.3 632.20L667.8 632.14L669.3 631.97L670.8 632.03L672.3 631.89L673.8 631.93L675.3 632.03L676.8 632.55L678.3 632.25L679.8 632.06L681.3 631.91L682.8 631.91L684.3 632.68L685.8 632.34L687.3 632.21L688.8 632.09L690.3 631.86L691.8 632.23L693.3 632.56L694.8 632.16L696.3 632.24L697.8 632.26L699.3 632.39L700.8 631.84L702.3 632.32L703.8 632.13L705.3 632.74L706.8 632.20L708.3 632.68L709.8 633.02L711.3 632.42L712.8 632.34L714.3 632.63L715.8 632.59L717.3 632.28L718.8 632.79L720.3 633.33L721.8 632.59L723.3 632.63L724.8 632.37L726.3 632.84L727.8 632.34L729.3 632.41L730.8 633.23L732.3 632.52L733.8 633.21L735.3 633.38L736.8 632.97L738.3 633.09L739.8 633.58L741.3 632.88L742.8 632.77L744.3 632.54L745.8 633.03L747.3 633.53L748.8 633.38L750.3 632.76L751.8 632.81L753.3 632.95L754.8 633.24L756.3 633.09L757.8 633.26L759.3 633.30L760.8 633.10L762.3 633.16L763.8 633.22L765.3 633.09L766.8 633.26L768.3 633.69L769.8 633.24L771.3 633.03L772.8 632.42L774.3 633.09L775.8 632.28L777.3 632.43L778.8 633.17L780.3 633.09L781.8 632.77L783.3 632.22L784.8 632.65L786.3 632.52L787.8 632.93L789.3 633.45L790.8 632.74L792.3 632.38L793.8 632.22L795.3 632.57L796.8 632.50L798.3 632.14L799.8 632.54L801.3 632.11L802.8 632.87L804.3 632.86L805.8 632.86L807.3 632.34L808.8 632.67L810.3 632.46L811.8 632.37L813.3 632.39L814.8 632.06L816.3 632.01L817.8 632.77L819.3 632.44L820.8 632.57L822.3 632.81L823.8 631.82L825.3 632.07L826.8 632.32L828.3 632.22L829.8 631.57L831.3 630.92L832.8 630.28L834.3 629.63L835.8 628.98L837.3 628.34L838.8 627.69L840.3 627.05L841.8 626.40L843.3 625.75L844.8 625.11L846.3 624.46L847.8 623.82L849.3 624.10L850.8 625.28L852.3 623.87L853.8 623.27L855.3 622.16L856.8 622.11L858.3 621.56L859.8 621.93L861.3 622.31L862.8 621.75L864.3 622.04L865.8 621.72L867.3 621.37L868.8 621.71L870.3 621.94L871.8 622.25L873.3 622.38L874.8 622.55L876.3 622.72L877.8 622.66L879.3 622.74L880.8 623.11L882.3 623.43L883.8 623.07L885.3 623.50L886.8 623.50L888.3 623.56L889.8 624.06L891.3 623.91L892.8 624.44L894.3 624.11L895.8 624.47L897.3 624.48L898.8 624.50L900.3 624.91L901.8 624.96L903.3 625.32L904.8 625.39L906.3 625.38L907.8 625.78L909.3 626.01L910.8 626.40L912.3 626.22L913.8 626.46L915.3 626.00L916.8 626.36L918.3 625.89L919.8 625.62L921.3 625.86L922.8 625.97L924.3 625.32L925.8 625.29L927.3 625.22L928.8 625.01L930.3 625.17L931.8 624.80L933.3 624.68L934.8 624.80L936.3 624.40L937.8 624.50L939.3 624.11L940.8 624.01L942.3 623.84L943.8 624.53L945.3 624.04L946.8 624.10L948.3 623.99L949.8 623.97L951.3 623.88L952.8 624.31L954.3 623.78L955.8 623.73L957.3 623.95L958.8 624.07L960.3 624.67L961.8 624.87L963.3 624.69L964.8 624.78L966.3 625.17L967.8 625.68L969.3 624.95L970.8 625.74L972.3 625.53L973.8 626.08L975.3 625.77L976.8 626.04L978.3 625.91L979.8 626.13L981.3 626.75L982.8 626.80L984.3 626.71L985.8 626.77L987.3 626.73L988.8 627.19L990.3 627.42L991.8 627.46L993.3 627.37L994.8 627.07L996.3 627.19L997.8 627.11L999.3 627.84L1000.8 628.71L1002.3 629.06L1003.8 629.69L1005.3 630.54L1006.8 630.70L1008.3 630.99L1009.8 631.95L1011.3 632.93L1012.8 634.43L1014.3 634.95L1015.8 635.27L1017.3 635.42L1018.8 635.55L1020.3 635.76L1021.8 636.15L1023.3 636.34L1024.8 636.75L1026.3 636.96L1027.8 636.94L1029.3 637.48L1030.8 637.36L1032.3 637.10L1033.8 636.76L1035.3 636.00L1036.8 636.23L1038.3 636.08L1039.8 635.84L1041.3 635.59L1042.8 634.96L1044.3 634.53L1045.8 634.89L1047.3 635.06L1048.8 635.40L1050.3 635.28L1051.8 635.71L1053.3 635.84L1054.8 635.69L1056.3 635.49L1057.8 635.34L1059.3 634.14L1060.8 634.14L1062.3 633.88L1063.8 633.66L1065.3 633.46L1066.8 633.04L1068.3 632.90L1069.8 632.86L1071.3 632.60L1072.8 632.02L1074.3 631.00L1075.8 630.75L1077.3 630.20L1078.8 629.50L1080.3 630.18L1081.8 630.77L1083.3 632.22L1084.8 632.96L1086.3 633.43L1087.8 633.74L1089.3 632.89L1090.8 632.45L1092.3 632.11L1093.8 632.10L1095.3 631.42L1096.8 631.20L1098.3 631.66L1099.8 631.91L1101.3 631.85L1102.8 632.07L1104.3 632.01L1105.8 632.28L1107.3 632.66L1108.8 632.81L1110.3 632.90L1111.8 633.51L1113.3 633.49L1114.8 633.75L1116.3 634.02L1117.8 634.08L1119.3 634.19L1120.8 634.07L1122.3 633.94L1123.8 634.64L1125.3 635.72L1126.8 636.95L1128.3 638.76L1129.8 639.83L1131.3 640.54L1132.8 640.78L1134.3 641.31L1135.8 641.33L1137.3 641.35L1138.8 641.14L1140.3 641.60L1141.8 641.91L1143.3 641.88L1144.8 641.88L1146.3 642.86L1147.8 643.78L1149.3 642.37L1150.8 642.58L1152.3 643.16L1153.8 643.63L1155.3 644.28L1156.8 644.46L1158.3 644.46L1159.8 644.62L1161.3 644.89L1162.8 644.78L1164.3 644.75L1165.8 644.53L1167.3 644.33L1168.8 643.48L1170.3 642.94L1171.8 642.35L1173.3 641.95L1174.8 641.03L1176.3 640.96L1177.8 640.12L1179.3 639.93L1180.8 639.66L1182.3 639.66L1183.8 639.51L1185.3 638.83L1186.8 638.81L1188.3 638.93L1189.8 638.59L1191.3 637.99L1192.8 638.05L1194.3 637.48L1195.8 637.04L1197.3 636.46L1198.8 636.64L1200.3 636.23L1201.8 636.26L1203.3 635.94L1204.8 636.05L1206.3 636.41L1207.8 636.43L1209.3 636.86L1210.8 636.97L1212.3 636.93L1213.8 637.29L1215.3 637.17L1216.8 637.11L1218.3 636.53L1219.8 636.30L1221.3 636.40L1222.8 636.77L1224.3 637.00L1225.8 636.91L1227.3 637.21L1228.8 637.73L1230.3 637.69L1231.8 637.81L1233.3 638.28L1234.8 638.56L1236.3 638.12L1237.8 637.67L1239.3 637.40L1240.8 637.49L1242.3 637.15L1243.8 637.44L1245.3 637.68L1246.8 637.93L1248.3 637.92L1249.8 638.25L1251.3 638.17L1252.8 638.44L1254.3 638.49L1255.8 638.69L1257.3 638.17L1258.8 637.74L1260.3 637.51L1261.8 637.30L1263.3 637.64L1264.8 637.39L1266.3 637.67L1267.8 637.97L1269.3 638.68L1270.8 638.56L1272.3 638.54L1273.8 638.86L1275.3 639.06L1276.8 638.34L1278.3 638.02L1279.8 638.01L1281.3 637.57L1282.8 637.69L1284.3 637.64L1285.8 638.27L1287.3 638.40L1288.8 638.36L1290.3 638.56L1291.8 638.23L1293.3 638.90L1294.8 638.86L1296.3 638.67L1297.8 638.42L1299.3 637.93L1300.8 637.38L1302.3 637.68L1303.8 637.65L1305.3 637.90L1306.8 638.02L1308.3 638.24L1309.8 638.05L1311.3 638.88L1312.8 638.88L1314.3 639.21L1315.8 639.16L1317.3 638.50L1318.8 637.86L1320.3 637.73L1321.8 637.44L1323.3 637.74L1324.8 638.02L1326.3 637.81L1327.8 638.42L1329.3 638.25L1330.8 638.76L1332.3 638.86L1333.8 638.99L1335.3 638.99L1336.8 638.60L1338.3 638.29L1339.8 637.79L1341.3 637.80L1342.8 638.22L1344.3 638.42L1345.8 638.47L1347.3 638.53L1348.8 638.45L1350.3 639.02L1351.8 638.92L1353.3 639.09L1354.8 639.16L1356.3 638.93L1357.8 638.53L1359.3 638.29L1360.8 637.81L1362.3 637.86L1363.8 638.53L1365.3 638.27L1366.8 638.41L1368.3 638.73L1369.8 638.93L1371.3 638.77L1372.8 639.11L1374.3 639.49L1375.8 639.17L1377.3 638.84L1378.8 638.80L1380.3 638.09L1381.8 637.99L1383.3 638.06L1384.8 638.60L1386.3 638.14L1387.8 638.55L1389.3 638.75L1390.8 639.15L1392.3 639.31L1393.8 639.63L1395.3 639.03L1396.8 639.16L1398.3 638.67L1399.8 638.30L1401.3 638.22L1402.8 638.03L1404.3 637.99L1405.8 638.48L1407.3 638.45L1408.8 638.78L1410.3 639.14L1411.8 639.30L1413.3 639.71L1414.8 639.49L1416.3 638.95L1417.8 638.79L1419.3 638.46L1420.8 638.10L1422.3 638.33L1423.6 638.28"/>
<path stroke="#8c564b" d="M226.8 550.50L228.3 550.63L229.8 550.38L231.3 550.13L232.8 550.31L234.3 550.08L235.8 550.53L237.3 551.06L238.8 550.29L240.3 550.24L241.8 550.71L243.3 550.65L244.8 550.54L246.3 550.11L247.8 550.49L249.3 550.79L250.8 549.94L252.3 550.31L253.8 549.70L255.3 549.96L256.8 549.73L258.3 550.40L259.8 549.97L261.3 550.61L262.8 550.57L264.3 550.42L265.8 549.44L267.3 550.27L268.8 550.48L270.3 550.55L271.8 549.86L273.3 550.30L274.8 550.09L276.3 550.16L277.8 550.95L279.3 550.16L280.8 550.49L282.3 550.87L283.8 550.49L285.3 551.89L286.8 552.20L288.3 552.23L289.8 551.75L291.3 552.35L292.8 552.95L294.3 551.79L295.8 552.85L297.3 552.50L298.8 552.11L300.3 553.16L301.8 552.58L303.3 551.69L304.8 552.16L306.3 552.31L307.8 551.93L309.3 552.23L310.8 551.86L312.3 552.10L313.8 552.36L315.3 551.41L316.8 551.72L318.3 551.38L319.8 551.56L321.3 551.00L322.8 551.25L324.3 551.41L325.8 551.87L327.3 551.97L328.8 550.93L330.3 551.15L331.8 551.75L333.3 550.64L334.8 551.28L336.3 551.43L337.8 552.00L339.3 551.76L340.8 551.33L342.3 551.31L343.8 551.36L345.3 552.10L346.8 551.28L348.3 551.33L349.8 551.60L351.3 551.40L352.8 551.37L354.3 550.98L355.8 551.44L357.3 551.26L358.8 551.93L360.3 551.71L361.8 551.43L363.3 551.72L364.8 551.29L366.3 551.87L367.8 551.43L369.3 551.67L370.8 550.88L372.3 551.57L373.8 550.71L375.3 550.56L376.8 551.29L378.3 551.03L379.8 551.48L381.3 552.35L382.8 551.06L384.3 551.14L385.8 551.49L387.3 551.61L388.8 551.32L390.3 551.31L391.8 551.69L393.3 551.61L394.8 550.95L396.3 551.35L397.8 551.40L399.3 550.94L400.8 551.49L402.3 551.02L403.8 551.78L405.3 551.45L406.8 551.41L408.3 551.12L409.8 551.32L411.3 550.52L412.8 550.89L414.3 551.51L415.8 550.46L417.3 551.71L418.8 550.62L420.3 551.67L421.8 550.99L423.3 551.67L424.8 551.40L426.3 550.70L427.8 551.86L429.3 551.94L430.8 551.31L432.3 551.22L433.8 551.26L435.3 550.92L436.8 551.79L438.3 551.09L439.8 551.30L441.3 550.98L442.8 551.05L444.3 550.78L445.8 551.84L447.3 551.24L448.8 551.71L450.3 551.31L451.8 551.01L453.3 551.16L454.8 551.06L456.3 551.30L457.8 551.14L459.3 551.17L460.8 550.71L462.3 550.95L463.8 551.98L465.3 551.00L466.8 550.84L468.3 551.42L469.8 551.87L471.3 550.66L472.8 551.18L474.3 551.00L475.8 550.53L477.3 551.57L478.8 551.25L480.3 551.29L481.8 550.94L483.3 551.45L484.8 551.03L486.3 551.19L487.8 550.78L489.3 550.74L490.8 551.80L492.3 551.03L493.8 551.36L495.3 551.22L496.8 551.05L498.3 551.02L499.8 551.49L501.3 551.10L502.8 551.16L504.3 551.23L505.8 551.72L507.3 551.50L508.8 551.38L510.3 550.98L511.8 550.63L513.3 551.61L514.8 551.61L516.3 551.15L517.8 551.43L519.3 551.53L520.8 551.55L522.3 551.60L523.8 551.03L525.3 551.87L526.8 550.72L528.3 551.62L529.8 551.47L531.3 551.64L532.8 552.07L534.3 551.92L535.8 550.82L537.3 550.61L538.8 551.67L540.3 550.91L541.8 551.34L543.3 551.71L544.8 550.67L546.3 550.49L547.8 551.49L549.3 551.41L550.8 551.30L552.3 551.43L553.8 551.06L555.3 550.80L556.8 551.38L558.3 551.05L559.8 550.78L561.3 551.69L562.8 551.46L564.3 551.67L565.8 551.09L567.3 551.24L568.8 551.11L570.3 551.16L571.8 551.63L573.3 551.23L574.8 551.71L576.3 551.72L577.8 552.44L579.3 551.01L580.8 551.98L582.3 551.58L583.8 551.62L585.3 551.03L586.8 551.45L588.3 551.97L589.8 551.63L591.3 551.71L592.8 551.56L594.3 552.18L595.8 551.70L597.3 550.79L598.8 551.43L600.3 550.91L601.8 550.38L603.3 551.53L604.8 552.33L606.3 551.80L607.8 551.29L609.3 551.40L610.8 552.28L612.3 551.88L613.8 551.85L615.3 551.81L616.8 551.86L618.3 552.19L619.8 552.10L621.3 551.97L622.8 551.45L624.3 552.11L625.8 551.62L627.3 552.37L628.8 551.39L630.3 551.88L631.8 551.94L633.3 551.40L634.8 552.69L636.3 552.59L637.8 551.79L639.3 552.32L640.8 552.16L642.3 550.91L643.8 552.12L645.3 551.99L646.8 552.06L648.3 551.58L649.8 551.92L651.3 551.96L652.8 552.54L654.3 552.19L655.8 552.05L657.3 552.70L658.8 551.83L660.3 551.90L661.8 551.31L663.3 552.74L664.8 552.49L666.3 552.47L667.8 552.37L669.3 552.14L670.8 552.19L672.3 552.00L673.8 552.03L675.3 552.14L676.8 552.76L678.3 552.36L679.8 552.11L681.3 551.89L682.8 551.88L684.3 552.82L685.8 552.37L687.3 552.19L688.8 552.02L690.3 551.70L691.8 552.14L693.3 552.54L694.8 552.02L696.3 552.09L697.8 552.10L699.3 552.24L700.8 551.53L702.3 552.11L703.8 551.85L705.3 552.59L706.8 551.90L708.3 552.47L709.8 552.87L711.3 552.11L712.8 551.99L714.3 552.33L715.8 552.25L717.3 551.84L718.8 552.46L720.3 553.11L721.8 552.16L723.3 552.19L724.8 551.84L726.3 552.42L727.8 551.77L729.3 551.83L730.8 552.84L732.3 551.93L733.8 552.77L735.3 552.96L736.8 552.43L738.3 552.56L739.8 553.15L741.3 552.26L742.8 552.09L744.3 551.78L745.8 552.37L747.3 552.98L748.8 552.77L750.3 551.97L751.8 552.01L753.3 552.17L754.8 552.51L756.3 552.30L757.8 552.48L759.3 552.52L760.8 552.25L762.3 552.31L763.8 552.37L765.3 552.21L766.8 552.41L768.3 552.94L769.8 552.35L771.3 552.08L772.8 551.31L774.3 552.13L775.8 551.11L777.3 551.29L778.8 552.19L780.3 552.09L781.8 551.68L783.3 550.98L784.8 551.50L786.3 551.33L787.8 551.83L789.3 552.47L790.8 551.57L792.3 551.10L793.8 550.89L795.3 551.32L796.8 551.22L798.3 550.77L799.8 551.25L801.3 550.70L802.8 551.63L804.3 551.59L805.8 551.58L807.3 550.90L808.8 551.29L810.3 551.00L811.8 550.87L813.3 550.87L814.8 550.45L816.3 550.37L817.8 551.29L819.3 550.85L820.8 551.00L822.3 551.24L823.8 549.91L825.3 550.11L826.8 550.33L828.3 550.12L829.8 549.34L831.3 548.55L832.8 547.76L834.3 546.98L835.8 546.19L837.3 545.40L838.8 544.62L840.3 543.83L841.8 543.04L843.3 542.26L844.8 541.47L846.3 540.68L847.8 539.91L849.3 540.31L850.8 541.85L852.3 540.15L853.8 539.45L855.3 538.12L856.8 538.11L858.3 537.48L859.8 538.00L861.3 538.53L862.8 537.88L864.3 538.30L865.8 537.95L867.3 537.57L868.8 538.04L870.3 538.39L871.8 538.83L873.3 539.04L874.8 539.30L876.3 539.57L877.8 539.56L879.3 539.71L880.8 540.25L882.3 540.70L883.8 540.31L885.3 540.92L886.8 540.98L888.3 541.12L889.8 541.80L891.3 541.67L892.8 542.40L894.3 542.05L895.8 542.56L897.3 542.63L898.8 542.71L900.3 543.29L901.8 543.42L903.3 543.92L904.8 544.07L906.3 544.13L907.8 544.69L909.3 545.04L910.8 545.58L912.3 545.43L913.8 545.70L915.3 545.02L916.8 545.37L918.3 544.68L919.8 544.25L921.3 544.44L922.8 544.48L924.3 543.57L925.8 543.43L927.3 543.24L928.8 542.87L930.3 542.98L931.8 542.41L933.3 542.16L934.8 542.22L936.3 541.61L937.8 541.64L939.3 541.05L940.8 540.83L942.3 540.50L943.8 541.27L945.3 540.55L946.8 540.53L948.3 540.29L949.8 540.17L951.3 539.99L952.8 540.61L954.3 540.01L955.8 540.03L957.3 540.38L958.8 540.60L960.3 541.43L961.8 541.75L963.3 541.60L964.8 541.79L966.3 542.36L967.8 543.07L969.3 542.23L970.8 543.29L972.3 543.11L973.8 543.86L975.3 543.55L976.8 543.97L978.3 543.88L979.8 544.23L981.3 545.08L982.8 545.21L984.3 545.18L985.8 545.33L987.3 545.35L988.8 546.00L990.3 546.36L991.8 546.45L993.3 546.33L994.8 545.96L996.3 546.12L997.8 546.01L999.3 547.09L1000.8 548.38L1002.3 549.02L1003.8 550.00L1005.3 551.28L1006.8 551.41L1008.3 551.60L1009.8 552.65L1011.3 553.70L1012.8 555.42L1014.3 556.03L1015.8 556.43L1017.3 556.64L1018.8 556.82L1020.3 557.09L1021.8 557.60L1023.3 557.86L1024.8 558.39L1026.3 558.66L1027.8 558.65L1029.3 559.34L1030.8 559.15L1032.3 558.70L1033.8 558.14L1035.3 557.06L1036.8 557.23L1038.3 556.91L1039.8 556.49L1041.3 556.05L1042.8 555.14L1044.3 554.49L1045.8 554.93L1047.3 555.12L1048.8 555.54L1050.3 555.38L1051.8 555.91L1053.3 556.05L1054.8 555.79L1056.3 555.43L1057.8 555.13L1059.3 553.52L1060.8 553.40L1062.3 552.96L1063.8 552.58L1065.3 552.21L1066.8 551.56L1068.3 551.27L1069.8 551.11L1071.3 550.67L1072.8 549.84L1074.3 548.46L1075.8 548.03L1077.3 547.24L1078.8 546.25L1080.3 547.32L1081.8 548.28L1083.3 550.32L1084.8 551.46L1086.3 552.27L1087.8 552.59L1089.3 551.43L1090.8 550.79L1092.3 550.27L1093.8 550.16L1095.3 549.22L1096.8 548.85L1098.3 549.41L1099.8 549.74L1101.3 549.68L1102.8 549.97L1104.3 549.92L1105.8 550.27L1107.3 550.76L1108.8 550.96L1110.3 551.19L1111.8 552.08L1113.3 552.19L1114.8 552.64L1116.3 553.11L1117.8 553.32L1119.3 553.59L1120.8 553.57L1122.3 553.51L1123.8 554.27L1125.3 555.52L1126.8 556.95L1128.3 559.10L1129.8 560.34L1131.3 561.20L1132.8 561.47L1134.3 562.11L1135.8 562.11L1137.3 562.11L1138.8 561.82L1140.3 562.37L1141.8 562.74L1143.3 562.68L1144.8 562.65L1146.3 563.99L1147.8 565.26L1149.3 563.61L1150.8 563.99L1152.3 564.83L1153.8 565.53L1155.3 566.46L1156.8 566.81L1158.3 566.92L1159.8 567.24L1161.3 567.69L1162.8 567.68L1164.3 567.70L1165.8 567.37L1167.3 567.06L1168.8 565.95L1170.3 565.22L1171.8 564.44L1173.3 563.87L1174.8 562.68L1176.3 562.53L1177.8 561.24L1179.3 560.77L1180.8 560.13L1182.3 559.79L1183.8 559.26L1185.3 558.06L1186.8 557.69L1188.3 557.48L1189.8 556.70L1191.3 556.00L1192.8 556.17L1194.3 555.55L1195.8 555.11L1197.3 554.49L1198.8 554.78L1200.3 554.30L1201.8 554.36L1203.3 553.98L1204.8 554.14L1206.3 554.63L1207.8 554.67L1209.3 555.23L1210.8 555.39L1212.3 555.37L1213.8 555.85L1215.3 555.72L1216.8 555.67L1218.3 554.97L1219.8 554.70L1221.3 554.86L1222.8 555.35L1224.3 555.66L1225.8 555.58L1227.3 555.98L1228.8 556.65L1230.3 556.64L1231.8 556.81L1233.3 557.43L1234.8 557.79L1236.3 557.27L1237.8 556.69L1239.3 556.35L1240.8 556.44L1242.3 556.00L1243.8 556.34L1245.3 556.63L1246.8 556.92L1248.3 556.91L1249.8 557.30L1251.3 557.18L1252.8 557.51L1254.3 557.55L1255.8 557.78L1257.3 557.12L1258.8 556.57L1260.3 556.26L1261.8 555.98L1263.3 556.40L1264.8 556.07L1266.3 556.40L1267.8 556.75L1269.3 557.63L1270.8 557.47L1272.3 557.42L1273.8 557.81L1275.3 558.05L1276.8 557.13L1278.3 556.71L1279.8 556.68L1281.3 556.12L1282.8 556.25L1284.3 556.18L1285.8 556.94L1287.3 557.09L1288.8 557.03L1290.3 557.26L1291.8 556.84L1293.3 557.65L1294.8 557.59L1296.3 557.34L1297.8 557.00L1299.3 556.38L1300.8 555.67L1302.3 556.04L1303.8 555.98L1305.3 556.28L1306.8 556.42L1308.3 556.68L1309.8 556.43L1311.3 557.44L1312.8 557.42L1314.3 557.82L1315.8 557.75L1317.3 556.91L1318.8 556.10L1320.3 555.91L1321.8 555.53L1323.3 555.89L1324.8 556.23L1326.3 555.95L1327.8 556.70L1329.3 556.47L1330.8 557.09L1332.3 557.20L1333.8 557.35L1335.3 557.33L1336.8 556.83L1338.3 556.43L1339.8 555.79L1341.3 555.78L1342.8 556.29L1344.3 556.53L1345.8 556.58L1347.3 556.64L1348.8 556.52L1350.3 557.21L1351.8 557.07L1353.3 557.27L1354.8 557.34L1356.3 557.04L1357.8 556.52L1359.3 556.21L1360.8 555.59L1362.3 555.64L1363.8 556.45L1365.3 556.11L1366.8 556.28L1368.3 556.66L1369.8 556.90L1371.3 556.68L1372.8 557.09L1374.3 557.55L1375.8 557.13L1377.3 556.71L1378.8 556.65L1380.3 555.74L1381.8 555.60L1383.3 555.67L1384.8 556.33L1386.3 555.74L1387.8 556.24L1389.3 556.47L1390.8 556.95L1392.3 557.14L1393.8 557.52L1395.3 556.76L1396.8 556.91L1398.3 556.28L1399.8 555.80L1401.3 555.69L1402.8 555.43L1404.3 555.37L1405.8 555.96L1407.3 555.90L1408.8 556.30L1410.3 556.74L1411.8 556.93L1413.3 557.43L1414.8 557.14L1416.3 556.44L1417.8 556.22L1419.3 555.80L1420.8 555.33L1422.3 555.60L1423.6 555.53"/>
<path stroke="#c49c94" d="M226.8 695.30L228.3 695.39L229.8 695.20L231.3 694.99L232.8 695.12L234.3 694.95L235.8 695.27L237.3 695.67L238.8 695.08L240.3 695.03L241.8 695.37L243.3 695.32L244.8 695.24L246.3 694.90L247.8 695.18L249.3 695.40L250.8 694.75L252.3 695.02L253.8 694.55L255.3 694.74L256.8 694.56L258.3 695.05L259.8 694.72L261.3 695.20L262.8 695.15L264.3 695.04L265.8 694.30L267.3 694.91L268.8 695.06L270.3 695.10L271.8 694.57L273.3 694.90L274.8 694.73L276.3 694.78L277.8 695.36L279.3 694.76L280.8 695.00L282.3 695.28L283.8 695.02L285.3 696.25L286.8 696.51L288.3 696.55L289.8 696.20L291.3 696.66L292.8 697.12L294.3 696.26L295.8 697.08L297.3 696.79L298.8 696.49L300.3 697.26L301.8 696.80L303.3 696.12L304.8 696.46L306.3 696.55L307.8 696.25L309.3 696.46L310.8 696.16L312.3 696.32L313.8 696.50L315.3 695.77L316.8 695.98L318.3 695.71L319.8 695.83L321.3 695.40L322.8 695.59L324.3 695.70L325.8 696.04L327.3 696.11L328.8 695.32L330.3 695.48L331.8 695.93L333.3 695.09L334.8 695.57L336.3 695.67L337.8 696.09L339.3 695.91L340.8 695.58L342.3 695.56L343.8 695.59L345.3 696.14L346.8 695.52L348.3 695.55L349.8 695.75L351.3 695.60L352.8 695.56L354.3 695.27L355.8 695.61L357.3 695.46L358.8 695.96L360.3 695.80L361.8 695.58L363.3 695.79L364.8 695.46L366.3 695.89L367.8 695.55L369.3 695.73L370.8 695.13L372.3 695.64L373.8 694.99L375.3 694.88L376.8 695.42L378.3 695.22L379.8 695.55L381.3 696.20L382.8 695.22L384.3 695.28L385.8 695.53L387.3 695.62L388.8 695.40L390.3 695.38L391.8 695.66L393.3 695.60L394.8 695.10L396.3 695.39L397.8 695.42L399.3 695.07L400.8 695.48L402.3 695.13L403.8 695.70L405.3 695.45L406.8 695.42L408.3 695.20L409.8 695.35L411.3 694.75L412.8 695.02L414.3 695.49L415.8 694.70L417.3 695.64L418.8 694.82L420.3 695.60L421.8 695.10L423.3 695.61L424.8 695.40L426.3 694.87L427.8 695.75L429.3 695.80L430.8 695.33L432.3 695.26L433.8 695.29L435.3 695.03L436.8 695.68L438.3 695.16L439.8 695.32L441.3 695.08L442.8 695.13L444.3 694.92L445.8 695.72L447.3 695.27L448.8 695.62L450.3 695.32L451.8 695.09L453.3 695.21L454.8 695.13L456.3 695.31L457.8 695.18L459.3 695.21L460.8 694.86L462.3 695.04L463.8 695.81L465.3 695.08L466.8 694.96L468.3 695.39L469.8 695.73L471.3 694.82L472.8 695.21L474.3 695.08L475.8 694.72L477.3 695.50L478.8 695.26L480.3 695.29L481.8 695.02L483.3 695.40L484.8 695.09L486.3 695.21L487.8 694.90L489.3 694.87L490.8 695.67L492.3 695.08L493.8 695.33L495.3 695.23L496.8 695.10L498.3 695.07L499.8 695.43L501.3 695.13L502.8 695.18L504.3 695.23L505.8 695.59L507.3 695.43L508.8 695.34L510.3 695.04L511.8 694.78L513.3 695.51L514.8 695.51L516.3 695.16L517.8 695.37L519.3 695.44L520.8 695.47L522.3 695.51L523.8 695.08L525.3 695.72L526.8 694.86L528.3 695.53L529.8 695.43L531.3 695.56L532.8 695.89L534.3 695.77L535.8 694.96L537.3 694.80L538.8 695.60L540.3 695.03L541.8 695.36L543.3 695.64L544.8 694.87L546.3 694.73L547.8 695.49L549.3 695.44L550.8 695.36L552.3 695.46L553.8 695.19L555.3 694.99L556.8 695.43L558.3 695.18L559.8 694.98L561.3 695.67L562.8 695.51L564.3 695.66L565.8 695.24L567.3 695.35L568.8 695.26L570.3 695.30L571.8 695.66L573.3 695.36L574.8 695.73L576.3 695.74L577.8 696.28L579.3 695.21L580.8 695.94L582.3 695.65L583.8 695.68L585.3 695.24L586.8 695.56L588.3 695.95L589.8 695.71L591.3 695.77L592.8 695.66L594.3 696.13L595.8 695.77L597.3 695.10L598.8 695.58L600.3 695.19L601.8 694.80L603.3 695.67L604.8 696.27L606.3 695.87L607.8 695.50L609.3 695.59L610.8 696.25L612.3 695.95L613.8 695.93L615.3 695.91L616.8 695.95L618.3 696.20L619.8 696.14L621.3 696.04L622.8 695.66L624.3 696.16L625.8 695.79L627.3 696.36L628.8 695.63L630.3 696.00L631.8 696.05L633.3 695.65L634.8 696.62L636.3 696.55L637.8 695.95L639.3 696.35L640.8 696.24L642.3 695.29L643.8 696.19L645.3 696.09L646.8 696.14L648.3 695.77L649.8 696.02L651.3 696.05L652.8 696.48L654.3 696.21L655.8 696.10L657.3 696.58L658.8 695.93L660.3 695.98L661.8 695.53L663.3 696.59L664.8 696.40L666.3 696.39L667.8 696.31L669.3 696.13L670.8 696.16L672.3 696.02L673.8 696.03L675.3 696.11L676.8 696.57L678.3 696.27L679.8 696.08L681.3 695.91L682.8 695.89L684.3 696.60L685.8 696.25L687.3 696.11L688.8 695.98L690.3 695.74L691.8 696.07L693.3 696.37L694.8 695.97L696.3 696.02L697.8 696.02L699.3 696.12L700.8 695.59L702.3 696.01L703.8 695.82L705.3 696.37L706.8 695.84L708.3 696.27L709.8 696.57L711.3 695.99L712.8 695.90L714.3 696.14L715.8 696.08L717.3 695.77L718.8 696.23L720.3 696.72L721.8 696.00L723.3 696.02L724.8 695.75L726.3 696.18L727.8 695.69L729.3 695.73L730.8 696.48L732.3 695.79L733.8 696.42L735.3 696.56L736.8 696.16L738.3 696.25L739.8 696.69L741.3 696.01L742.8 695.89L744.3 695.65L745.8 696.09L747.3 696.54L748.8 696.38L750.3 695.78L751.8 695.80L753.3 695.91L754.8 696.16L756.3 696.01L757.8 696.14L759.3 696.17L760.8 695.95L762.3 695.98L763.8 696.01L765.3 695.86L766.8 696.00L768.3 696.38L769.8 695.92L771.3 695.70L772.8 695.10L774.3 695.70L775.8 694.92L777.3 695.03L778.8 695.70L780.3 695.60L781.8 695.28L783.3 694.73L784.8 695.10L786.3 694.96L787.8 695.32L789.3 695.78L790.8 695.08L792.3 694.72L793.8 694.54L795.3 694.84L796.8 694.75L798.3 694.40L799.8 694.74L801.3 694.29L802.8 694.95L804.3 694.88L805.8 694.83L807.3 694.28L808.8 694.54L810.3 694.28L811.8 694.14L813.3 694.10L814.8 693.74L816.3 693.64L817.8 694.29L819.3 693.93L820.8 694.00L822.3 694.17L823.8 693.19L825.3 693.37L826.8 693.55L828.3 693.45L829.8 692.96L831.3 692.47L832.8 691.97L834.3 691.48L835.8 690.99L837.3 690.49L838.8 690.00L840.3 689.50L841.8 689.01L843.3 688.52L844.8 688.02L846.3 687.53L847.8 687.05L849.3 687.56L850.8 688.91L852.3 687.68L853.8 687.18L855.3 686.25L856.8 686.36L858.3 686.01L859.8 686.50L861.3 687.02L862.8 686.61L864.3 687.00L865.8 686.81L867.3 686.62L868.8 687.10L870.3 687.48L871.8 687.94L873.3 688.23L874.8 688.55L876.3 688.86L877.8 688.94L879.3 689.15L880.8 689.64L882.3 690.07L883.8 689.87L885.3 690.41L886.8 690.54L888.3 690.73L889.8 691.34L891.3 691.33L892.8 691.97L894.3 691.79L895.8 692.27L897.3 692.40L898.8 692.56L900.3 693.08L901.8 693.28L903.3 693.75L904.8 693.97L906.3 694.10L907.8 694.62L909.3 694.99L910.8 695.49L912.3 695.47L913.8 695.69L915.3 695.12L916.8 695.32L918.3 694.74L919.8 694.35L921.3 694.43L922.8 694.40L924.3 693.65L925.8 693.48L927.3 693.28L928.8 692.94L930.3 692.95L931.8 692.46L933.3 692.21L934.8 692.18L936.3 691.66L937.8 691.62L939.3 691.12L940.8 690.89L942.3 690.60L943.8 691.11L945.3 690.52L946.8 690.45L948.3 690.22L949.8 690.07L951.3 689.90L952.8 690.42L954.3 690.03L955.8 690.10L957.3 690.43L958.8 690.67L960.3 691.37L961.8 691.68L963.3 691.65L964.8 691.87L966.3 692.36L967.8 692.97L969.3 692.40L970.8 693.27L972.3 693.20L973.8 693.83L975.3 693.66L976.8 694.04L978.3 694.04L979.8 694.37L981.3 695.07L982.8 695.24L984.3 695.29L985.8 695.48L987.3 695.56L988.8 696.12L990.3 696.47L991.8 696.63L993.3 696.66L994.8 696.51L996.3 696.74L997.8 696.79L999.3 697.45L1000.8 698.24L1002.3 698.54L1003.8 699.10L1005.3 699.87L1006.8 699.86L1008.3 699.94L1009.8 700.72L1011.3 701.55L1012.8 702.88L1014.3 703.37L1015.8 703.70L1017.3 703.88L1018.8 704.03L1020.3 704.25L1021.8 704.66L1023.3 704.87L1024.8 705.29L1026.3 705.51L1027.8 705.53L1029.3 706.07L1030.8 705.96L1032.3 705.61L1033.8 705.18L1035.3 704.36L1036.8 704.50L1038.3 704.27L1039.8 703.98L1041.3 703.66L1042.8 702.94L1044.3 702.45L1045.8 702.80L1047.3 702.97L1048.8 703.31L1050.3 703.20L1051.8 703.62L1053.3 703.74L1054.8 703.52L1056.3 703.21L1057.8 702.93L1059.3 701.61L1060.8 701.45L1062.3 701.07L1063.8 700.74L1065.3 700.42L1066.8 699.89L1068.3 699.62L1069.8 699.45L1071.3 699.08L1072.8 698.36L1074.3 697.21L1075.8 696.76L1077.3 696.05L1078.8 695.19L1080.3 695.87L1081.8 696.48L1083.3 697.91L1084.8 698.66L1086.3 699.16L1087.8 699.41L1089.3 698.55L1090.8 698.08L1092.3 697.70L1093.8 697.64L1095.3 696.95L1096.8 696.70L1098.3 697.19L1099.8 697.53L1101.3 697.57L1102.8 697.86L1104.3 697.89L1105.8 698.22L1107.3 698.66L1108.8 698.88L1110.3 699.05L1111.8 699.73L1113.3 699.82L1114.8 700.13L1116.3 700.46L1117.8 700.59L1119.3 700.76L1120.8 700.71L1122.3 700.60L1123.8 701.04L1125.3 701.94L1126.8 702.97L1128.3 704.55L1129.8 705.44L1131.3 706.29L1132.8 706.70L1134.3 707.33L1135.8 707.47L1137.3 707.60L1138.8 707.52L1140.3 708.06L1141.8 708.48L1143.3 708.56L1144.8 708.69L1146.3 709.71L1147.8 710.66L1149.3 709.24L1150.8 709.39L1152.3 709.98L1153.8 710.47L1155.3 711.13L1156.8 711.33L1158.3 711.35L1159.8 711.51L1161.3 711.78L1162.8 711.69L1164.3 711.63L1165.8 711.34L1167.3 711.06L1168.8 710.18L1170.3 709.57L1171.8 708.90L1173.3 708.41L1174.8 707.43L1176.3 707.29L1177.8 706.42L1179.3 706.16L1180.8 705.67L1182.3 705.32L1183.8 704.82L1185.3 703.83L1186.8 703.46L1188.3 703.21L1189.8 702.54L1191.3 701.80L1192.8 701.69L1194.3 701.00L1195.8 700.43L1197.3 699.73L1198.8 699.86L1200.3 699.55L1201.8 699.64L1203.3 699.41L1204.8 699.59L1206.3 700.00L1207.8 700.09L1209.3 700.57L1210.8 700.74L1212.3 700.77L1213.8 701.19L1215.3 701.15L1216.8 701.16L1218.3 700.69L1219.8 700.55L1221.3 700.73L1222.8 701.16L1224.3 701.46L1225.8 701.47L1227.3 701.84L1228.8 702.41L1230.3 702.46L1231.8 702.66L1233.3 703.19L1234.8 703.53L1236.3 703.20L1237.8 702.30L1239.3 701.58L1240.8 701.18L1242.3 700.39L1243.8 700.43L1245.3 700.66L1246.8 700.89L1248.3 700.89L1249.8 701.20L1251.3 701.12L1252.8 701.37L1254.3 701.42L1255.8 701.60L1257.3 701.12L1258.8 700.72L1260.3 700.50L1261.8 700.30L1263.3 700.62L1264.8 700.39L1266.3 700.65L1267.8 700.93L1269.3 701.59L1270.8 701.48L1272.3 701.46L1273.8 701.77L1275.3 701.96L1276.8 701.28L1278.3 700.97L1279.8 700.97L1281.3 700.56L1282.8 700.66L1284.3 700.62L1285.8 701.21L1287.3 701.33L1288.8 701.30L1290.3 701.48L1291.8 701.18L1293.3 701.80L1294.8 701.76L1296.3 701.59L1297.8 701.35L1299.3 700.89L1300.8 700.37L1302.3 700.66L1303.8 700.63L1305.3 700.86L1306.8 700.98L1308.3 701.19L1309.8 701.01L1311.3 701.78L1312.8 701.78L1314.3 702.09L1315.8 702.05L1317.3 701.43L1318.8 700.83L1320.3 700.71L1321.8 700.43L1323.3 700.71L1324.8 700.98L1326.3 700.78L1327.8 701.35L1329.3 701.19L1330.8 701.67L1332.3 701.76L1333.8 701.89L1335.3 701.89L1336.8 701.52L1338.3 701.23L1339.8 700.76L1341.3 700.77L1342.8 701.17L1344.3 701.35L1345.8 701.40L1347.3 701.46L1348.8 701.38L1350.3 701.91L1351.8 701.82L1353.3 701.98L1354.8 702.04L1356.3 701.83L1357.8 701.45L1359.3 701.23L1360.8 700.78L1362.3 700.83L1363.8 701.45L1365.3 701.21L1366.8 701.34L1368.3 701.64L1369.8 701.83L1371.3 701.68L1372.8 702.00L1374.3 702.36L1375.8 702.05L1377.3 701.74L1378.8 701.71L1380.3 701.04L1381.8 700.95L1383.3 701.01L1384.8 701.52L1386.3 701.09L1387.8 701.47L1389.3 701.66L1390.8 702.03L1392.3 702.19L1393.8 702.49L1395.3 701.93L1396.8 702.05L1398.3 701.58L1399.8 701.24L1401.3 701.17L1402.8 700.99L1404.3 700.95L1405.8 701.41L1407.3 701.38L1408.8 701.69L1410.3 702.03L1411.8 702.18L1413.3 702.56L1414.8 702.36L1416.3 701.85L1417.8 701.70L1419.3 701.39L1420.8 701.05L1422.3 701.27L1423.6 701.22"/>
<path stroke="#e377c2" d="M226.8 747.50L228.3 747.51L229.8 747.50L231.3 747.48L232.8 747.49L234.3 747.48L235.8 747.51L237.3 747.53L238.8 747.50L240.3 747.49L241.8 747.52L243.3 747.51L244.8 747.51L246.3 747.49L247.8 747.51L249.3 747.52L250.8 747.48L252.3 747.50L253.8 747.47L255.3 747.49L256.8 747.47L258.3 747.51L259.8 747.49L261.3 747.52L262.8 747.52L264.3 747.51L265.8 747.46L267.3 747.51L268.8 747.52L270.3 747.52L271.8 747.49L273.3 747.51L274.8 747.50L276.3 747.51L277.8 747.55L279.3 747.51L280.8 747.52L282.3 747.54L283.8 747.52L285.3 747.57L286.8 747.58L288.3 747.58L289.8 747.56L291.3 747.59L292.8 747.62L294.3 747.56L295.8 747.62L297.3 747.60L298.8 747.58L300.3 747.64L301.8 747.61L303.3 747.57L304.8 747.59L306.3 747.60L307.8 747.58L309.3 747.60L310.8 747.58L312.3 747.60L313.8 747.61L315.3 747.57L316.8 747.58L318.3 747.57L319.8 747.58L321.3 747.55L322.8 747.57L324.3 747.57L325.8 747.60L327.3 747.60L328.8 747.55L330.3 747.57L331.8 747.60L333.3 747.54L334.8 747.57L336.3 747.58L337.8 747.61L339.3 747.60L340.8 747.58L342.3 747.58L343.8 747.58L345.3 747.62L346.8 747.58L348.3 747.58L349.8 747.60L351.3 747.59L352.8 747.59L354.3 747.57L355.8 747.59L357.3 747.59L358.8 747.62L360.3 747.61L361.8 747.60L363.3 747.61L364.8 747.59L366.3 747.62L367.8 747.60L369.3 747.61L370.8 747.57L372.3 747.61L373.8 747.57L375.3 747.56L376.8 747.60L378.3 747.59L379.8 747.61L381.3 747.65L382.8 747.59L384.3 747.59L385.8 747.61L387.3 747.62L388.8 747.61L390.3 747.61L391.8 747.63L393.3 747.62L394.8 747.59L396.3 747.61L397.8 747.61L399.3 747.59L400.8 747.62L402.3 747.60L403.8 747.64L405.3 747.62L406.8 747.62L408.3 747.61L409.8 747.62L411.3 747.58L412.8 747.60L414.3 747.63L415.8 747.58L417.3 747.64L418.8 747.59L420.3 747.64L421.8 747.61L423.3 747.64L424.8 747.63L426.3 747.59L427.8 747.65L429.3 747.66L430.8 747.63L432.3 747.62L433.8 747.63L435.3 747.61L436.8 747.66L438.3 747.62L439.8 747.63L441.3 747.62L442.8 747.62L444.3 747.61L445.8 747.66L447.3 747.63L448.8 747.66L450.3 747.64L451.8 747.62L453.3 747.63L454.8 747.63L456.3 747.64L457.8 747.63L459.3 747.64L460.8 747.61L462.3 747.63L463.8 747.68L465.3 747.63L466.8 747.62L468.3 747.65L469.8 747.68L471.3 747.62L472.8 747.64L474.3 747.64L475.8 747.61L477.3 747.67L478.8 747.65L480.3 747.65L481.8 747.64L483.3 747.66L484.8 747.64L486.3 747.65L487.8 747.63L489.3 747.63L490.8 747.69L492.3 747.65L493.8 747.67L495.3 747.66L496.8 747.65L498.3 747.65L499.8 747.68L501.3 747.66L502.8 747.66L504.3 747.66L505.8 747.69L507.3 747.68L508.8 747.67L510.3 747.65L511.8 747.64L513.3 747.69L514.8 747.69L516.3 747.67L517.8 747.68L519.3 747.69L520.8 747.69L522.3 747.69L523.8 747.66L525.3 747.71L526.8 747.65L528.3 747.70L529.8 747.69L531.3 747.70L532.8 747.72L534.3 747.71L535.8 747.66L537.3 747.65L538.8 747.70L540.3 747.67L541.8 747.69L543.3 747.71L544.8 747.66L546.3 747.65L547.8 747.70L549.3 747.70L550.8 747.69L552.3 747.70L553.8 747.68L555.3 747.67L556.8 747.70L558.3 747.68L559.8 747.67L561.3 747.72L562.8 747.70L564.3 747.72L565.8 747.69L567.3 747.70L568.8 747.69L570.3 747.69L571.8 747.72L573.3 747.70L574.8 747.72L576.3 747.72L577.8 747.76L579.3 747.69L580.8 747.74L582.3 747.72L583.8 747.72L585.3 747.69L586.8 747.72L588.3 747.74L589.8 747.73L591.3 747.73L592.8 747.72L594.3 747.76L595.8 747.73L597.3 747.69L598.8 747.72L600.3 747.69L601.8 747.67L603.3 747.73L604.8 747.77L606.3 747.74L607.8 747.72L609.3 747.72L610.8 747.77L612.3 747.75L613.8 747.75L615.3 747.75L616.8 747.75L618.3 747.77L619.8 747.76L621.3 747.76L622.8 747.73L624.3 747.77L625.8 747.74L627.3 747.78L628.8 747.73L630.3 747.76L631.8 747.76L633.3 747.73L634.8 747.80L636.3 747.80L637.8 747.76L639.3 747.78L640.8 747.78L642.3 747.71L643.8 747.77L645.3 747.77L646.8 747.77L648.3 747.75L649.8 747.77L651.3 747.77L652.8 747.80L654.3 747.78L655.8 747.78L657.3 747.81L658.8 747.77L660.3 747.77L661.8 747.74L663.3 747.81L664.8 747.80L666.3 747.80L667.8 747.80L669.3 747.78L670.8 747.79L672.3 747.78L673.8 747.78L675.3 747.79L676.8 747.82L678.3 747.80L679.8 747.79L681.3 747.78L682.8 747.78L684.3 747.82L685.8 747.80L687.3 747.79L688.8 747.78L690.3 747.77L691.8 747.79L693.3 747.81L694.8 747.79L696.3 747.79L697.8 747.79L699.3 747.80L700.8 747.76L702.3 747.79L703.8 747.78L705.3 747.82L706.8 747.78L708.3 747.81L709.8 747.83L711.3 747.80L712.8 747.79L714.3 747.81L715.8 747.81L717.3 747.79L718.8 747.82L720.3 747.85L721.8 747.80L723.3 747.81L724.8 747.79L726.3 747.82L727.8 747.79L729.3 747.79L730.8 747.84L732.3 747.79L733.8 747.84L735.3 747.85L736.8 747.82L738.3 747.83L739.8 747.86L741.3 747.81L742.8 747.81L744.3 747.79L745.8 747.82L747.3 747.85L748.8 747.84L750.3 747.80L751.8 747.81L753.3 747.81L754.8 747.83L756.3 747.82L757.8 747.83L759.3 747.83L760.8 747.82L762.3 747.83L763.8 747.83L765.3 747.82L766.8 747.83L768.3 747.86L769.8 747.83L771.3 747.82L772.8 747.78L774.3 747.83L775.8 747.78L777.3 747.79L778.8 747.83L780.3 747.83L781.8 747.81L783.3 747.78L784.8 747.80L786.3 747.80L787.8 747.82L789.3 747.85L790.8 747.81L792.3 747.79L793.8 747.78L795.3 747.80L796.8 747.80L798.3 747.78L799.8 747.80L801.3 747.78L802.8 747.83L804.3 747.83L805.8 747.83L807.3 747.80L808.8 747.82L810.3 747.81L811.8 747.81L813.3 747.81L814.8 747.79L816.3 747.79L817.8 747.84L819.3 747.82L820.8 747.84L822.3 747.85L823.8 747.80L825.3 747.82L826.8 747.85L828.3 747.85L829.8 747.82L831.3 747.80L832.8 747.78L834.3 747.75L835.8 747.73L837.3 747.71L838.8 747.68L840.3 747.66L841.8 747.64L843.3 747.61L844.8 747.59L846.3 747.56L847.8 747.54L849.3 747.55L850.8 747.62L852.3 747.56L853.8 747.55L855.3 747.50L856.8 747.51L858.3 747.48L859.8 747.51L861.3 747.55L862.8 747.53L864.3 747.56L865.8 747.56L867.3 747.55L868.8 747.58L870.3 747.60L871.8 747.62L873.3 747.64L874.8 747.66L876.3 747.68L877.8 747.68L879.3 747.69L880.8 747.72L882.3 747.75L883.8 747.73L885.3 747.76L886.8 747.77L888.3 747.78L889.8 747.82L891.3 747.81L892.8 747.85L894.3 747.84L895.8 747.87L897.3 747.87L898.8 747.88L900.3 747.91L901.8 747.92L903.3 747.94L904.8 747.95L906.3 747.96L907.8 747.98L909.3 748.00L910.8 748.03L912.3 748.02L913.8 748.04L915.3 748.02L916.8 748.05L918.3 748.03L919.8 748.02L921.3 748.04L922.8 748.05L924.3 748.02L925.8 748.02L927.3 748.02L928.8 748.02L930.3 748.03L931.8 748.02L933.3 748.01L934.8 748.03L936.3 748.01L937.8 748.02L939.3 748.01L940.8 748.00L942.3 748.00L943.8 748.04L945.3 748.02L946.8 748.03L948.3 748.02L949.8 748.03L951.3 748.03L952.8 748.06L954.3 748.04L955.8 748.05L957.3 748.07L958.8 748.08L960.3 748.12L961.8 748.14L963.3 748.14L964.8 748.15L966.3 748.18L967.8 748.22L969.3 748.18L970.8 748.23L972.3 748.23L973.8 748.27L975.3 748.26L976.8 748.28L978.3 748.28L979.8 748.30L981.3 748.35L982.8 748.36L984.3 748.36L985.8 748.37L987.3 748.37L988.8 748.41L990.3 748.43L991.8 748.44L993.3 748.44L994.8 748.43L996.3 748.45L997.8 748.45L999.3 748.50L1000.8 748.54L1002.3 748.55L1003.8 748.58L1005.3 748.62L1006.8 748.62L1008.3 748.63L1009.8 748.67L1011.3 748.70L1012.8 748.77L1014.3 748.79L1015.8 748.80L1017.3 748.81L1018.8 748.82L1020.3 748.83L1021.8 748.85L1023.3 748.86L1024.8 748.88L1026.3 748.89L1027.8 748.88L1029.3 748.92L1030.8 748.90L1032.3 748.89L1033.8 748.88L1035.3 748.84L1036.8 748.86L1038.3 748.85L1039.8 748.83L1041.3 748.82L1042.8 748.79L1044.3 748.77L1045.8 748.79L1047.3 748.80L1048.8 748.82L1050.3 748.82L1051.8 748.84L1053.3 748.85L1054.8 748.85L1056.3 748.83L1057.8 748.83L1059.3 748.77L1060.8 748.78L1062.3 748.77L1063.8 748.76L1065.3 748.75L1066.8 748.72L1068.3 748.72L1069.8 748.72L1071.3 748.70L1072.8 748.68L1074.3 748.63L1075.8 748.63L1077.3 748.61L1078.8 748.58L1080.3 748.61L1081.8 748.63L1083.3 748.71L1084.8 748.73L1086.3 748.75L1087.8 748.77L1089.3 748.73L1090.8 748.72L1092.3 748.71L1093.8 748.72L1095.3 748.68L1096.8 748.68L1098.3 748.71L1099.8 748.72L1101.3 748.71L1102.8 748.72L1104.3 748.72L1105.8 748.73L1107.3 748.76L1108.8 748.76L1110.3 748.77L1111.8 748.80L1113.3 748.79L1114.8 748.81L1116.3 748.83L1117.8 748.83L1119.3 748.84L1120.8 748.84L1122.3 748.83L1123.8 748.87L1125.3 748.91L1126.8 748.95L1128.3 749.04L1129.8 749.08L1131.3 749.11L1132.8 749.10L1134.3 749.13L1135.8 749.13L1137.3 749.13L1138.8 749.12L1140.3 749.15L1141.8 749.16L1143.3 749.16L1144.8 749.16L1146.3 749.20L1147.8 749.25L1149.3 749.18L1150.8 749.21L1152.3 749.24L1153.8 749.26L1155.3 749.30L1156.8 749.31L1158.3 749.31L1159.8 749.32L1161.3 749.34L1162.8 749.34L1164.3 749.34L1165.8 749.34L1167.3 749.33L1168.8 749.29L1170.3 749.27L1171.8 749.25L1173.3 749.23L1174.8 749.19L1176.3 749.20L1177.8 749.15L1179.3 749.15L1180.8 749.13L1182.3 749.13L1183.8 749.12L1185.3 749.07L1186.8 749.07L1188.3 749.07L1189.8 749.04L1191.3 749.02L1192.8 749.04L1194.3 749.02L1195.8 749.01L1197.3 748.99L1198.8 749.01L1200.3 748.98L1201.8 748.99L1203.3 748.98L1204.8 748.99L1206.3 749.02L1207.8 749.02L1209.3 749.06L1210.8 749.07L1212.3 749.07L1213.8 749.10L1215.3 749.10L1216.8 749.10L1218.3 749.07L1219.8 749.06L1221.3 749.06L1222.8 749.09L1224.3 749.10L1225.8 749.10L1227.3 749.11L1228.8 749.15L1230.3 749.14L1231.8 749.15L1233.3 749.18L1234.8 749.20L1236.3 749.17L1237.8 749.14L1239.3 749.13L1240.8 749.14L1242.3 749.12L1243.8 749.15L1245.3 749.16L1246.8 749.18L1248.3 749.19L1249.8 749.21L1251.3 749.21L1252.8 749.23L1254.3 749.24L1255.8 749.25L1257.3 749.23L1258.8 749.20L1260.3 749.19L1261.8 749.18L1263.3 749.21L1264.8 749.20L1266.3 749.22L1267.8 749.24L1269.3 749.29L1270.8 749.29L1272.3 749.29L1273.8 749.31L1275.3 749.33L1276.8 749.29L1278.3 749.27L1279.8 749.27L1281.3 749.25L1282.8 749.26L1284.3 749.26L1285.8 749.31L1287.3 749.32L1288.8 749.32L1290.3 749.34L1291.8 749.32L1293.3 749.36L1294.8 749.37L1296.3 749.36L1297.8 749.35L1299.3 749.32L1300.8 749.29L1302.3 749.31L1303.8 749.31L1305.3 749.33L1306.8 749.34L1308.3 749.36L1309.8 749.35L1311.3 749.41L1312.8 749.41L1314.3 749.44L1315.8 749.44L1317.3 749.40L1318.8 749.37L1320.3 749.36L1321.8 749.35L1323.3 749.37L1324.8 749.39L1326.3 749.38L1327.8 749.42L1329.3 749.42L1330.8 749.45L1332.3 749.46L1333.8 749.47L1335.3 749.48L1336.8 749.46L1338.3 749.44L1339.8 749.41L1341.3 749.42L1342.8 749.45L1344.3 749.47L1345.8 749.47L1347.3 749.48L1348.8 749.48L1350.3 749.52L1351.8 749.52L1353.3 749.53L1354.8 749.54L1356.3 749.53L1357.8 749.51L1359.3 749.50L1360.8 749.47L1362.3 749.48L1363.8 749.52L1365.3 749.51L1366.8 749.52L1368.3 749.55L1369.8 749.56L1371.3 749.56L1372.8 749.58L1374.3 749.61L1375.8 749.59L1377.3 749.58L1378.8 749.58L1380.3 749.54L1381.8 749.54L1383.3 749.54L1384.8 749.58L1386.3 749.56L1387.8 749.59L1389.3 749.60L1390.8 749.63L1392.3 749.65L1393.8 749.67L1395.3 749.64L1396.8 749.65L1398.3 749.62L1399.8 749.60L1401.3 749.60L1402.8 749.59L1404.3 749.59L1405.8 749.63L1407.3 749.63L1408.8 749.65L1410.3 749.68L1411.8 749.69L1413.3 749.72L1414.8 749.71L1416.3 749.68L1417.8 749.68L1419.3 749.66L1420.8 749.64L1422.3 749.66L1423.6 749.66"/>
<path stroke="#f7b6d2" d="M226.8 772.70L228.3 772.71L229.8 772.70L231.3 772.70L232.8 772.70L234.3 772.70L235.8 772.72L237.3 772.73L238.8 772.71L240.3 772.71L241.8 772.73L243.3 772.73L244.8 772.73L246.3 772.72L247.8 772.73L249.3 772.75L250.8 772.72L252.3 772.74L253.8 772.72L255.3 772.73L256.8 772.73L258.3 772.75L259.8 772.74L261.3 772.76L262.8 772.76L264.3 772.76L265.8 772.73L267.3 772.76L268.8 772.77L270.3 772.77L271.8 772.76L273.3 772.77L274.8 772.77L276.3 772.77L277.8 772.80L279.3 772.78L280.8 772.79L282.3 772.80L283.8 772.80L285.3 772.84L286.8 772.85L288.3 772.86L289.8 772.85L291.3 772.87L292.8 772.89L294.3 772.86L295.8 772.89L297.3 772.88L298.8 772.88L300.3 772.91L301.8 772.89L303.3 772.87L304.8 772.89L306.3 772.89L307.8 772.88L309.3 772.90L310.8 772.89L312.3 772.90L313.8 772.91L315.3 772.88L316.8 772.89L318.3 772.88L319.8 772.89L321.3 772.88L322.8 772.89L324.3 772.90L325.8 772.91L327.3 772.92L328.8 772.89L330.3 772.90L331.8 772.92L333.3 772.89L334.8 772.91L336.3 772.92L337.8 772.94L339.3 772.93L340.8 772.92L342.3 772.92L343.8 772.93L345.3 772.95L346.8 772.93L348.3 772.93L349.8 772.95L351.3 772.94L352.8 772.94L354.3 772.93L355.8 772.95L357.3 772.95L358.8 772.97L360.3 772.97L361.8 772.96L363.3 772.97L364.8 772.96L366.3 772.98L367.8 772.97L369.3 772.98L370.8 772.96L372.3 772.98L373.8 772.96L375.3 772.96L376.8 772.98L378.3 772.98L379.8 772.99L381.3 773.02L382.8 772.99L384.3 772.99L385.8 773.00L387.3 773.01L388.8 773.00L390.3 773.01L391.8 773.02L393.3 773.02L394.8 773.00L396.3 773.02L397.8 773.02L399.3 773.01L400.8 773.03L402.3 773.02L403.8 773.04L405.3 773.04L406.8 773.04L408.3 773.03L409.8 773.04L411.3 773.02L412.8 773.03L414.3 773.05L415.8 773.03L417.3 773.07L418.8 773.04L420.3 773.07L421.8 773.05L423.3 773.08L424.8 773.07L426.3 773.05L427.8 773.09L429.3 773.09L430.8 773.08L432.3 773.08L433.8 773.08L435.3 773.07L436.8 773.10L438.3 773.08L439.8 773.09L441.3 773.09L442.8 773.09L444.3 773.09L445.8 773.12L447.3 773.10L448.8 773.12L450.3 773.11L451.8 773.11L453.3 773.11L454.8 773.11L456.3 773.12L457.8 773.12L459.3 773.12L460.8 773.11L462.3 773.12L463.8 773.16L465.3 773.13L466.8 773.13L468.3 773.15L469.8 773.16L471.3 773.13L472.8 773.15L474.3 773.14L475.8 773.13L477.3 773.17L478.8 773.16L480.3 773.16L481.8 773.16L483.3 773.17L484.8 773.16L486.3 773.17L487.8 773.16L489.3 773.16L490.8 773.20L492.3 773.18L493.8 773.19L495.3 773.19L496.8 773.18L498.3 773.19L499.8 773.20L501.3 773.19L502.8 773.20L504.3 773.20L505.8 773.22L507.3 773.22L508.8 773.22L510.3 773.21L511.8 773.20L513.3 773.23L514.8 773.23L516.3 773.22L517.8 773.23L519.3 773.24L520.8 773.24L522.3 773.25L523.8 773.23L525.3 773.26L526.8 773.23L528.3 773.26L529.8 773.26L531.3 773.26L532.8 773.28L534.3 773.28L535.8 773.25L537.3 773.24L538.8 773.28L540.3 773.26L541.8 773.27L543.3 773.29L544.8 773.26L546.3 773.26L547.8 773.29L549.3 773.29L550.8 773.29L552.3 773.30L553.8 773.29L555.3 773.28L556.8 773.30L558.3 773.29L559.8 773.29L561.3 773.32L562.8 773.32L564.3 773.32L565.8 773.31L567.3 773.32L568.8 773.32L570.3 773.32L571.8 773.34L573.3 773.33L574.8 773.34L576.3 773.35L577.8 773.37L579.3 773.33L580.8 773.36L582.3 773.35L583.8 773.36L585.3 773.34L586.8 773.36L588.3 773.38L589.8 773.37L591.3 773.37L592.8 773.37L594.3 773.39L595.8 773.38L597.3 773.36L598.8 773.38L600.3 773.37L601.8 773.35L603.3 773.39L604.8 773.42L606.3 773.40L607.8 773.39L609.3 773.40L610.8 773.43L612.3 773.42L613.8 773.42L615.3 773.42L616.8 773.43L618.3 773.44L619.8 773.44L621.3 773.44L622.8 773.42L624.3 773.45L625.8 773.43L627.3 773.46L628.8 773.43L630.3 773.45L631.8 773.46L633.3 773.44L634.8 773.48L636.3 773.48L637.8 773.46L639.3 773.48L640.8 773.48L642.3 773.44L643.8 773.48L645.3 773.48L646.8 773.48L648.3 773.47L649.8 773.49L651.3 773.49L652.8 773.51L654.3 773.50L655.8 773.50L657.3 773.52L658.8 773.50L660.3 773.50L661.8 773.49L663.3 773.53L664.8 773.53L666.3 773.53L667.8 773.53L669.3 773.52L670.8 773.53L672.3 773.52L673.8 773.53L675.3 773.53L676.8 773.55L678.3 773.55L679.8 773.54L681.3 773.54L682.8 773.54L684.3 773.57L685.8 773.56L687.3 773.55L688.8 773.55L690.3 773.54L691.8 773.56L693.3 773.58L694.8 773.56L696.3 773.57L697.8 773.57L699.3 773.58L700.8 773.56L702.3 773.58L703.8 773.57L705.3 773.60L706.8 773.58L708.3 773.60L709.8 773.61L711.3 773.59L712.8 773.59L714.3 773.60L715.8 773.60L717.3 773.59L718.8 773.61L720.3 773.64L721.8 773.61L723.3 773.61L724.8 773.61L726.3 773.62L727.8 773.61L729.3 773.61L730.8 773.64L732.3 773.62L733.8 773.65L735.3 773.66L736.8 773.64L738.3 773.65L739.8 773.67L741.3 773.64L742.8 773.64L744.3 773.63L745.8 773.66L747.3 773.68L748.8 773.67L750.3 773.65L751.8 773.65L753.3 773.66L754.8 773.67L756.3 773.67L757.8 773.68L759.3 773.68L760.8 773.68L762.3 773.68L763.8 773.68L765.3 773.68L766.8 773.69L768.3 773.71L769.8 773.69L771.3 773.69L772.8 773.66L774.3 773.69L775.8 773.66L777.3 773.67L778.8 773.70L780.3 773.70L781.8 773.69L783.3 773.67L784.8 773.69L786.3 773.68L787.8 773.70L789.3 773.72L790.8 773.70L792.3 773.69L793.8 773.68L795.3 773.70L796.8 773.70L798.3 773.68L799.8 773.70L801.3 773.69L802.8 773.72L804.3 773.73L805.8 773.73L807.3 773.72L808.8 773.73L810.3 773.73L811.8 773.73L813.3 773.74L814.8 773.73L816.3 773.73L817.8 773.77L819.3 773.76L820.8 773.77L822.3 773.78L823.8 773.75L825.3 773.77L826.8 773.79L828.3 773.79L829.8 773.77L831.3 773.75L832.8 773.73L834.3 773.71L835.8 773.69L837.3 773.67L838.8 773.65L840.3 773.62L841.8 773.60L843.3 773.58L844.8 773.56L846.3 773.54L847.8 773.52L849.3 773.54L850.8 773.59L852.3 773.54L853.8 773.53L855.3 773.49L856.8 773.50L858.3 773.48L859.8 773.51L861.3 773.53L862.8 773.52L864.3 773.54L865.8 773.54L867.3 773.54L868.8 773.56L870.3 773.58L871.8 773.60L873.3 773.62L874.8 773.63L876.3 773.65L877.8 773.65L879.3 773.66L880.8 773.69L882.3 773.70L883.8 773.70L885.3 773.72L886.8 773.73L888.3 773.74L889.8 773.76L891.3 773.76L892.8 773.79L894.3 773.79L895.8 773.81L897.3 773.81L898.8 773.82L900.3 773.84L901.8 773.85L903.3 773.87L904.8 773.88L906.3 773.89L907.8 773.91L909.3 773.93L910.8 773.95L912.3 773.95L913.8 773.96L915.3 773.95L916.8 773.96L918.3 773.94L919.8 773.93L921.3 773.94L922.8 773.95L924.3 773.93L925.8 773.93L927.3 773.93L928.8 773.92L930.3 773.93L931.8 773.91L933.3 773.91L934.8 773.92L936.3 773.90L937.8 773.91L939.3 773.89L940.8 773.89L942.3 773.88L943.8 773.91L945.3 773.89L946.8 773.90L948.3 773.90L949.8 773.90L951.3 773.89L952.8 773.92L954.3 773.91L955.8 773.91L957.3 773.93L958.8 773.94L960.3 773.97L961.8 773.99L963.3 773.99L964.8 774.00L966.3 774.02L967.8 774.05L969.3 774.03L970.8 774.07L972.3 774.07L973.8 774.10L975.3 774.10L976.8 774.11L978.3 774.12L979.8 774.13L981.3 774.17L982.8 774.18L984.3 774.18L985.8 774.19L987.3 774.20L988.8 774.22L990.3 774.24L991.8 774.25L993.3 774.25L994.8 774.24L996.3 774.25L997.8 774.26L999.3 774.29L1000.8 774.33L1002.3 774.35L1003.8 774.38L1005.3 774.42L1006.8 774.43L1008.3 774.44L1009.8 774.47L1011.3 774.51L1012.8 774.57L1014.3 774.59L1015.8 774.60L1017.3 774.61L1018.8 774.62L1020.3 774.63L1021.8 774.65L1023.3 774.66L1024.8 774.68L1026.3 774.69L1027.8 774.69L1029.3 774.71L1030.8 774.71L1032.3 774.70L1033.8 774.68L1035.3 774.65L1036.8 774.65L1038.3 774.65L1039.8 774.63L1041.3 774.62L1042.8 774.59L1044.3 774.57L1045.8 774.59L1047.3 774.60L1048.8 774.62L1050.3 774.62L1051.8 774.64L1053.3 774.65L1054.8 774.65L1056.3 774.64L1057.8 774.63L1059.3 774.58L1060.8 774.58L1062.3 774.57L1063.8 774.55L1065.3 774.54L1066.8 774.53L1068.3 774.52L1069.8 774.51L1071.3 774.50L1072.8 774.48L1074.3 774.44L1075.8 774.43L1077.3 774.41L1078.8 774.38L1080.3 774.41L1081.8 774.44L1083.3 774.50L1084.8 774.53L1086.3 774.56L1087.8 774.57L1089.3 774.54L1090.8 774.52L1092.3 774.51L1093.8 774.51L1095.3 774.48L1096.8 774.48L1098.3 774.50L1099.8 774.51L1101.3 774.51L1102.8 774.52L1104.3 774.52L1105.8 774.54L1107.3 774.55L1108.8 774.56L1110.3 774.57L1111.8 774.60L1113.3 774.60L1114.8 774.61L1116.3 774.62L1117.8 774.63L1119.3 774.64L1120.8 774.64L1122.3 774.64L1123.8 774.67L1125.3 774.71L1126.8 774.76L1128.3 774.83L1129.8 774.88L1131.3 774.90L1132.8 774.91L1134.3 774.93L1135.8 774.94L1137.3 774.94L1138.8 774.93L1140.3 774.95L1141.8 774.96L1143.3 774.96L1144.8 774.96L1146.3 775.00L1147.8 775.04L1149.3 775.00L1150.8 775.01L1152.3 775.04L1153.8 775.06L1155.3 775.09L1156.8 775.10L1158.3 775.11L1159.8 775.12L1161.3 775.14L1162.8 775.14L1164.3 775.14L1165.8 775.13L1167.3 775.12L1168.8 775.09L1170.3 775.07L1171.8 775.04L1173.3 775.03L1174.8 774.99L1176.3 774.99L1177.8 774.95L1179.3 774.95L1180.8 774.93L1182.3 774.92L1183.8 774.91L1185.3 774.88L1186.8 774.87L1188.3 774.87L1189.8 774.85L1191.3 774.83L1192.8 774.84L1194.3 774.82L1195.8 774.81L1197.3 774.79L1198.8 774.80L1200.3 774.79L1201.8 774.79L1203.3 774.78L1204.8 774.79L1206.3 774.81L1207.8 774.81L1209.3 774.83L1210.8 774.83L1212.3 774.84L1213.8 774.85L1215.3 774.85L1216.8 774.85L1218.3 774.83L1219.8 774.82L1221.3 774.83L1222.8 774.84L1224.3 774.85L1225.8 774.84L1227.3 774.85L1228.8 774.87L1230.3 774.87L1231.8 774.87L1233.3 774.89L1234.8 774.90L1236.3 774.88L1237.8 774.87L1239.3 774.86L1240.8 774.86L1242.3 774.85L1243.8 774.86L1245.3 774.87L1246.8 774.88L1248.3 774.88L1249.8 774.89L1251.3 774.89L1252.8 774.90L1254.3 774.90L1255.8 774.91L1257.3 774.89L1258.8 774.88L1260.3 774.87L1261.8 774.86L1263.3 774.88L1264.8 774.87L1266.3 774.88L1267.8 774.89L1269.3 774.92L1270.8 774.91L1272.3 774.91L1273.8 774.93L1275.3 774.94L1276.8 774.91L1278.3 774.90L1279.8 774.90L1281.3 774.88L1282.8 774.89L1284.3 774.89L1285.8 774.91L1287.3 774.92L1288.8 774.92L1290.3 774.92L1291.8 774.91L1293.3 774.94L1294.8 774.94L1296.3 774.93L1297.8 774.92L1299.3 774.90L1300.8 774.88L1302.3 774.90L1303.8 774.90L1305.3 774.91L1306.8 774.91L1308.3 774.92L1309.8 774.91L1311.3 774.95L1312.8 774.95L1314.3 774.96L1315.8 774.96L1317.3 774.93L1318.8 774.91L1320.3 774.91L1321.8 774.90L1323.3 774.91L1324.8 774.92L1326.3 774.91L1327.8 774.94L1329.3 774.93L1330.8 774.95L1332.3 774.96L1333.8 774.96L1335.3 774.96L1336.8 774.95L1338.3 774.94L1339.8 774.92L1341.3 774.92L1342.8 774.94L1344.3 774.94L1345.8 774.95L1347.3 774.95L1348.8 774.95L1350.3 774.97L1351.8 774.97L1353.3 774.97L1354.8 774.98L1356.3 774.97L1357.8 774.95L1359.3 774.95L1360.8 774.93L1362.3 774.93L1363.8 774.96L1365.3 774.95L1366.8 774.95L1368.3 774.97L1369.8 774.98L1371.3 774.97L1372.8 774.98L1374.3 775.00L1375.8 774.99L1377.3 774.98L1378.8 774.98L1380.3 774.95L1381.8 774.95L1383.3 774.95L1384.8 774.97L1386.3 774.95L1387.8 774.97L1389.3 774.98L1390.8 774.99L1392.3 775.00L1393.8 775.01L1395.3 774.99L1396.8 775.00L1398.3 774.98L1399.8 774.97L1401.3 774.96L1402.8 774.96L1404.3 774.96L1405.8 774.98L1407.3 774.98L1408.8 774.99L1410.3 775.00L1411.8 775.01L1413.3 775.03L1414.8 775.02L1416.3 775.00L1417.8 774.99L1419.3 774.98L1420.8 774.97L1422.3 774.98L1423.6 774.98"/>
<path stroke="#7f7f7f" d="M226.8 771.90L228.3 771.91L229.8 771.90L231.3 771.90L232.8 771.90L234.3 771.90L235.8 771.92L237.3 771.93L238.8 771.91L240.3 771.91L241.8 771.93L243.3 771.93L244.8 771.93L246.3 771.92L247.8 771.93L249.3 771.95L250.8 771.92L252.3 771.94L253.8 771.92L255.3 771.93L256.8 771.93L258.3 771.95L259.8 771.94L261.3 771.96L262.8 771.96L264.3 771.96L265.8 771.93L267.3 771.96L268.8 771.97L270.3 771.97L271.8 771.96L273.3 771.97L274.8 771.97L276.3 771.97L277.8 772.00L279.3 771.98L280.8 771.99L282.3 772.00L283.8 772.00L285.3 772.04L286.8 772.05L288.3 772.06L289.8 772.05L291.3 772.07L292.8 772.09L294.3 772.06L295.8 772.09L297.3 772.08L298.8 772.08L300.3 772.11L301.8 772.09L303.3 772.07L304.8 772.09L306.3 772.09L307.8 772.08L309.3 772.10L310.8 772.09L312.3 772.10L313.8 772.11L315.3 772.08L316.8 772.09L318.3 772.08L319.8 772.09L321.3 772.08L322.8 772.09L324.3 772.10L325.8 772.11L327.3 772.12L328.8 772.09L330.3 772.10L331.8 772.12L333.3 772.09L334.8 772.11L336.3 772.12L337.8 772.14L339.3 772.13L340.8 772.12L342.3 772.12L343.8 772.13L345.3 772.15L346.8 772.13L348.3 772.13L349.8 772.15L351.3 772.14L352.8 772.14L354.3 772.13L355.8 772.15L357.3 772.15L358.8 772.17L360.3 772.17L361.8 772.16L363.3 772.17L364.8 772.16L366.3 772.18L367.8 772.17L369.3 772.18L370.8 772.16L372.3 772.18L373.8 772.16L375.3 772.16L376.8 772.18L378.3 772.18L379.8 772.19L381.3 772.22L382.8 772.19L384.3 772.19L385.8 772.20L387.3 772.21L388.8 772.20L390.3 772.21L391.8 772.22L393.3 772.22L394.8 772.20L396.3 772.22L397.8 772.22L399.3 772.21L400.8 772.23L402.3 772.22L403.8 772.24L405.3 772.24L406.8 772.24L408.3 772.23L409.8 772.24L411.3 772.22L412.8 772.23L414.3 772.25L415.8 772.23L417.3 772.27L418.8 772.24L420.3 772.27L421.8 772.25L423.3 772.28L424.8 772.27L426.3 772.25L427.8 772.29L429.3 772.29L430.8 772.28L432.3 772.28L433.8 772.28L435.3 772.27L436.8 772.30L438.3 772.28L439.8 772.29L441.3 772.29L442.8 772.29L444.3 772.29L445.8 772.32L447.3 772.30L448.8 772.32L450.3 772.31L451.8 772.31L453.3 772.31L454.8 772.31L456.3 772.32L457.8 772.32L459.3 772.32L460.8 772.31L462.3 772.32L463.8 772.36L465.3 772.33L466.8 772.33L468.3 772.35L469.8 772.36L471.3 772.33L472.8 772.35L474.3 772.34L475.8 772.33L477.3 772.37L478.8 772.36L480.3 772.36L481.8 772.36L483.3 772.37L484.8 772.36L486.3 772.37L487.8 772.36L489.3 772.36L490.8 772.40L492.3 772.38L493.8 772.39L495.3 772.39L496.8 772.38L498.3 772.39L499.8 772.40L501.3 772.39L502.8 772.40L504.3 772.40L505.8 772.42L507.3 772.42L508.8 772.42L510.3 772.41L511.8 772.40L513.3 772.43L514.8 772.43L516.3 772.42L517.8 772.43L519.3 772.44L520.8 772.44L522.3 772.45L523.8 772.43L525.3 772.46L526.8 772.43L528.3 772.46L529.8 772.46L531.3 772.46L532.8 772.48L534.3 772.48L535.8 772.45L537.3 772.44L538.8 772.48L540.3 772.46L541.8 772.47L543.3 772.49L544.8 772.46L546.3 772.46L547.8 772.49L549.3 772.49L550.8 772.49L552.3 772.50L553.8 772.49L555.3 772.48L556.8 772.50L558.3 772.49L559.8 772.49L561.3 772.52L562.8 772.52L564.3 772.52L565.8 772.51L567.3 772.52L568.8 772.52L570.3 772.52L571.8 772.54L573.3 772.53L574.8 772.54L576.3 772.55L577.8 772.57L579.3 772.53L580.8 772.56L582.3 772.55L583.8 772.56L585.3 772.54L586.8 772.56L588.3 772.58L589.8 772.57L591.3 772.57L592.8 772.57L594.3 772.59L595.8 772.58L597.3 772.56L598.8 772.58L600.3 772.57L601.8 772.55L603.3 772.59L604.8 772.62L606.3 772.60L607.8 772.59L609.3 772.60L610.8 772.63L612.3 772.62L613.8 772.62L615.3 772.62L616.8 772.63L618.3 772.64L619.8 772.64L621.3 772.64L622.8 772.62L624.3 772.65L625.8 772.63L627.3 772.66L628.8 772.63L630.3 772.65L631.8 772.66L633.3 772.64L634.8 772.68L636.3 772.68L637.8 772.66L639.3 772.68L640.8 772.68L642.3 772.64L643.8 772.68L645.3 772.68L646.8 772.68L648.3 772.67L649.8 772.69L651.3 772.69L652.8 772.71L654.3 772.70L655.8 772.70L657.3 772.72L658.8 772.70L660.3 772.70L661.8 772.69L663.3 772.73L664.8 772.73L666.3 772.73L667.8 772.73L669.3 772.72L670.8 772.73L672.3 772.72L673.8 772.73L675.3 772.73L676.8 772.75L678.3 772.75L679.8 772.74L681.3 772.74L682.8 772.74L684.3 772.77L685.8 772.76L687.3 772.75L688.8 772.75L690.3 772.74L691.8 772.76L693.3 772.78L694.8 772.76L696.3 772.77L697.8 772.77L699.3 772.78L700.8 772.76L702.3 772.78L703.8 772.77L705.3 772.80L706.8 772.78L708.3 772.80L709.8 772.81L711.3 772.79L712.8 772.79L714.3 772.80L715.8 772.80L717.3 772.79L718.8 772.81L720.3 772.84L721.8 772.81L723.3 772.81L724.8 772.81L726.3 772.82L727.8 772.81L729.3 772.81L730.8 772.84L732.3 772.82L733.8 772.85L735.3 772.86L736.8 772.84L738.3 772.85L739.8 772.87L741.3 772.84L742.8 772.84L744.3 772.83L745.8 772.86L747.3 772.88L748.8 772.87L750.3 772.85L751.8 772.85L753.3 772.86L754.8 772.87L756.3 772.87L757.8 772.88L759.3 772.88L760.8 772.88L762.3 772.88L763.8 772.88L765.3 772.88L766.8 772.89L768.3 772.91L769.8 772.89L771.3 772.89L772.8 772.86L774.3 772.89L775.8 772.86L777.3 772.87L778.8 772.90L780.3 772.90L781.8 772.89L783.3 772.87L784.8 772.89L786.3 772.88L787.8 772.90L789.3 772.92L790.8 772.90L792.3 772.89L793.8 772.88L795.3 772.90L796.8 772.90L798.3 772.88L799.8 772.90L801.3 772.89L802.8 772.92L804.3 772.93L805.8 772.93L807.3 772.92L808.8 772.93L810.3 772.93L811.8 772.93L813.3 772.94L814.8 772.93L816.3 772.93L817.8 772.97L819.3 772.96L820.8 772.97L822.3 772.98L823.8 772.95L825.3 772.97L826.8 772.99L828.3 772.99L829.8 772.97L831.3 772.95L832.8 772.93L834.3 772.91L835.8 772.89L837.3 772.87L838.8 772.85L840.3 772.82L841.8 772.80L843.3 772.78L844.8 772.76L846.3 772.74L847.8 772.72L849.3 772.74L850.8 772.79L852.3 772.74L853.8 772.73L855.3 772.69L856.8 772.70L858.3 772.68L859.8 772.71L861.3 772.73L862.8 772.72L864.3 772.74L865.8 772.74L867.3 772.74L868.8 772.76L870.3 772.78L871.8 772.80L873.3 772.82L874.8 772.83L876.3 772.85L877.8 772.85L879.3 772.86L880.8 772.89L882.3 772.90L883.8 772.90L885.3 772.92L886.8 772.93L888.3 772.94L889.8 772.96L891.3 772.96L892.8 772.99L894.3 772.99L895.8 773.01L897.3 773.01L898.8 773.02L900.3 773.04L901.8 773.05L903.3 773.07L904.8 773.08L906.3 773.09L907.8 773.11L909.3 773.13L910.8 773.15L912.3 773.15L913.8 773.16L915.3 773.15L916.8 773.16L918.3 773.14L919.8 773.13L921.3 773.14L922.8 773.15L924.3 773.13L925.8 773.13L927.3 773.13L928.8 773.12L930.3 773.13L931.8 773.11L933.3 773.11L934.8 773.12L936.3 773.10L937.8 773.11L939.3 773.09L940.8 773.09L942.3 773.08L943.8 773.11L945.3 773.09L946.8 773.10L948.3 773.10L949.8 773.10L951.3 773.09L952.8 773.12L954.3 773.11L955.8 773.11L957.3 773.13L958.8 773.14L960.3 773.17L961.8 773.19L963.3 773.19L964.8 773.20L966.3 773.22L967.8 773.25L969.3 773.23L970.8 773.27L972.3 773.27L973.8 773.30L975.3 773.30L976.8 773.31L978.3 773.32L979.8 773.33L981.3 773.37L982.8 773.38L984.3 773.38L985.8 773.39L987.3 773.40L988.8 773.42L990.3 773.44L991.8 773.45L993.3 773.45L994.8 773.44L996.3 773.45L997.8 773.46L999.3 773.49L1000.8 773.53L1002.3 773.55L1003.8 773.58L1005.3 773.62L1006.8 773.63L1008.3 773.64L1009.8 773.67L1011.3 773.71L1012.8 773.77L1014.3 773.79L1015.8 773.80L1017.3 773.81L1018.8 773.82L1020.3 773.83L1021.8 773.85L1023.3 773.86L1024.8 773.88L1026.3 773.89L1027.8 773.89L1029.3 773.91L1030.8 773.91L1032.3 773.90L1033.8 773.88L1035.3 773.85L1036.8 773.85L1038.3 773.85L1039.8 773.83L1041.3 773.82L1042.8 773.79L1044.3 773.77L1045.8 773.79L1047.3 773.80L1048.8 773.82L1050.3 773.82L1051.8 773.84L1053.3 773.85L1054.8 773.85L1056.3 773.84L1057.8 773.83L1059.3 773.78L1060.8 773.78L1062.3 773.77L1063.8 773.75L1065.3 773.74L1066.8 773.73L1068.3 773.72L1069.8 773.71L1071.3 773.70L1072.8 773.68L1074.3 773.64L1075.8 773.63L1077.3 773.61L1078.8 773.58L1080.3 773.61L1081.8 773.64L1083.3 773.70L1084.8 773.73L1086.3 773.76L1087.8 773.77L1089.3 773.74L1090.8 773.72L1092.3 773.71L1093.8 773.71L1095.3 773.68L1096.8 773.68L1098.3 773.70L1099.8 773.71L1101.3 773.71L1102.8 773.72L1104.3 773.72L1105.8 773.74L1107.3 773.75L1108.8 773.76L1110.3 773.77L1111.8 773.80L1113.3 773.80L1114.8 773.81L1116.3 773.82L1117.8 773.83L1119.3 773.84L1120.8 773.84L1122.3 773.84L1123.8 773.87L1125.3 773.91L1126.8 773.96L1128.3 774.03L1129.8 774.08L1131.3 774.10L1132.8 774.11L1134.3 774.13L1135.8 774.14L1137.3 774.14L1138.8 774.13L1140.3 774.15L1141.8 774.16L1143.3 774.16L1144.8 774.16L1146.3 774.20L1147.8 774.24L1149.3 774.20L1150.8 774.21L1152.3 774.24L1153.8 774.26L1155.3 774.29L1156.8 774.30L1158.3 774.31L1159.8 774.32L1161.3 774.34L1162.8 774.34L1164.3 774.34L1165.8 774.33L1167.3 774.32L1168.8 774.29L1170.3 774.27L1171.8 774.24L1173.3 774.23L1174.8 774.19L1176.3 774.19L1177.8 774.15L1179.3 774.15L1180.8 774.13L1182.3 774.12L1183.8 774.11L1185.3 774.08L1186.8 774.07L1188.3 774.07L1189.8 774.05L1191.3 774.03L1192.8 774.04L1194.3 774.02L1195.8 774.01L1197.3 773.99L1198.8 774.00L1200.3 773.99L1201.8 774.00L1203.3 773.99L1204.8 774.00L1206.3 774.02L1207.8 774.02L1209.3 774.05L1210.8 774.05L1212.3 774.06L1213.8 774.08L1215.3 774.08L1216.8 774.08L1218.3 774.06L1219.8 774.06L1221.3 774.07L1222.8 774.08L1224.3 774.09L1225.8 774.09L1227.3 774.10L1228.8 774.12L1230.3 774.12L1231.8 774.13L1233.3 774.15L1234.8 774.16L1236.3 774.15L1237.8 774.13L1239.3 774.13L1240.8 774.13L1242.3 774.12L1243.8 774.14L1245.3 774.15L1246.8 774.16L1248.3 774.17L1249.8 774.18L1251.3 774.18L1252.8 774.20L1254.3 774.20L1255.8 774.21L1257.3 774.20L1258.8 774.18L1260.3 774.18L1261.8 774.17L1263.3 774.19L1264.8 774.18L1266.3 774.20L1267.8 774.21L1269.3 774.24L1270.8 774.24L1272.3 774.24L1273.8 774.26L1275.3 774.27L1276.8 774.25L1278.3 774.24L1279.8 774.24L1281.3 774.23L1282.8 774.24L1284.3 774.24L1285.8 774.26L1287.3 774.27L1288.8 774.27L1290.3 774.29L1291.8 774.28L1293.3 774.31L1294.8 774.31L1296.3 774.30L1297.8 774.30L1299.3 774.28L1300.8 774.27L1302.3 774.28L1303.8 774.28L1305.3 774.29L1306.8 774.30L1308.3 774.31L1309.8 774.31L1311.3 774.35L1312.8 774.35L1314.3 774.36L1315.8 774.37L1317.3 774.34L1318.8 774.32L1320.3 774.32L1321.8 774.31L1323.3 774.33L1324.8 774.34L1326.3 774.34L1327.8 774.37L1329.3 774.36L1330.8 774.38L1332.3 774.39L1333.8 774.40L1335.3 774.40L1336.8 774.39L1338.3 774.38L1339.8 774.37L1341.3 774.37L1342.8 774.39L1344.3 774.40L1345.8 774.41L1347.3 774.41L1348.8 774.41L1350.3 774.44L1351.8 774.44L1353.3 774.45L1354.8 774.45L1356.3 774.45L1357.8 774.44L1359.3 774.43L1360.8 774.42L1362.3 774.42L1363.8 774.45L1365.3 774.44L1366.8 774.45L1368.3 774.47L1369.8 774.48L1371.3 774.48L1372.8 774.49L1374.3 774.51L1375.8 774.50L1377.3 774.49L1378.8 774.50L1380.3 774.47L1381.8 774.47L1383.3 774.48L1384.8 774.50L1386.3 774.49L1387.8 774.51L1389.3 774.52L1390.8 774.54L1392.3 774.54L1393.8 774.56L1395.3 774.54L1396.8 774.55L1398.3 774.53L1399.8 774.52L1401.3 774.52L1402.8 774.52L1404.3 774.52L1405.8 774.54L1407.3 774.55L1408.8 774.56L1410.3 774.58L1411.8 774.59L1413.3 774.61L1414.8 774.60L1416.3 774.59L1417.8 774.58L1419.3 774.57L1420.8 774.56L1422.3 774.58L1423.6 774.58"/>
<path stroke="#c7c7c7" d="M226.8 42.10H1423.6"/>
<path stroke="#bcbd22" d="M226.8 780.90L228.3 780.91L229.8 780.90L231.3 780.90L232.8 780.91L234.3 780.90L235.8 780.92L237.3 780.94L238.8 780.92L240.3 780.92L241.8 780.94L243.3 780.94L244.8 780.94L246.3 780.93L247.8 780.94L249.3 780.95L250.8 780.93L252.3 780.95L253.8 780.93L255.3 780.94L256.8 780.94L258.3 780.96L259.8 780.95L261.3 780.97L262.8 780.97L264.3 780.97L265.8 780.95L267.3 780.98L268.8 780.98L270.3 780.99L271.8 780.97L273.3 780.99L274.8 780.98L276.3 780.99L277.8 781.02L279.3 781.00L280.8 781.01L282.3 781.02L283.8 781.02L285.3 781.06L286.8 781.08L288.3 781.08L289.8 781.07L291.3 781.09L292.8 781.11L294.3 781.08L295.8 781.12L297.3 781.11L298.8 781.10L300.3 781.13L301.8 781.12L303.3 781.10L304.8 781.11L306.3 781.12L307.8 781.11L309.3 781.12L310.8 781.12L312.3 781.13L313.8 781.14L315.3 781.11L316.8 781.12L318.3 781.12L319.8 781.12L321.3 781.11L322.8 781.12L324.3 781.13L325.8 781.15L327.3 781.15L328.8 781.12L330.3 781.13L331.8 781.16L333.3 781.13L334.8 781.15L336.3 781.16L337.8 781.18L339.3 781.17L340.8 781.16L342.3 781.16L343.8 781.17L345.3 781.19L346.8 781.17L348.3 781.18L349.8 781.19L351.3 781.19L352.8 781.19L354.3 781.18L355.8 781.20L357.3 781.19L358.8 781.22L360.3 781.21L361.8 781.21L363.3 781.22L364.8 781.21L366.3 781.23L367.8 781.22L369.3 781.23L370.8 781.21L372.3 781.23L373.8 781.21L375.3 781.21L376.8 781.24L378.3 781.23L379.8 781.25L381.3 781.28L382.8 781.24L384.3 781.25L385.8 781.26L387.3 781.27L388.8 781.26L390.3 781.26L391.8 781.28L393.3 781.28L394.8 781.26L396.3 781.28L397.8 781.28L399.3 781.27L400.8 781.29L402.3 781.28L403.8 781.31L405.3 781.30L406.8 781.30L408.3 781.30L409.8 781.31L411.3 781.28L412.8 781.30L414.3 781.32L415.8 781.29L417.3 781.33L418.8 781.30L420.3 781.34L421.8 781.32L423.3 781.34L424.8 781.34L426.3 781.32L427.8 781.36L429.3 781.36L430.8 781.35L432.3 781.35L433.8 781.35L435.3 781.35L436.8 781.38L438.3 781.36L439.8 781.37L441.3 781.36L442.8 781.37L444.3 781.36L445.8 781.40L447.3 781.38L448.8 781.40L450.3 781.39L451.8 781.38L453.3 781.39L454.8 781.39L456.3 781.40L457.8 781.40L459.3 781.40L460.8 781.39L462.3 781.40L463.8 781.44L465.3 781.41L466.8 781.41L468.3 781.43L469.8 781.45L471.3 781.41L472.8 781.43L474.3 781.43L475.8 781.42L477.3 781.45L478.8 781.45L480.3 781.45L481.8 781.44L483.3 781.46L484.8 781.45L486.3 781.46L487.8 781.45L489.3 781.45L490.8 781.49L492.3 781.47L493.8 781.48L495.3 781.48L496.8 781.48L498.3 781.48L499.8 781.50L501.3 781.49L502.8 781.49L504.3 781.50L505.8 781.52L507.3 781.51L508.8 781.51L510.3 781.50L511.8 781.50L513.3 781.53L514.8 781.53L516.3 781.52L517.8 781.53L519.3 781.54L520.8 781.54L522.3 781.55L523.8 781.53L525.3 781.56L526.8 781.53L528.3 781.56L529.8 781.56L531.3 781.57L532.8 781.59L534.3 781.58L535.8 781.55L537.3 781.55L538.8 781.59L540.3 781.57L541.8 781.58L543.3 781.60L544.8 781.57L546.3 781.57L547.8 781.60L549.3 781.60L550.8 781.60L552.3 781.61L553.8 781.60L555.3 781.60L556.8 781.62L558.3 781.61L559.8 781.61L561.3 781.64L562.8 781.63L564.3 781.64L565.8 781.63L567.3 781.64L568.8 781.63L570.3 781.64L571.8 781.66L573.3 781.65L574.8 781.67L576.3 781.67L577.8 781.69L579.3 781.65L580.8 781.69L582.3 781.68L583.8 781.68L585.3 781.67L586.8 781.68L588.3 781.70L589.8 781.70L591.3 781.70L592.8 781.70L594.3 781.72L595.8 781.71L597.3 781.69L598.8 781.71L600.3 781.70L601.8 781.68L603.3 781.72L604.8 781.75L606.3 781.74L607.8 781.73L609.3 781.73L610.8 781.76L612.3 781.75L613.8 781.75L615.3 781.76L616.8 781.76L618.3 781.78L619.8 781.78L621.3 781.77L622.8 781.76L624.3 781.79L625.8 781.77L627.3 781.80L628.8 781.77L630.3 781.79L631.8 781.80L633.3 781.78L634.8 781.83L636.3 781.83L637.8 781.81L639.3 781.82L640.8 781.82L642.3 781.79L643.8 781.83L645.3 781.83L646.8 781.83L648.3 781.82L649.8 781.83L651.3 781.84L652.8 781.86L654.3 781.85L655.8 781.85L657.3 781.87L658.8 781.85L660.3 781.85L661.8 781.84L663.3 781.88L664.8 781.88L666.3 781.88L667.8 781.88L669.3 781.88L670.8 781.88L672.3 781.88L673.8 781.88L675.3 781.89L676.8 781.91L678.3 781.90L679.8 781.90L681.3 781.89L682.8 781.90L684.3 781.93L685.8 781.92L687.3 781.92L688.8 781.91L690.3 781.91L691.8 781.92L693.3 781.94L694.8 781.93L696.3 781.93L697.8 781.93L699.3 781.94L700.8 781.92L702.3 781.94L703.8 781.94L705.3 781.96L706.8 781.95L708.3 781.97L709.8 781.98L711.3 781.96L712.8 781.96L714.3 781.97L715.8 781.97L717.3 781.96L718.8 781.99L720.3 782.01L721.8 781.98L723.3 781.99L724.8 781.98L726.3 782.00L727.8 781.98L729.3 781.99L730.8 782.02L732.3 782.00L733.8 782.02L735.3 782.03L736.8 782.02L738.3 782.03L739.8 782.05L741.3 782.02L742.8 782.02L744.3 782.02L745.8 782.04L747.3 782.06L748.8 782.05L750.3 782.03L751.8 782.04L753.3 782.04L754.8 782.06L756.3 782.05L757.8 782.06L759.3 782.07L760.8 782.06L762.3 782.07L763.8 782.07L765.3 782.07L766.8 782.08L768.3 782.10L769.8 782.08L771.3 782.08L772.8 782.06L774.3 782.08L775.8 782.05L777.3 782.06L778.8 782.09L780.3 782.09L781.8 782.08L783.3 782.06L784.8 782.08L786.3 782.08L787.8 782.10L789.3 782.12L790.8 782.09L792.3 782.08L793.8 782.08L795.3 782.10L796.8 782.09L798.3 782.08L799.8 782.10L801.3 782.09L802.8 782.13L804.3 782.13L805.8 782.14L807.3 782.13L808.8 782.15L810.3 782.15L811.8 782.15L813.3 782.16L814.8 782.15L816.3 782.16L817.8 782.19L819.3 782.19L820.8 782.20L822.3 782.22L823.8 782.19L825.3 782.21L826.8 782.23L828.3 782.24L829.8 782.22L831.3 782.20L832.8 782.18L834.3 782.16L835.8 782.14L837.3 782.12L838.8 782.10L840.3 782.08L841.8 782.07L843.3 782.05L844.8 782.03L846.3 782.01L847.8 781.99L849.3 782.01L850.8 782.06L852.3 782.02L853.8 782.01L855.3 781.97L856.8 781.98L858.3 781.97L859.8 782.00L861.3 782.02L862.8 782.01L864.3 782.04L865.8 782.04L867.3 782.04L868.8 782.06L870.3 782.08L871.8 782.11L873.3 782.13L874.8 782.14L876.3 782.16L877.8 782.17L879.3 782.18L880.8 782.21L882.3 782.23L883.8 782.22L885.3 782.25L886.8 782.26L888.3 782.27L889.8 782.30L891.3 782.30L892.8 782.33L894.3 782.33L895.8 782.35L897.3 782.36L898.8 782.37L900.3 782.39L901.8 782.41L903.3 782.43L904.8 782.44L906.3 782.45L907.8 782.47L909.3 782.49L910.8 782.51L912.3 782.52L913.8 782.53L915.3 782.52L916.8 782.54L918.3 782.52L919.8 782.51L921.3 782.53L922.8 782.53L924.3 782.51L925.8 782.52L927.3 782.52L928.8 782.51L930.3 782.52L931.8 782.51L933.3 782.51L934.8 782.52L936.3 782.51L937.8 782.51L939.3 782.50L940.8 782.50L942.3 782.50L943.8 782.53L945.3 782.51L946.8 782.52L948.3 782.52L949.8 782.52L951.3 782.52L952.8 782.55L954.3 782.54L955.8 782.55L957.3 782.57L958.8 782.58L960.3 782.61L961.8 782.63L963.3 782.64L964.8 782.65L966.3 782.67L967.8 782.70L969.3 782.69L970.8 782.73L972.3 782.73L973.8 782.76L975.3 782.76L976.8 782.78L978.3 782.79L979.8 782.80L981.3 782.84L982.8 782.85L984.3 782.86L985.8 782.87L987.3 782.88L988.8 782.91L990.3 782.93L991.8 782.94L993.3 782.94L994.8 782.94L996.3 782.95L997.8 782.95L999.3 782.99L1000.8 783.03L1002.3 783.05L1003.8 783.08L1005.3 783.11L1006.8 783.12L1008.3 783.13L1009.8 783.16L1011.3 783.20L1012.8 783.25L1014.3 783.27L1015.8 783.29L1017.3 783.29L1018.8 783.30L1020.3 783.31L1021.8 783.33L1023.3 783.34L1024.8 783.35L1026.3 783.36L1027.8 783.36L1029.3 783.39L1030.8 783.38L1032.3 783.37L1033.8 783.35L1035.3 783.31L1036.8 783.32L1038.3 783.31L1039.8 783.29L1041.3 783.28L1042.8 783.25L1044.3 783.23L1045.8 783.25L1047.3 783.26L1048.8 783.27L1050.3 783.27L1051.8 783.29L1053.3 783.30L1054.8 783.29L1056.3 783.28L1057.8 783.27L1059.3 783.22L1060.8 783.22L1062.3 783.20L1063.8 783.19L1065.3 783.18L1066.8 783.16L1068.3 783.15L1069.8 783.14L1071.3 783.13L1072.8 783.10L1074.3 783.06L1075.8 783.05L1077.3 783.03L1078.8 783.00L1080.3 783.03L1081.8 783.06L1083.3 783.12L1084.8 783.15L1086.3 783.17L1087.8 783.18L1089.3 783.15L1090.8 783.13L1092.3 783.12L1093.8 783.12L1095.3 783.09L1096.8 783.08L1098.3 783.10L1099.8 783.11L1101.3 783.11L1102.8 783.12L1104.3 783.12L1105.8 783.13L1107.3 783.15L1108.8 783.15L1110.3 783.16L1111.8 783.18L1113.3 783.19L1114.8 783.20L1116.3 783.21L1117.8 783.21L1119.3 783.22L1120.8 783.22L1122.3 783.21L1123.8 783.24L1125.3 783.29L1126.8 783.33L1128.3 783.40L1129.8 783.45L1131.3 783.47L1132.8 783.48L1134.3 783.50L1135.8 783.50L1137.3 783.50L1138.8 783.49L1140.3 783.51L1141.8 783.52L1143.3 783.52L1144.8 783.51L1146.3 783.56L1147.8 783.59L1149.3 783.55L1150.8 783.56L1152.3 783.58L1153.8 783.61L1155.3 783.64L1156.8 783.65L1158.3 783.65L1159.8 783.66L1161.3 783.68L1162.8 783.68L1164.3 783.68L1165.8 783.67L1167.3 783.65L1168.8 783.62L1170.3 783.60L1171.8 783.57L1173.3 783.55L1174.8 783.52L1176.3 783.51L1177.8 783.48L1179.3 783.47L1180.8 783.45L1182.3 783.44L1183.8 783.43L1185.3 783.39L1186.8 783.38L1188.3 783.38L1189.8 783.36L1191.3 783.34L1192.8 783.34L1194.3 783.33L1195.8 783.31L1197.3 783.29L1198.8 783.30L1200.3 783.29L1201.8 783.30L1203.3 783.29L1204.8 783.30L1206.3 783.32L1207.8 783.32L1209.3 783.34L1210.8 783.35L1212.3 783.35L1213.8 783.37L1215.3 783.37L1216.8 783.37L1218.3 783.36L1219.8 783.35L1221.3 783.36L1222.8 783.37L1224.3 783.38L1225.8 783.38L1227.3 783.39L1228.8 783.41L1230.3 783.41L1231.8 783.42L1233.3 783.43L1234.8 783.45L1236.3 783.43L1237.8 783.42L1239.3 783.41L1240.8 783.42L1242.3 783.41L1243.8 783.42L1245.3 783.43L1246.8 783.44L1248.3 783.45L1249.8 783.46L1251.3 783.46L1252.8 783.47L1254.3 783.48L1255.8 783.49L1257.3 783.47L1258.8 783.46L1260.3 783.45L1261.8 783.45L1263.3 783.46L1264.8 783.46L1266.3 783.47L1267.8 783.48L1269.3 783.51L1270.8 783.51L1272.3 783.51L1273.8 783.53L1275.3 783.54L1276.8 783.51L1278.3 783.50L1279.8 783.51L1281.3 783.49L1282.8 783.50L1284.3 783.50L1285.8 783.53L1287.3 783.53L1288.8 783.54L1290.3 783.55L1291.8 783.54L1293.3 783.56L1294.8 783.56L1296.3 783.56L1297.8 783.55L1299.3 783.54L1300.8 783.52L1302.3 783.53L1303.8 783.54L1305.3 783.55L1306.8 783.56L1308.3 783.57L1309.8 783.56L1311.3 783.60L1312.8 783.60L1314.3 783.61L1315.8 783.61L1317.3 783.59L1318.8 783.57L1320.3 783.57L1321.8 783.56L1323.3 783.57L1324.8 783.59L1326.3 783.58L1327.8 783.61L1329.3 783.60L1330.8 783.63L1332.3 783.63L1333.8 783.64L1335.3 783.64L1336.8 783.63L1338.3 783.62L1339.8 783.61L1341.3 783.61L1342.8 783.63L1344.3 783.64L1345.8 783.64L1347.3 783.65L1348.8 783.65L1350.3 783.67L1351.8 783.67L1353.3 783.68L1354.8 783.68L1356.3 783.68L1357.8 783.67L1359.3 783.66L1360.8 783.65L1362.3 783.65L1363.8 783.68L1365.3 783.67L1366.8 783.68L1368.3 783.69L1369.8 783.70L1371.3 783.70L1372.8 783.72L1374.3 783.73L1375.8 783.72L1377.3 783.71L1378.8 783.72L1380.3 783.69L1381.8 783.69L1383.3 783.70L1384.8 783.72L1386.3 783.70L1387.8 783.72L1389.3 783.73L1390.8 783.75L1392.3 783.76L1393.8 783.77L1395.3 783.75L1396.8 783.76L1398.3 783.75L1399.8 783.73L1401.3 783.73L1402.8 783.73L1404.3 783.73L1405.8 783.75L1407.3 783.75L1408.8 783.77L1410.3 783.78L1411.8 783.79L1413.3 783.81L1414.8 783.81L1416.3 783.79L1417.8 783.79L1419.3 783.78L1420.8 783.77L1422.3 783.78L1423.6 783.78"/>
<path stroke="#dbdb8d" d="M226.8 762.90L228.3 762.91L229.8 762.90L231.3 762.90L232.8 762.91L234.3 762.91L235.8 762.92L237.3 762.94L238.8 762.92L240.3 762.92L241.8 762.94L243.3 762.94L244.8 762.94L246.3 762.93L247.8 762.95L249.3 762.96L250.8 762.94L252.3 762.95L253.8 762.94L255.3 762.95L256.8 762.95L258.3 762.97L259.8 762.96L261.3 762.99L262.8 762.99L264.3 762.99L265.8 762.96L267.3 762.99L268.8 763.00L270.3 763.00L271.8 762.99L273.3 763.00L274.8 763.00L276.3 763.01L277.8 763.03L279.3 763.01L280.8 763.03L282.3 763.04L283.8 763.04L285.3 763.08L286.8 763.10L288.3 763.10L289.8 763.09L291.3 763.11L292.8 763.14L294.3 763.10L295.8 763.14L297.3 763.13L298.8 763.13L300.3 763.16L301.8 763.15L303.3 763.12L304.8 763.14L306.3 763.15L307.8 763.14L309.3 763.15L310.8 763.15L312.3 763.16L313.8 763.17L315.3 763.14L316.8 763.15L318.3 763.15L319.8 763.16L321.3 763.14L322.8 763.16L324.3 763.16L325.8 763.18L327.3 763.19L328.8 763.16L330.3 763.17L331.8 763.19L333.3 763.16L334.8 763.19L336.3 763.19L337.8 763.21L339.3 763.21L340.8 763.20L342.3 763.20L343.8 763.21L345.3 763.24L346.8 763.21L348.3 763.22L349.8 763.23L351.3 763.23L352.8 763.23L354.3 763.22L355.8 763.24L357.3 763.24L358.8 763.26L360.3 763.26L361.8 763.26L363.3 763.27L364.8 763.26L366.3 763.28L367.8 763.27L369.3 763.28L370.8 763.26L372.3 763.29L373.8 763.26L375.3 763.26L376.8 763.29L378.3 763.28L379.8 763.30L381.3 763.33L382.8 763.30L384.3 763.30L385.8 763.32L387.3 763.32L388.8 763.32L390.3 763.32L391.8 763.34L393.3 763.34L394.8 763.32L396.3 763.34L397.8 763.34L399.3 763.33L400.8 763.35L402.3 763.34L403.8 763.37L405.3 763.36L406.8 763.36L408.3 763.36L409.8 763.37L411.3 763.35L412.8 763.36L414.3 763.39L415.8 763.36L417.3 763.40L418.8 763.37L420.3 763.41L421.8 763.39L423.3 763.41L424.8 763.41L426.3 763.39L427.8 763.43L429.3 763.44L430.8 763.42L432.3 763.42L433.8 763.43L435.3 763.42L436.8 763.45L438.3 763.43L439.8 763.44L441.3 763.44L442.8 763.44L444.3 763.44L445.8 763.47L447.3 763.46L448.8 763.48L450.3 763.47L451.8 763.46L453.3 763.47L454.8 763.47L456.3 763.48L457.8 763.48L459.3 763.49L460.8 763.48L462.3 763.49L463.8 763.52L465.3 763.49L466.8 763.49L468.3 763.51L469.8 763.53L471.3 763.50L472.8 763.52L474.3 763.52L475.8 763.51L477.3 763.54L478.8 763.54L480.3 763.54L481.8 763.53L483.3 763.55L484.8 763.54L486.3 763.55L487.8 763.54L489.3 763.55L490.8 763.58L492.3 763.56L493.8 763.57L495.3 763.57L496.8 763.57L498.3 763.58L499.8 763.59L501.3 763.59L502.8 763.59L504.3 763.60L505.8 763.61L507.3 763.61L508.8 763.61L510.3 763.60L511.8 763.60L513.3 763.63L514.8 763.63L516.3 763.62L517.8 763.64L519.3 763.64L520.8 763.65L522.3 763.65L523.8 763.64L525.3 763.67L526.8 763.64L528.3 763.67L529.8 763.67L531.3 763.68L532.8 763.69L534.3 763.69L535.8 763.66L537.3 763.66L538.8 763.70L540.3 763.68L541.8 763.69L543.3 763.71L544.8 763.68L546.3 763.68L547.8 763.71L549.3 763.71L550.8 763.71L552.3 763.72L553.8 763.72L555.3 763.71L556.8 763.73L558.3 763.73L559.8 763.72L561.3 763.75L562.8 763.75L564.3 763.76L565.8 763.75L567.3 763.75L568.8 763.75L570.3 763.76L571.8 763.78L573.3 763.77L574.8 763.79L576.3 763.79L577.8 763.82L579.3 763.78L580.8 763.81L582.3 763.80L583.8 763.81L585.3 763.79L586.8 763.81L588.3 763.83L589.8 763.82L591.3 763.83L592.8 763.83L594.3 763.85L595.8 763.84L597.3 763.82L598.8 763.84L600.3 763.83L601.8 763.82L603.3 763.85L604.8 763.88L606.3 763.87L607.8 763.86L609.3 763.87L610.8 763.90L612.3 763.89L613.8 763.89L615.3 763.89L616.8 763.90L618.3 763.91L619.8 763.91L621.3 763.91L622.8 763.90L624.3 763.92L625.8 763.91L627.3 763.94L628.8 763.91L630.3 763.93L631.8 763.94L633.3 763.93L634.8 763.97L636.3 763.97L637.8 763.95L639.3 763.97L640.8 763.97L642.3 763.93L643.8 763.97L645.3 763.97L646.8 763.98L648.3 763.97L649.8 763.98L651.3 763.99L652.8 764.01L654.3 764.00L655.8 764.00L657.3 764.02L658.8 764.00L660.3 764.00L661.8 763.99L663.3 764.04L664.8 764.03L666.3 764.04L667.8 764.04L669.3 764.03L670.8 764.04L672.3 764.04L673.8 764.04L675.3 764.05L676.8 764.07L678.3 764.06L679.8 764.06L681.3 764.05L682.8 764.06L684.3 764.09L685.8 764.08L687.3 764.08L688.8 764.07L690.3 764.07L691.8 764.09L693.3 764.10L694.8 764.09L696.3 764.09L697.8 764.10L699.3 764.11L700.8 764.09L702.3 764.11L703.8 764.10L705.3 764.13L706.8 764.11L708.3 764.13L709.8 764.15L711.3 764.13L712.8 764.13L714.3 764.14L715.8 764.14L717.3 764.14L718.8 764.16L720.3 764.18L721.8 764.16L723.3 764.16L724.8 764.15L726.3 764.17L727.8 764.16L729.3 764.16L730.8 764.20L732.3 764.17L733.8 764.20L735.3 764.21L736.8 764.20L738.3 764.21L739.8 764.23L741.3 764.20L742.8 764.20L744.3 764.20L745.8 764.22L747.3 764.24L748.8 764.24L750.3 764.22L751.8 764.22L753.3 764.23L754.8 764.24L756.3 764.24L757.8 764.25L759.3 764.25L760.8 764.25L762.3 764.25L763.8 764.26L765.3 764.26L766.8 764.27L768.3 764.28L769.8 764.27L771.3 764.27L772.8 764.25L774.3 764.27L775.8 764.25L777.3 764.25L778.8 764.28L780.3 764.28L781.8 764.28L783.3 764.26L784.8 764.28L786.3 764.27L787.8 764.29L789.3 764.32L790.8 764.29L792.3 764.28L793.8 764.28L795.3 764.29L796.8 764.29L798.3 764.28L799.8 764.30L801.3 764.29L802.8 764.33L804.3 764.34L805.8 764.35L807.3 764.33L808.8 764.36L810.3 764.36L811.8 764.36L813.3 764.37L814.8 764.37L816.3 764.37L817.8 764.41L819.3 764.41L820.8 764.42L822.3 764.44L823.8 764.41L825.3 764.44L826.8 764.46L828.3 764.46L829.8 764.45L831.3 764.43L832.8 764.41L834.3 764.39L835.8 764.38L837.3 764.36L838.8 764.34L840.3 764.33L841.8 764.31L843.3 764.29L844.8 764.27L846.3 764.26L847.8 764.24L849.3 764.26L850.8 764.31L852.3 764.27L853.8 764.26L855.3 764.23L856.8 764.24L858.3 764.23L859.8 764.26L861.3 764.28L862.8 764.28L864.3 764.30L865.8 764.30L867.3 764.31L868.8 764.33L870.3 764.35L871.8 764.38L873.3 764.40L874.8 764.42L876.3 764.44L877.8 764.45L879.3 764.46L880.8 764.49L882.3 764.51L883.8 764.51L885.3 764.53L886.8 764.54L888.3 764.56L889.8 764.59L891.3 764.59L892.8 764.62L894.3 764.62L895.8 764.65L897.3 764.66L898.8 764.67L900.3 764.69L901.8 764.71L903.3 764.73L904.8 764.74L906.3 764.76L907.8 764.78L909.3 764.80L910.8 764.83L912.3 764.83L913.8 764.85L915.3 764.83L916.8 764.85L918.3 764.84L919.8 764.83L921.3 764.85L922.8 764.86L924.3 764.84L925.8 764.84L927.3 764.84L928.8 764.84L930.3 764.85L931.8 764.84L933.3 764.84L934.8 764.85L936.3 764.84L937.8 764.85L939.3 764.84L940.8 764.84L942.3 764.84L943.8 764.87L945.3 764.86L946.8 764.87L948.3 764.87L949.8 764.87L951.3 764.87L952.8 764.90L954.3 764.89L955.8 764.90L957.3 764.92L958.8 764.94L960.3 764.97L961.8 764.99L963.3 765.00L964.8 765.01L966.3 765.04L967.8 765.07L969.3 765.06L970.8 765.10L972.3 765.10L973.8 765.13L975.3 765.13L976.8 765.16L978.3 765.16L979.8 765.18L981.3 765.22L982.8 765.23L984.3 765.24L985.8 765.26L987.3 765.27L988.8 765.29L990.3 765.32L991.8 765.33L993.3 765.33L994.8 765.33L996.3 765.35L997.8 765.35L999.3 765.39L1000.8 765.43L1002.3 765.46L1003.8 765.49L1005.3 765.53L1006.8 765.54L1008.3 765.55L1009.8 765.59L1011.3 765.63L1012.8 765.69L1014.3 765.72L1015.8 765.73L1017.3 765.75L1018.8 765.76L1020.3 765.77L1021.8 765.79L1023.3 765.81L1024.8 765.83L1026.3 765.84L1027.8 765.85L1029.3 765.87L1030.8 765.87L1032.3 765.86L1033.8 765.85L1035.3 765.82L1036.8 765.83L1038.3 765.82L1039.8 765.81L1041.3 765.80L1042.8 765.78L1044.3 765.76L1045.8 765.78L1047.3 765.80L1048.8 765.82L1050.3 765.82L1051.8 765.85L1053.3 765.86L1054.8 765.86L1056.3 765.85L1057.8 765.84L1059.3 765.80L1060.8 765.80L1062.3 765.79L1063.8 765.78L1065.3 765.78L1066.8 765.76L1068.3 765.75L1069.8 765.75L1071.3 765.74L1072.8 765.72L1074.3 765.69L1075.8 765.68L1077.3 765.66L1078.8 765.64L1080.3 765.67L1081.8 765.70L1083.3 765.77L1084.8 765.80L1086.3 765.83L1087.8 765.85L1089.3 765.82L1090.8 765.80L1092.3 765.80L1093.8 765.80L1095.3 765.78L1096.8 765.77L1098.3 765.79L1099.8 765.81L1101.3 765.81L1102.8 765.83L1104.3 765.83L1105.8 765.85L1107.3 765.87L1108.8 765.88L1110.3 765.89L1111.8 765.92L1113.3 765.93L1114.8 765.94L1116.3 765.96L1117.8 765.97L1119.3 765.98L1120.8 765.98L1122.3 765.98L1123.8 766.01L1125.3 766.06L1126.8 766.11L1128.3 766.19L1129.8 766.24L1131.3 766.27L1132.8 766.28L1134.3 766.30L1135.8 766.31L1137.3 766.31L1138.8 766.31L1140.3 766.33L1141.8 766.34L1143.3 766.35L1144.8 766.35L1146.3 766.39L1147.8 766.44L1149.3 766.39L1150.8 766.41L1152.3 766.44L1153.8 766.47L1155.3 766.50L1156.8 766.52L1158.3 766.53L1159.8 766.54L1161.3 766.56L1162.8 766.56L1164.3 766.57L1165.8 766.56L1167.3 766.56L1168.8 766.53L1170.3 766.51L1171.8 766.49L1173.3 766.47L1174.8 766.44L1176.3 766.44L1177.8 766.41L1179.3 766.40L1180.8 766.39L1182.3 766.39L1183.8 766.38L1185.3 766.35L1186.8 766.34L1188.3 766.34L1189.8 766.33L1191.3 766.31L1192.8 766.32L1194.3 766.31L1195.8 766.30L1197.3 766.29L1198.8 766.30L1200.3 766.29L1201.8 766.29L1203.3 766.28L1204.8 766.29L1206.3 766.31L1207.8 766.31L1209.3 766.33L1210.8 766.33L1212.3 766.34L1213.8 766.35L1215.3 766.35L1216.8 766.35L1218.3 766.33L1219.8 766.32L1221.3 766.33L1222.8 766.34L1224.3 766.35L1225.8 766.34L1227.3 766.35L1228.8 766.37L1230.3 766.37L1231.8 766.37L1233.3 766.39L1234.8 766.40L1236.3 766.38L1237.8 766.37L1239.3 766.36L1240.8 766.36L1242.3 766.35L1243.8 766.36L1245.3 766.37L1246.8 766.38L1248.3 766.38L1249.8 766.39L1251.3 766.39L1252.8 766.40L1254.3 766.40L1255.8 766.41L1257.3 766.39L1258.8 766.38L1260.3 766.37L1261.8 766.36L1263.3 766.38L1264.8 766.37L1266.3 766.38L1267.8 766.39L1269.3 766.42L1270.8 766.41L1272.3 766.41L1273.8 766.43L1275.3 766.44L1276.8 766.41L1278.3 766.40L1279.8 766.40L1281.3 766.38L1282.8 766.39L1284.3 766.39L1285.8 766.41L1287.3 766.42L1288.8 766.42L1290.3 766.42L1291.8 766.41L1293.3 766.44L1294.8 766.44L1296.3 766.43L1297.8 766.42L1299.3 766.40L1300.8 766.38L1302.3 766.40L1303.8 766.40L1305.3 766.41L1306.8 766.41L1308.3 766.42L1309.8 766.41L1311.3 766.45L1312.8 766.45L1314.3 766.46L1315.8 766.46L1317.3 766.43L1318.8 766.41L1320.3 766.41L1321.8 766.40L1323.3 766.41L1324.8 766.42L1326.3 766.41L1327.8 766.44L1329.3 766.43L1330.8 766.45L1332.3 766.46L1333.8 766.46L1335.3 766.46L1336.8 766.45L1338.3 766.44L1339.8 766.42L1341.3 766.42L1342.8 766.44L1344.3 766.44L1345.8 766.45L1347.3 766.45L1348.8 766.45L1350.3 766.47L1351.8 766.47L1353.3 766.47L1354.8 766.48L1356.3 766.47L1357.8 766.45L1359.3 766.45L1360.8 766.43L1362.3 766.43L1363.8 766.46L1365.3 766.45L1366.8 766.45L1368.3 766.47L1369.8 766.48L1371.3 766.47L1372.8 766.48L1374.3 766.50L1375.8 766.49L1377.3 766.48L1378.8 766.48L1380.3 766.45L1381.8 766.45L1383.3 766.45L1384.8 766.47L1386.3 766.45L1387.8 766.47L1389.3 766.48L1390.8 766.49L1392.3 766.50L1393.8 766.51L1395.3 766.49L1396.8 766.50L1398.3 766.48L1399.8 766.47L1401.3 766.46L1402.8 766.46L1404.3 766.46L1405.8 766.48L1407.3 766.48L1408.8 766.49L1410.3 766.50L1411.8 766.51L1413.3 766.53L1414.8 766.52L1416.3 766.50L1417.8 766.49L1419.3 766.48L1420.8 766.47L1422.3 766.48L1423.6 766.48"/>
<path stroke="#17becf" d="M226.8 656.10L228.3 656.16L229.8 656.06L231.3 655.96L232.8 656.05L234.3 655.95L235.8 656.16L237.3 656.41L238.8 656.07L240.3 656.06L241.8 656.27L243.3 656.26L244.8 656.22L246.3 656.03L247.8 656.21L249.3 656.35L250.8 655.98L252.3 656.15L253.8 655.89L255.3 656.01L256.8 655.92L258.3 656.23L259.8 656.04L261.3 656.34L262.8 656.33L264.3 656.27L265.8 655.84L267.3 656.22L268.8 656.32L270.3 656.36L271.8 656.06L273.3 656.26L274.8 656.18L276.3 656.22L277.8 656.58L279.3 656.23L280.8 656.39L282.3 656.57L283.8 656.42L285.3 657.09L286.8 657.24L288.3 657.28L289.8 657.08L291.3 657.36L292.8 657.65L294.3 657.14L295.8 657.64L297.3 657.48L298.8 657.32L300.3 657.80L301.8 657.54L303.3 657.15L304.8 657.37L306.3 657.44L307.8 657.27L309.3 657.42L310.8 657.25L312.3 657.37L313.8 657.50L315.3 657.07L316.8 657.22L318.3 657.07L319.8 657.16L321.3 656.92L322.8 657.04L324.3 657.12L325.8 657.34L327.3 657.39L328.8 656.94L330.3 657.04L331.8 657.33L333.3 656.84L334.8 657.13L336.3 657.21L337.8 657.48L339.3 657.38L340.8 657.19L342.3 657.19L343.8 657.23L345.3 657.57L346.8 657.21L348.3 657.24L349.8 657.37L351.3 657.29L352.8 657.29L354.3 657.12L355.8 657.34L357.3 657.27L358.8 657.58L360.3 657.49L361.8 657.37L363.3 657.51L364.8 657.33L366.3 657.60L367.8 657.41L369.3 657.53L370.8 657.19L372.3 657.50L373.8 657.13L375.3 657.07L376.8 657.41L378.3 657.30L379.8 657.51L381.3 657.92L382.8 657.34L384.3 657.39L385.8 657.56L387.3 657.62L388.8 657.50L390.3 657.50L391.8 657.69L393.3 657.66L394.8 657.37L396.3 657.56L397.8 657.59L399.3 657.40L400.8 657.65L402.3 657.44L403.8 657.80L405.3 657.65L406.8 657.64L408.3 657.51L409.8 657.61L411.3 657.26L412.8 657.43L414.3 657.71L415.8 657.25L417.3 657.81L418.8 657.33L420.3 657.81L421.8 657.51L423.3 657.82L424.8 657.70L426.3 657.39L427.8 657.92L429.3 657.96L430.8 657.68L432.3 657.65L433.8 657.67L435.3 657.52L436.8 657.92L438.3 657.61L439.8 657.71L441.3 657.58L442.8 657.61L444.3 657.49L445.8 657.98L447.3 657.72L448.8 657.93L450.3 657.76L451.8 657.63L453.3 657.70L454.8 657.66L456.3 657.77L457.8 657.71L459.3 657.73L460.8 657.53L462.3 657.64L463.8 658.11L465.3 657.67L466.8 657.61L468.3 657.87L469.8 658.08L471.3 657.54L472.8 657.78L474.3 657.71L475.8 657.50L477.3 657.98L478.8 657.84L480.3 657.86L481.8 657.71L483.3 657.94L484.8 657.76L486.3 657.84L487.8 657.66L489.3 657.64L490.8 658.13L492.3 657.79L493.8 657.94L495.3 657.89L496.8 657.81L498.3 657.81L499.8 658.03L501.3 657.85L502.8 657.89L504.3 657.92L505.8 658.15L507.3 658.06L508.8 658.01L510.3 657.83L511.8 657.68L513.3 658.13L514.8 658.13L516.3 657.93L517.8 658.06L519.3 658.11L520.8 658.13L522.3 658.16L523.8 657.91L525.3 658.30L526.8 657.79L528.3 658.20L529.8 658.14L531.3 658.22L532.8 658.43L534.3 658.36L535.8 657.88L537.3 657.79L538.8 658.27L540.3 657.94L541.8 658.14L543.3 658.31L544.8 657.86L546.3 657.78L547.8 658.24L549.3 658.21L550.8 658.17L552.3 658.23L553.8 658.08L555.3 657.96L556.8 658.23L558.3 658.09L559.8 657.98L561.3 658.39L562.8 658.30L564.3 658.40L565.8 658.15L567.3 658.22L568.8 658.17L570.3 658.20L571.8 658.42L573.3 658.25L574.8 658.47L576.3 658.48L577.8 658.81L579.3 658.18L580.8 658.62L582.3 658.45L583.8 658.48L585.3 658.22L586.8 658.42L588.3 658.66L589.8 658.51L591.3 658.55L592.8 658.50L594.3 658.78L595.8 658.57L597.3 658.17L598.8 658.47L600.3 658.24L601.8 658.01L603.3 658.54L604.8 658.90L606.3 658.67L607.8 658.45L609.3 658.51L610.8 658.91L612.3 658.74L613.8 658.73L615.3 658.72L616.8 658.75L618.3 658.91L619.8 658.87L621.3 658.82L622.8 658.59L624.3 658.90L625.8 658.69L627.3 659.03L628.8 658.60L630.3 658.83L631.8 658.86L633.3 658.63L634.8 659.21L636.3 659.18L637.8 658.82L639.3 659.07L640.8 659.00L642.3 658.44L643.8 658.99L645.3 658.94L646.8 658.97L648.3 658.76L649.8 658.91L651.3 658.94L652.8 659.20L654.3 659.04L655.8 658.98L657.3 659.28L658.8 658.89L660.3 658.93L661.8 658.68L663.3 659.33L664.8 659.23L666.3 659.24L667.8 659.21L669.3 659.12L670.8 659.16L672.3 659.09L673.8 659.11L675.3 659.18L676.8 659.47L678.3 659.30L679.8 659.20L681.3 659.12L682.8 659.13L684.3 659.57L685.8 659.38L687.3 659.31L688.8 659.25L690.3 659.12L691.8 659.33L693.3 659.53L694.8 659.30L696.3 659.35L697.8 659.37L699.3 659.45L700.8 659.14L702.3 659.41L703.8 659.31L705.3 659.66L706.8 659.36L708.3 659.63L709.8 659.83L711.3 659.50L712.8 659.46L714.3 659.63L715.8 659.61L717.3 659.43L718.8 659.73L720.3 660.04L721.8 659.62L723.3 659.65L724.8 659.51L726.3 659.78L727.8 659.50L729.3 659.54L730.8 660.01L732.3 659.61L733.8 660.01L735.3 660.11L736.8 659.88L738.3 659.95L739.8 660.24L741.3 659.85L742.8 659.79L744.3 659.66L745.8 659.94L747.3 660.23L748.8 660.15L750.3 659.80L751.8 659.84L753.3 659.92L754.8 660.08L756.3 660.01L757.8 660.10L759.3 660.13L760.8 660.02L762.3 660.06L763.8 660.10L765.3 660.03L766.8 660.13L768.3 660.38L769.8 660.13L771.3 660.02L772.8 659.68L774.3 660.06L775.8 659.60L777.3 659.70L778.8 660.11L780.3 660.07L781.8 659.90L783.3 659.60L784.8 659.84L786.3 659.77L787.8 660.01L789.3 660.30L790.8 659.91L792.3 659.71L793.8 659.62L795.3 659.82L796.8 659.79L798.3 659.59L799.8 659.82L801.3 659.58L802.8 660.01L804.3 660.00L805.8 660.01L807.3 659.71L808.8 659.90L810.3 659.78L811.8 659.73L813.3 659.74L814.8 659.55L816.3 659.53L817.8 659.95L819.3 659.76L820.8 659.84L822.3 659.94L823.8 659.31L825.3 659.37L826.8 659.43L828.3 659.31L829.8 658.97L831.3 658.63L832.8 658.28L834.3 657.94L835.8 657.60L837.3 657.26L838.8 656.91L840.3 656.57L841.8 656.23L843.3 655.88L844.8 655.54L846.3 655.20L847.8 654.86L849.3 655.03L850.8 655.72L852.3 654.94L853.8 654.62L855.3 654.01L856.8 654.00L858.3 653.71L859.8 653.93L861.3 654.17L862.8 653.86L864.3 654.04L865.8 653.88L867.3 653.70L868.8 653.90L870.3 654.05L871.8 654.24L873.3 654.32L874.8 654.43L876.3 654.55L877.8 654.54L879.3 654.61L880.8 654.85L882.3 655.06L883.8 654.89L885.3 655.16L886.8 655.19L888.3 655.25L889.8 655.56L891.3 655.51L892.8 655.84L894.3 655.68L895.8 655.92L897.3 655.95L898.8 655.99L900.3 656.25L901.8 656.31L903.3 656.54L904.8 656.61L906.3 656.64L907.8 656.89L909.3 657.05L910.8 657.30L912.3 657.23L913.8 657.37L915.3 657.09L916.8 657.28L918.3 657.00L919.8 656.83L921.3 656.94L922.8 656.99L924.3 656.61L925.8 656.57L927.3 656.52L928.8 656.38L930.3 656.45L931.8 656.23L933.3 656.14L934.8 656.20L936.3 655.95L937.8 655.99L939.3 655.76L940.8 655.68L942.3 655.56L943.8 655.94L945.3 655.64L946.8 655.66L948.3 655.58L949.8 655.56L951.3 655.50L952.8 655.79L954.3 655.53L955.8 655.54L957.3 655.71L958.8 655.82L960.3 656.21L961.8 656.36L963.3 656.30L964.8 656.40L966.3 656.67L967.8 657.00L969.3 656.63L970.8 657.12L972.3 657.05L973.8 657.39L975.3 657.26L976.8 657.46L978.3 657.43L979.8 657.60L981.3 657.99L982.8 658.06L984.3 658.06L985.8 658.14L987.3 658.16L988.8 658.46L990.3 658.63L991.8 658.68L993.3 658.63L994.8 658.47L996.3 658.55L997.8 658.50L999.3 659.06L1000.8 659.74L1002.3 660.12L1003.8 660.65L1005.3 661.32L1006.8 661.44L1008.3 661.58L1009.8 662.10L1011.3 662.63L1012.8 663.46L1014.3 663.74L1015.8 663.91L1017.3 664.00L1018.8 664.07L1020.3 664.18L1021.8 664.40L1023.3 664.51L1024.8 664.73L1026.3 664.85L1027.8 664.83L1029.3 665.13L1030.8 665.04L1032.3 664.85L1033.8 664.61L1035.3 664.13L1036.8 664.21L1038.3 664.07L1039.8 663.89L1041.3 663.69L1042.8 663.29L1044.3 663.00L1045.8 663.19L1047.3 663.26L1048.8 663.44L1050.3 663.35L1051.8 663.58L1053.3 663.63L1054.8 663.53L1056.3 663.40L1057.8 663.31L1059.3 662.62L1060.8 662.60L1062.3 662.44L1063.8 662.30L1065.3 662.18L1066.8 661.92L1068.3 661.83L1069.8 661.79L1071.3 661.63L1072.8 661.28L1074.3 660.67L1075.8 660.49L1077.3 660.15L1078.8 659.71L1080.3 660.26L1081.8 660.76L1083.3 661.75L1084.8 662.33L1086.3 662.77L1087.8 662.88L1089.3 662.32L1090.8 662.00L1092.3 661.73L1093.8 661.64L1095.3 661.18L1096.8 660.98L1098.3 661.24L1099.8 661.41L1101.3 661.41L1102.8 661.57L1104.3 661.58L1105.8 661.76L1107.3 662.01L1108.8 662.12L1110.3 662.21L1111.8 662.59L1113.3 662.61L1114.8 662.79L1116.3 662.98L1117.8 663.05L1119.3 663.14L1120.8 663.11L1122.3 663.06L1123.8 663.44L1125.3 664.04L1126.8 664.72L1128.3 665.73L1129.8 666.32L1131.3 666.75L1132.8 666.90L1134.3 667.23L1135.8 667.27L1137.3 667.30L1138.8 667.21L1140.3 667.49L1141.8 667.70L1143.3 667.71L1144.8 667.73L1146.3 668.27L1147.8 668.78L1149.3 667.97L1150.8 668.08L1152.3 668.40L1153.8 668.65L1155.3 669.01L1156.8 669.10L1158.3 669.09L1159.8 669.17L1161.3 669.31L1162.8 669.24L1164.3 669.24L1165.8 669.16L1167.3 669.10L1168.8 668.68L1170.3 668.43L1171.8 668.15L1173.3 667.97L1174.8 667.51L1176.3 667.52L1177.8 667.10L1179.3 667.05L1180.8 666.87L1182.3 666.79L1183.8 666.62L1185.3 666.15L1186.8 666.05L1188.3 666.03L1189.8 665.75L1191.3 665.35L1192.8 665.31L1194.3 664.92L1195.8 664.61L1197.3 664.22L1198.8 664.29L1200.3 664.08L1201.8 664.11L1203.3 663.95L1204.8 664.03L1206.3 664.26L1207.8 664.29L1209.3 664.55L1210.8 664.63L1212.3 664.63L1213.8 664.86L1215.3 664.81L1216.8 664.80L1218.3 664.49L1219.8 664.38L1221.3 664.47L1222.8 664.70L1224.3 664.86L1225.8 664.84L1227.3 665.04L1228.8 665.36L1230.3 665.37L1231.8 665.46L1233.3 665.76L1234.8 665.94L1236.3 665.72L1237.8 665.47L1239.3 665.33L1240.8 665.38L1242.3 665.19L1243.8 665.36L1245.3 665.50L1246.8 665.64L1248.3 665.64L1249.8 665.83L1251.3 665.79L1252.8 665.94L1254.3 665.98L1255.8 666.09L1257.3 665.80L1258.8 665.56L1260.3 665.44L1261.8 665.32L1263.3 665.52L1264.8 665.38L1266.3 665.54L1267.8 665.71L1269.3 666.11L1270.8 666.05L1272.3 666.04L1273.8 666.23L1275.3 666.35L1276.8 665.94L1278.3 665.76L1279.8 665.76L1281.3 665.52L1282.8 665.59L1284.3 665.57L1285.8 665.92L1287.3 666.00L1288.8 665.98L1290.3 666.10L1291.8 665.92L1293.3 666.29L1294.8 666.27L1296.3 666.17L1297.8 666.03L1299.3 665.76L1300.8 665.46L1302.3 665.63L1303.8 665.62L1305.3 665.76L1306.8 665.83L1308.3 665.96L1309.8 665.86L1311.3 666.33L1312.8 666.33L1314.3 666.52L1315.8 666.50L1317.3 666.13L1318.8 665.77L1320.3 665.70L1321.8 665.54L1323.3 665.71L1324.8 665.88L1326.3 665.76L1327.8 666.11L1329.3 666.01L1330.8 666.30L1332.3 666.36L1333.8 666.44L1335.3 666.44L1336.8 666.23L1338.3 666.06L1339.8 665.78L1341.3 665.79L1342.8 666.03L1344.3 666.15L1345.8 666.18L1347.3 666.22L1348.8 666.17L1350.3 666.50L1351.8 666.44L1353.3 666.54L1354.8 666.58L1356.3 666.46L1357.8 666.24L1359.3 666.11L1360.8 665.84L1362.3 665.87L1363.8 666.25L1365.3 666.11L1366.8 666.19L1368.3 666.37L1369.8 666.49L1371.3 666.40L1372.8 666.60L1374.3 666.82L1375.8 666.64L1377.3 666.46L1378.8 666.44L1380.3 666.04L1381.8 665.99L1383.3 666.03L1384.8 666.34L1386.3 666.09L1387.8 666.32L1389.3 666.44L1390.8 666.66L1392.3 666.76L1393.8 666.94L1395.3 666.61L1396.8 666.69L1398.3 666.41L1399.8 666.21L1401.3 666.17L1402.8 666.06L1404.3 666.04L1405.8 666.32L1407.3 666.31L1408.8 666.50L1410.3 666.70L1411.8 666.80L1413.3 667.03L1414.8 666.91L1416.3 666.61L1417.8 666.53L1419.3 666.34L1420.8 666.15L1422.3 666.28L1423.6 666.25"/>
<path stroke="#9edae5" d="M226.8 638.20L228.3 638.30L229.8 638.12L231.3 637.92L232.8 638.06L234.3 637.90L235.8 638.23L237.3 638.63L238.8 638.06L240.3 638.02L241.8 638.37L243.3 638.33L244.8 638.25L246.3 637.93L247.8 638.21L249.3 638.44L250.8 637.80L252.3 638.08L253.8 637.63L255.3 637.82L256.8 637.65L258.3 638.16L259.8 637.84L261.3 638.32L262.8 638.29L264.3 638.18L265.8 637.45L267.3 638.07L268.8 638.23L270.3 638.28L271.8 637.77L273.3 638.10L274.8 637.94L276.3 638.00L277.8 638.59L279.3 638.00L280.8 638.25L282.3 638.54L283.8 638.27L285.3 639.38L286.8 639.62L288.3 639.67L289.8 639.32L291.3 639.78L292.8 640.24L294.3 639.39L295.8 640.20L297.3 639.93L298.8 639.65L300.3 640.43L301.8 639.99L303.3 639.33L304.8 639.68L306.3 639.79L307.8 639.50L309.3 639.73L310.8 639.44L312.3 639.63L313.8 639.82L315.3 639.11L316.8 639.34L318.3 639.08L319.8 639.22L321.3 638.80L322.8 638.99L324.3 639.12L325.8 639.46L327.3 639.54L328.8 638.77L330.3 638.94L331.8 639.39L333.3 638.56L334.8 639.05L336.3 639.17L337.8 639.60L339.3 639.42L340.8 639.10L342.3 639.09L343.8 639.13L345.3 639.69L346.8 639.08L348.3 639.12L349.8 639.33L351.3 639.18L352.8 639.16L354.3 638.88L355.8 639.22L357.3 639.09L358.8 639.60L360.3 639.44L361.8 639.23L363.3 639.45L364.8 639.14L366.3 639.58L367.8 639.25L369.3 639.43L370.8 638.85L372.3 639.36L373.8 638.73L375.3 638.62L376.8 639.17L378.3 638.98L379.8 639.32L381.3 639.98L382.8 639.01L384.3 639.08L385.8 639.34L387.3 639.43L388.8 639.23L390.3 639.22L391.8 639.51L393.3 639.45L394.8 638.97L396.3 639.27L397.8 639.31L399.3 638.97L400.8 639.38L402.3 639.03L403.8 639.60L405.3 639.35L406.8 639.32L408.3 639.10L409.8 639.25L411.3 638.66L412.8 638.93L414.3 639.40L415.8 638.61L417.3 639.55L418.8 638.73L420.3 639.51L421.8 639.01L423.3 639.52L424.8 639.31L426.3 638.79L427.8 639.66L429.3 639.72L430.8 639.24L432.3 639.18L433.8 639.21L435.3 638.95L436.8 639.60L438.3 639.08L439.8 639.24L441.3 639.00L442.8 639.05L444.3 638.85L445.8 639.64L447.3 639.20L448.8 639.55L450.3 639.25L451.8 639.02L453.3 639.13L454.8 639.06L456.3 639.24L457.8 639.11L459.3 639.14L460.8 638.79L462.3 638.97L463.8 639.75L465.3 639.01L466.8 638.89L468.3 639.33L469.8 639.66L471.3 638.76L472.8 639.15L474.3 639.01L475.8 638.66L477.3 639.44L478.8 639.20L480.3 639.23L481.8 638.97L483.3 639.35L484.8 639.03L486.3 639.15L487.8 638.85L489.3 638.81L490.8 639.61L492.3 639.03L493.8 639.28L495.3 639.18L496.8 639.05L498.3 639.02L499.8 639.38L501.3 639.09L502.8 639.13L504.3 639.18L505.8 639.55L507.3 639.39L508.8 639.29L510.3 638.99L511.8 638.73L513.3 639.47L514.8 639.47L516.3 639.12L517.8 639.33L519.3 639.41L520.8 639.43L522.3 639.47L523.8 639.04L525.3 639.67L526.8 638.81L528.3 639.49L529.8 639.38L531.3 639.51L532.8 639.84L534.3 639.73L535.8 638.91L537.3 638.75L538.8 639.55L540.3 638.98L541.8 639.31L543.3 639.59L544.8 638.82L546.3 638.68L547.8 639.44L549.3 639.38L550.8 639.30L552.3 639.40L553.8 639.13L555.3 638.93L556.8 639.37L558.3 639.12L559.8 638.92L561.3 639.61L562.8 639.44L564.3 639.60L565.8 639.17L567.3 639.29L568.8 639.19L570.3 639.24L571.8 639.59L573.3 639.29L574.8 639.66L576.3 639.66L577.8 640.21L579.3 639.14L580.8 639.87L582.3 639.57L583.8 639.61L585.3 639.16L586.8 639.49L588.3 639.88L589.8 639.63L591.3 639.69L592.8 639.58L594.3 640.05L595.8 639.69L597.3 639.01L598.8 639.50L600.3 639.11L601.8 638.71L603.3 639.58L604.8 640.18L606.3 639.78L607.8 639.41L609.3 639.49L610.8 640.16L612.3 639.86L613.8 639.84L615.3 639.82L616.8 639.86L618.3 640.11L619.8 640.04L621.3 639.94L622.8 639.56L624.3 640.06L625.8 639.69L627.3 640.26L628.8 639.53L630.3 639.90L631.8 639.95L633.3 639.54L634.8 640.51L636.3 640.44L637.8 639.85L639.3 640.25L640.8 640.13L642.3 639.18L643.8 640.09L645.3 639.99L646.8 640.03L648.3 639.67L649.8 639.92L651.3 639.95L652.8 640.38L654.3 640.11L655.8 640.00L657.3 640.48L658.8 639.83L660.3 639.88L661.8 639.45L663.3 640.54L664.8 640.37L666.3 640.37L667.8 640.31L669.3 640.15L670.8 640.21L672.3 640.08L673.8 640.11L675.3 640.21L676.8 640.69L678.3 640.41L679.8 640.24L681.3 640.09L682.8 640.09L684.3 640.82L685.8 640.49L687.3 640.37L688.8 640.26L690.3 640.04L691.8 640.39L693.3 640.70L694.8 640.32L696.3 640.40L697.8 640.42L699.3 640.54L700.8 640.02L702.3 640.47L703.8 640.29L705.3 640.86L706.8 640.36L708.3 640.80L709.8 641.12L711.3 640.56L712.8 640.49L714.3 640.76L715.8 640.72L717.3 640.42L718.8 640.90L720.3 641.41L721.8 640.71L723.3 640.75L724.8 640.50L726.3 640.95L727.8 640.48L729.3 640.54L730.8 641.31L732.3 640.64L733.8 641.29L735.3 641.45L736.8 641.07L738.3 641.18L739.8 641.64L741.3 640.98L742.8 640.88L744.3 640.66L745.8 641.12L747.3 641.59L748.8 641.44L750.3 640.86L751.8 640.91L753.3 641.04L754.8 641.31L756.3 641.17L757.8 641.32L759.3 641.37L760.8 641.18L762.3 641.23L763.8 641.29L765.3 641.17L766.8 641.33L768.3 641.73L769.8 641.30L771.3 641.11L772.8 640.54L774.3 641.16L775.8 640.40L777.3 640.55L778.8 641.23L780.3 641.16L781.8 640.86L783.3 640.35L784.8 640.74L786.3 640.62L787.8 641.01L789.3 641.49L790.8 640.83L792.3 640.49L793.8 640.34L795.3 640.66L796.8 640.60L798.3 640.27L799.8 640.64L801.3 640.26L802.8 640.99L804.3 640.99L805.8 641.02L807.3 640.55L808.8 640.88L810.3 640.70L811.8 640.64L813.3 640.68L814.8 640.40L816.3 640.37L817.8 641.10L819.3 640.81L820.8 640.96L822.3 641.16L823.8 640.15L825.3 640.31L826.8 640.47L828.3 640.32L829.8 639.75L831.3 639.18L832.8 638.61L834.3 638.05L835.8 637.48L837.3 636.91L838.8 636.34L840.3 635.77L841.8 635.20L843.3 634.63L844.8 634.06L846.3 633.49L847.8 632.92L849.3 633.15L850.8 634.23L852.3 632.87L853.8 632.28L855.3 631.20L856.8 631.12L858.3 630.59L859.8 630.97L861.3 631.37L862.8 630.87L864.3 631.18L865.8 630.92L867.3 630.63L868.8 630.98L870.3 631.23L871.8 631.56L873.3 631.72L874.8 631.91L876.3 632.11L877.8 632.07L879.3 632.15L880.8 632.51L882.3 632.81L883.8 632.48L885.3 632.89L886.8 632.89L888.3 632.96L889.8 633.43L891.3 633.29L892.8 633.80L894.3 633.49L895.8 633.84L897.3 633.85L898.8 633.87L900.3 634.26L901.8 634.32L903.3 634.66L904.8 634.73L906.3 634.73L907.8 635.11L909.3 635.33L910.8 635.70L912.3 635.54L913.8 635.75L915.3 635.29L916.8 635.60L918.3 635.14L919.8 634.86L921.3 635.05L922.8 635.13L924.3 634.50L925.8 634.44L927.3 634.35L928.8 634.12L930.3 634.25L931.8 633.88L933.3 633.74L934.8 633.83L936.3 633.42L937.8 633.49L939.3 633.11L940.8 632.98L942.3 632.79L943.8 633.41L945.3 632.93L946.8 632.96L948.3 632.83L949.8 632.79L951.3 632.69L952.8 633.13L954.3 632.67L955.8 632.66L957.3 632.91L958.8 633.06L960.3 633.66L961.8 633.88L963.3 633.75L964.8 633.88L966.3 634.29L967.8 634.80L969.3 634.16L970.8 634.93L972.3 634.78L973.8 635.33L975.3 635.07L976.8 635.37L978.3 635.29L979.8 635.53L981.3 636.15L982.8 636.23L984.3 636.19L985.8 636.29L987.3 636.28L988.8 636.75L990.3 637.01L991.8 637.03L993.3 636.90L994.8 636.58L996.3 636.64L997.8 636.52L999.3 637.27L1000.8 638.19L1002.3 638.62L1003.8 639.31L1005.3 640.22L1006.8 640.39L1008.3 640.65L1009.8 641.54L1011.3 642.45L1012.8 643.85L1014.3 644.31L1015.8 644.55L1017.3 644.65L1018.8 644.73L1020.3 644.87L1021.8 645.20L1023.3 645.33L1024.8 645.67L1026.3 645.82L1027.8 645.75L1029.3 646.21L1030.8 646.05L1032.3 645.74L1033.8 645.36L1035.3 644.58L1036.8 644.74L1038.3 644.53L1039.8 644.25L1041.3 643.95L1042.8 643.30L1044.3 642.84L1045.8 643.19L1047.3 643.36L1048.8 643.69L1050.3 643.59L1051.8 644.00L1053.3 644.13L1054.8 643.98L1056.3 643.78L1057.8 643.62L1059.3 642.48L1060.8 642.46L1062.3 642.19L1063.8 641.98L1065.3 641.77L1066.8 641.35L1068.3 641.20L1069.8 641.15L1071.3 640.88L1072.8 640.34L1074.3 639.41L1075.8 639.20L1077.3 638.72L1078.8 638.09L1080.3 638.72L1081.8 639.27L1083.3 640.64L1084.8 641.32L1086.3 641.76L1087.8 642.08L1089.3 641.32L1090.8 640.94L1092.3 640.65L1093.8 640.67L1095.3 640.06L1096.8 639.89L1098.3 640.32L1099.8 640.56L1101.3 640.50L1102.8 640.70L1104.3 640.65L1105.8 640.90L1107.3 641.25L1108.8 641.39L1110.3 641.48L1111.8 642.05L1113.3 642.03L1114.8 642.27L1116.3 642.52L1117.8 642.58L1119.3 642.68L1120.8 642.57L1122.3 642.44L1123.8 643.09L1125.3 644.10L1126.8 645.24L1128.3 646.93L1129.8 647.93L1131.3 648.60L1132.8 648.82L1134.3 649.32L1135.8 649.35L1137.3 649.37L1138.8 649.18L1140.3 649.61L1141.8 649.91L1143.3 649.89L1144.8 649.89L1146.3 650.78L1147.8 651.62L1149.3 650.27L1150.8 650.44L1152.3 650.96L1153.8 651.38L1155.3 651.96L1156.8 652.10L1158.3 652.08L1159.8 652.21L1161.3 652.43L1162.8 652.31L1164.3 652.27L1165.8 652.06L1167.3 651.88L1168.8 651.10L1170.3 650.60L1171.8 650.05L1173.3 649.68L1174.8 648.83L1176.3 648.77L1177.8 647.99L1179.3 647.82L1180.8 647.47L1182.3 647.30L1183.8 646.99L1185.3 646.18L1186.8 645.98L1188.3 645.91L1189.8 645.42L1191.3 644.94L1192.8 645.11L1194.3 644.70L1195.8 644.41L1197.3 643.98L1198.8 644.24L1200.3 643.87L1201.8 643.91L1203.3 643.62L1204.8 643.74L1206.3 644.10L1207.8 644.13L1209.3 644.55L1210.8 644.66L1212.3 644.64L1213.8 645.00L1215.3 644.90L1216.8 644.86L1218.3 644.33L1219.8 644.12L1221.3 644.21L1222.8 644.54L1224.3 644.74L1225.8 644.65L1227.3 644.92L1228.8 645.39L1230.3 645.35L1231.8 645.45L1233.3 645.88L1234.8 646.13L1236.3 645.70L1237.8 645.28L1239.3 645.03L1240.8 645.11L1242.3 644.79L1243.8 645.06L1245.3 645.28L1246.8 645.52L1248.3 645.51L1249.8 645.82L1251.3 645.74L1252.8 646.00L1254.3 646.04L1255.8 646.22L1257.3 645.74L1258.8 645.33L1260.3 645.12L1261.8 644.92L1263.3 645.24L1264.8 645.00L1266.3 645.26L1267.8 645.54L1269.3 646.20L1270.8 646.09L1272.3 646.07L1273.8 646.38L1275.3 646.56L1276.8 645.88L1278.3 645.58L1279.8 645.57L1281.3 645.16L1282.8 645.26L1284.3 645.22L1285.8 645.81L1287.3 645.93L1288.8 645.89L1290.3 646.08L1291.8 645.77L1293.3 646.39L1294.8 646.35L1296.3 646.18L1297.8 645.94L1299.3 645.48L1300.8 644.96L1302.3 645.24L1303.8 645.21L1305.3 645.45L1306.8 645.56L1308.3 645.77L1309.8 645.59L1311.3 646.36L1312.8 646.36L1314.3 646.67L1315.8 646.63L1317.3 646.00L1318.8 645.41L1320.3 645.28L1321.8 645.00L1323.3 645.29L1324.8 645.55L1326.3 645.35L1327.8 645.92L1329.3 645.76L1330.8 646.24L1332.3 646.33L1333.8 646.45L1335.3 646.45L1336.8 646.09L1338.3 645.79L1339.8 645.32L1341.3 645.33L1342.8 645.72L1344.3 645.91L1345.8 645.96L1347.3 646.01L1348.8 645.94L1350.3 646.47L1351.8 646.37L1353.3 646.53L1354.8 646.59L1356.3 646.38L1357.8 646.00L1359.3 645.78L1360.8 645.32L1362.3 645.37L1363.8 645.99L1365.3 645.75L1366.8 645.88L1368.3 646.18L1369.8 646.37L1371.3 646.22L1372.8 646.54L1374.3 646.89L1375.8 646.59L1377.3 646.28L1378.8 646.24L1380.3 645.57L1381.8 645.48L1383.3 645.54L1384.8 646.05L1386.3 645.62L1387.8 646.00L1389.3 646.19L1390.8 646.56L1392.3 646.71L1393.8 647.01L1395.3 646.45L1396.8 646.57L1398.3 646.10L1399.8 645.76L1401.3 645.68L1402.8 645.50L1404.3 645.46L1405.8 645.92L1407.3 645.89L1408.8 646.20L1410.3 646.54L1411.8 646.69L1413.3 647.07L1414.8 646.86L1416.3 646.35L1417.8 646.20L1419.3 645.89L1420.8 645.56L1422.3 645.77L1423.6 645.72"/>
</g>
<rect x="169.5" y="5.5" width="1313.0" height="816.0" fill="none" stroke="#000" stroke-width="2.8" stroke-linejoin="miter"/>
<g stroke="#000" stroke-width="2"><line x1="223" y1="821.5" x2="223" y2="835.8"/><line x1="423" y1="821.5" x2="423" y2="835.8"/><line x1="622" y1="821.5" x2="622" y2="835.8"/><line x1="821" y1="821.5" x2="821" y2="835.8"/><line x1="1020" y1="821.5" x2="1020" y2="835.8"/><line x1="1219" y1="821.5" x2="1219" y2="835.8"/><line x1="1418" y1="821.5" x2="1418" y2="835.8"/><line x1="154.0" y1="692" x2="169.5" y2="692"/><line x1="154.0" y1="531" x2="169.5" y2="531"/><line x1="154.0" y1="370" x2="169.5" y2="370"/><line x1="154.0" y1="209" x2="169.5" y2="209"/><line x1="154.0" y1="48" x2="169.5" y2="48"/></g>
<g><text transform="translate(223.00 877.80) scale(1 1.025)" font-size="37.0" text-anchor="middle">12:36</text><text transform="translate(423.00 877.80) scale(1 1.025)" font-size="37.0" text-anchor="middle">12:41</text><text transform="translate(622.00 877.80) scale(1 1.025)" font-size="37.0" text-anchor="middle">12:46</text><text transform="translate(821.00 877.80) scale(1 1.025)" font-size="37.0" text-anchor="middle">12:51</text><text transform="translate(1020.00 877.80) scale(1 1.025)" font-size="37.0" text-anchor="middle">12:56</text><text transform="translate(1219.00 877.80) scale(1 1.025)" font-size="37.0" text-anchor="middle">13:01</text><text transform="translate(1418.00 877.80) scale(1 1.025)" font-size="37.0" text-anchor="middle">13:06</text><text transform="translate(138.60 705.90) scale(1 1.025)" font-size="37.0" text-anchor="end">1000</text><text transform="translate(138.60 544.90) scale(1 1.025)" font-size="37.0" text-anchor="end">2000</text><text transform="translate(138.60 383.90) scale(1 1.025)" font-size="37.0" text-anchor="end">3000</text><text transform="translate(138.60 222.90) scale(1 1.025)" font-size="37.0" text-anchor="end">4000</text><text transform="translate(138.60 61.90) scale(1 1.025)" font-size="37.0" text-anchor="end">5000</text></g>
<text transform="translate(826.00 928.70) scale(1 1.025)" font-size="37.5" text-anchor="middle">Times (UT+8)</text>
<text transform="translate(31.90 414.30) rotate(-90) scale(1 1.025)" font-size="37.5" text-anchor="middle">Data / mV</text>
<g><line x1="1519" y1="43" x2="1581" y2="43" stroke="#1f77b4" stroke-width="4"/><text transform="translate(1602.00 53.80) scale(1 1.055)" font-size="29.4">68.5-69.5 GHz_R</text><line x1="1519" y1="86" x2="1581" y2="86" stroke="#aec7e8" stroke-width="4"/><text transform="translate(1602.00 96.80) scale(1 1.055)" font-size="29.4">66.5-67.5 GHz_R</text><line x1="1519" y1="128" x2="1581" y2="128" stroke="#ff7f0e" stroke-width="4"/><text transform="translate(1602.00 138.80) scale(1 1.055)" font-size="29.4">64.5-65.5 GHz_R</text><line x1="1519" y1="171" x2="1581" y2="171" stroke="#ffbb78" stroke-width="4"/><text transform="translate(1602.00 181.80) scale(1 1.055)" font-size="29.4">62.5-63.5 GHz_R</text><line x1="1519" y1="214" x2="1581" y2="214" stroke="#2ca02c" stroke-width="4"/><text transform="translate(1602.00 224.80) scale(1 1.055)" font-size="29.4">60.5-61.5 GHz_R</text><line x1="1519" y1="256" x2="1581" y2="256" stroke="#98df8a" stroke-width="4"/><text transform="translate(1602.00 266.80) scale(1 1.055)" font-size="29.4">58.5-59.5 GHz_R</text><line x1="1519" y1="299" x2="1581" y2="299" stroke="#d62728" stroke-width="4"/><text transform="translate(1602.00 309.80) scale(1 1.055)" font-size="29.4">56.5-57.5 GHz_R</text><line x1="1519" y1="341" x2="1581" y2="341" stroke="#ff9896" stroke-width="4"/><text transform="translate(1602.00 351.80) scale(1 1.055)" font-size="29.4">54.5-55.5 GHz_R</text><line x1="1519" y1="384" x2="1581" y2="384" stroke="#9467bd" stroke-width="4"/><text transform="translate(1602.00 394.80) scale(1 1.055)" font-size="29.4">52.5-53.5 GHz_R</text><line x1="1519" y1="426" x2="1581" y2="426" stroke="#c5b0d5" stroke-width="4"/><text transform="translate(1602.00 436.80) scale(1 1.055)" font-size="29.4">50.5-51.5 GHz_R</text><line x1="1519" y1="469" x2="1581" y2="469" stroke="#8c564b" stroke-width="4"/><text transform="translate(1602.00 479.80) scale(1 1.055)" font-size="29.4">68.5-69.5 GHz_L</text><line x1="1519" y1="512" x2="1581" y2="512" stroke="#c49c94" stroke-width="4"/><text transform="translate(1602.00 522.80) scale(1 1.055)" font-size="29.4">66.5-67.5 GHz_L</text><line x1="1519" y1="554" x2="1581" y2="554" stroke="#e377c2" stroke-width="4"/><text transform="translate(1602.00 564.80) scale(1 1.055)" font-size="29.4">64.5-65.5 GHz_L</text><line x1="1519" y1="597" x2="1581" y2="597" stroke="#f7b6d2" stroke-width="4"/><text transform="translate(1602.00 607.80) scale(1 1.055)" font-size="29.4">62.5-63.5 GHz_L</text><line x1="1519" y1="639" x2="1581" y2="639" stroke="#7f7f7f" stroke-width="4"/><text transform="translate(1602.00 649.80) scale(1 1.055)" font-size="29.4">60.5-61.5 GHz_L</text><line x1="1519" y1="682" x2="1581" y2="682" stroke="#c7c7c7" stroke-width="4"/><text transform="translate(1602.00 692.80) scale(1 1.055)" font-size="29.4">58.5-59.5 GHz_L</text><line x1="1519" y1="725" x2="1581" y2="725" stroke="#bcbd22" stroke-width="4"/><text transform="translate(1602.00 735.80) scale(1 1.055)" font-size="29.4">56.5-57.5 GHz_L</text><line x1="1519" y1="767" x2="1581" y2="767" stroke="#dbdb8d" stroke-width="4"/><text transform="translate(1602.00 777.80) scale(1 1.055)" font-size="29.4">54.5-55.5 GHz_L</text><line x1="1519" y1="810" x2="1581" y2="810" stroke="#17becf" stroke-width="4"/><text transform="translate(1602.00 820.80) scale(1 1.055)" font-size="29.4">52.5-53.5 GHz_L</text><line x1="1519" y1="852" x2="1581" y2="852" stroke="#9edae5" stroke-width="4"/><text transform="translate(1602.00 862.80) scale(1 1.055)" font-size="29.4">50.5-51.5 GHz_L</text></g>
</svg>
</body></html>
